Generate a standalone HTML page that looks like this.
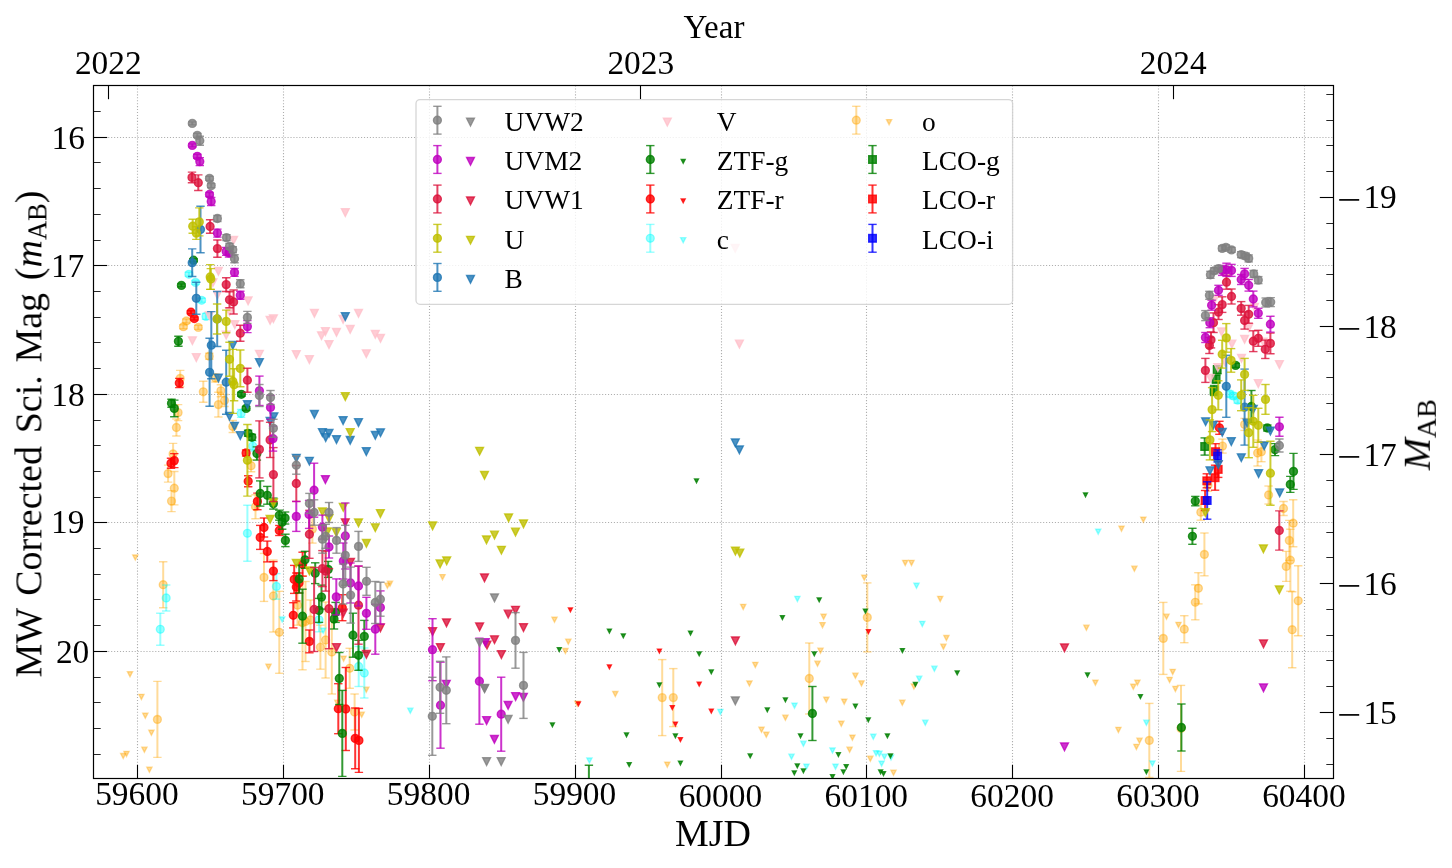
<!DOCTYPE html>
<html><head><meta charset="utf-8"><title>Light curve</title>
<style>html,body{margin:0;padding:0;background:#fff;}body{width:1452px;height:868px;overflow:hidden;position:relative;font-family:"Liberation Serif",serif;}</style></head>
<body>
<svg width="1452" height="868" viewBox="0 0 1452 868" style="position:absolute;left:0;top:0">
<rect x="0" y="0" width="1452" height="868" fill="#fff"/>
<defs><clipPath id="cp"><rect x="93.5" y="85.5" width="1240.0" height="693.0"/></clipPath></defs>
<g stroke="#aeaeae" stroke-width="1.1" stroke-dasharray="1.1 1.84" fill="none">
<line x1="137.5" y1="85.5" x2="137.5" y2="778.5"/>
<line x1="283.5" y1="85.5" x2="283.5" y2="778.5"/>
<line x1="429.5" y1="85.5" x2="429.5" y2="778.5"/>
<line x1="575.5" y1="85.5" x2="575.5" y2="778.5"/>
<line x1="721.5" y1="85.5" x2="721.5" y2="778.5"/>
<line x1="866.5" y1="85.5" x2="866.5" y2="778.5"/>
<line x1="1012.5" y1="85.5" x2="1012.5" y2="778.5"/>
<line x1="1158.5" y1="85.5" x2="1158.5" y2="778.5"/>
<line x1="1304.5" y1="85.5" x2="1304.5" y2="778.5"/>
<line x1="93.5" y1="137.5" x2="1333.5" y2="137.5"/>
<line x1="93.5" y1="265.5" x2="1333.5" y2="265.5"/>
<line x1="93.5" y1="394.5" x2="1333.5" y2="394.5"/>
<line x1="93.5" y1="522.5" x2="1333.5" y2="522.5"/>
<line x1="93.5" y1="651.5" x2="1333.5" y2="651.5"/>
</g>
<g clip-path="url(#cp)">
<g id="s_o">
<g stroke="#ffa500" stroke-opacity="0.4" fill="none"><line x1="186.4" y1="319.0" x2="186.4" y2="323.0" stroke-width="2.0"/><line x1="182.2" y1="319.0" x2="190.6" y2="319.0" stroke-width="1.4"/><line x1="182.2" y1="323.0" x2="190.6" y2="323.0" stroke-width="1.4"/></g>
<g stroke="#ffa500" stroke-opacity="0.4" fill="none"><line x1="183.4" y1="324.7" x2="183.4" y2="328.7" stroke-width="2.0"/><line x1="179.2" y1="324.7" x2="187.6" y2="324.7" stroke-width="1.4"/><line x1="179.2" y1="328.7" x2="187.6" y2="328.7" stroke-width="1.4"/></g>
<g stroke="#ffa500" stroke-opacity="0.4" fill="none"><line x1="198.3" y1="325.4" x2="198.3" y2="329.4" stroke-width="2.0"/><line x1="194.1" y1="325.4" x2="202.5" y2="325.4" stroke-width="1.4"/><line x1="194.1" y1="329.4" x2="202.5" y2="329.4" stroke-width="1.4"/></g>
<g stroke="#ffa500" stroke-opacity="0.4" fill="none"><line x1="209.3" y1="353.2" x2="209.3" y2="359.2" stroke-width="2.0"/><line x1="205.1" y1="353.2" x2="213.5" y2="353.2" stroke-width="1.4"/><line x1="205.1" y1="359.2" x2="213.5" y2="359.2" stroke-width="1.4"/></g>
<g stroke="#ffa500" stroke-opacity="0.4" fill="none"><line x1="180.2" y1="370.4" x2="180.2" y2="386.4" stroke-width="2.0"/><line x1="176.0" y1="370.4" x2="184.4" y2="370.4" stroke-width="1.4"/><line x1="176.0" y1="386.4" x2="184.4" y2="386.4" stroke-width="1.4"/></g>
<g stroke="#ffa500" stroke-opacity="0.4" fill="none"><line x1="203.3" y1="381.3" x2="203.3" y2="402.3" stroke-width="2.0"/><line x1="199.1" y1="381.3" x2="207.5" y2="381.3" stroke-width="1.4"/><line x1="199.1" y1="402.3" x2="207.5" y2="402.3" stroke-width="1.4"/></g>
<g stroke="#ffa500" stroke-opacity="0.4" fill="none"><line x1="215.4" y1="374.0" x2="215.4" y2="382.0" stroke-width="2.0"/><line x1="211.2" y1="374.0" x2="219.6" y2="374.0" stroke-width="1.4"/><line x1="211.2" y1="382.0" x2="219.6" y2="382.0" stroke-width="1.4"/></g>
<g stroke="#ffa500" stroke-opacity="0.4" fill="none"><line x1="220.9" y1="384.8" x2="220.9" y2="396.8" stroke-width="2.0"/><line x1="216.7" y1="384.8" x2="225.1" y2="384.8" stroke-width="1.4"/><line x1="216.7" y1="396.8" x2="225.1" y2="396.8" stroke-width="1.4"/></g>
<g stroke="#ffa500" stroke-opacity="0.4" fill="none"><line x1="224.5" y1="394.5" x2="224.5" y2="406.5" stroke-width="2.0"/><line x1="220.3" y1="394.5" x2="228.7" y2="394.5" stroke-width="1.4"/><line x1="220.3" y1="406.5" x2="228.7" y2="406.5" stroke-width="1.4"/></g>
<g stroke="#ffa500" stroke-opacity="0.4" fill="none"><line x1="218.4" y1="392.2" x2="218.4" y2="417.0" stroke-width="2.0"/><line x1="214.2" y1="392.2" x2="222.6" y2="392.2" stroke-width="1.4"/><line x1="214.2" y1="417.0" x2="222.6" y2="417.0" stroke-width="1.4"/></g>
<g stroke="#ffa500" stroke-opacity="0.4" fill="none"><line x1="178.1" y1="404.6" x2="178.1" y2="420.6" stroke-width="2.0"/><line x1="173.9" y1="404.6" x2="182.3" y2="404.6" stroke-width="1.4"/><line x1="173.9" y1="420.6" x2="182.3" y2="420.6" stroke-width="1.4"/></g>
<g stroke="#ffa500" stroke-opacity="0.4" fill="none"><line x1="176.4" y1="419.0" x2="176.4" y2="436.0" stroke-width="2.0"/><line x1="172.2" y1="419.0" x2="180.6" y2="419.0" stroke-width="1.4"/><line x1="172.2" y1="436.0" x2="180.6" y2="436.0" stroke-width="1.4"/></g>
<g stroke="#ffa500" stroke-opacity="0.4" fill="none"><line x1="232.8" y1="420.5" x2="232.8" y2="432.5" stroke-width="2.0"/><line x1="228.6" y1="420.5" x2="237.0" y2="420.5" stroke-width="1.4"/><line x1="228.6" y1="432.5" x2="237.0" y2="432.5" stroke-width="1.4"/></g>
<g stroke="#ffa500" stroke-opacity="0.4" fill="none"><line x1="173.1" y1="443.4" x2="173.1" y2="464.4" stroke-width="2.0"/><line x1="168.9" y1="443.4" x2="177.3" y2="443.4" stroke-width="1.4"/><line x1="168.9" y1="464.4" x2="177.3" y2="464.4" stroke-width="1.4"/></g>
<g stroke="#ffa500" stroke-opacity="0.4" fill="none"><line x1="251.1" y1="459.7" x2="251.1" y2="471.7" stroke-width="2.0"/><line x1="246.9" y1="459.7" x2="255.3" y2="459.7" stroke-width="1.4"/><line x1="246.9" y1="471.7" x2="255.3" y2="471.7" stroke-width="1.4"/></g>
<g stroke="#ffa500" stroke-opacity="0.4" fill="none"><line x1="168.1" y1="465.1" x2="168.1" y2="482.1" stroke-width="2.0"/><line x1="163.9" y1="465.1" x2="172.3" y2="465.1" stroke-width="1.4"/><line x1="163.9" y1="482.1" x2="172.3" y2="482.1" stroke-width="1.4"/></g>
<g stroke="#ffa500" stroke-opacity="0.4" fill="none"><line x1="174.3" y1="471.5" x2="174.3" y2="504.9" stroke-width="2.0"/><line x1="170.1" y1="471.5" x2="178.5" y2="471.5" stroke-width="1.4"/><line x1="170.1" y1="504.9" x2="178.5" y2="504.9" stroke-width="1.4"/></g>
<g stroke="#ffa500" stroke-opacity="0.4" fill="none"><line x1="171.5" y1="490.6" x2="171.5" y2="511.6" stroke-width="2.0"/><line x1="167.3" y1="490.6" x2="175.7" y2="490.6" stroke-width="1.4"/><line x1="167.3" y1="511.6" x2="175.7" y2="511.6" stroke-width="1.4"/></g>
<g stroke="#ffa500" stroke-opacity="0.4" fill="none"><line x1="255.5" y1="494.7" x2="255.5" y2="518.7" stroke-width="2.0"/><line x1="251.3" y1="494.7" x2="259.7" y2="494.7" stroke-width="1.4"/><line x1="251.3" y1="518.7" x2="259.7" y2="518.7" stroke-width="1.4"/></g>
<g stroke="#ffa500" stroke-opacity="0.4" fill="none"><line x1="163.2" y1="561.7" x2="163.2" y2="607.7" stroke-width="2.0"/><line x1="159.0" y1="561.7" x2="167.4" y2="561.7" stroke-width="1.4"/><line x1="159.0" y1="607.7" x2="167.4" y2="607.7" stroke-width="1.4"/></g>
<g stroke="#ffa500" stroke-opacity="0.4" fill="none"><line x1="157.4" y1="681.4" x2="157.4" y2="757.4" stroke-width="2.0"/><line x1="153.2" y1="681.4" x2="161.6" y2="681.4" stroke-width="1.4"/><line x1="153.2" y1="757.4" x2="161.6" y2="757.4" stroke-width="1.4"/></g>
<g stroke="#ffa500" stroke-opacity="0.4" fill="none"><line x1="264.0" y1="553.4" x2="264.0" y2="601.4" stroke-width="2.0"/><line x1="259.8" y1="553.4" x2="268.2" y2="553.4" stroke-width="1.4"/><line x1="259.8" y1="601.4" x2="268.2" y2="601.4" stroke-width="1.4"/></g>
<g stroke="#ffa500" stroke-opacity="0.4" fill="none"><line x1="273.4" y1="560.0" x2="273.4" y2="632.0" stroke-width="2.0"/><line x1="269.2" y1="560.0" x2="277.6" y2="560.0" stroke-width="1.4"/><line x1="269.2" y1="632.0" x2="277.6" y2="632.0" stroke-width="1.4"/></g>
<g stroke="#ffa500" stroke-opacity="0.4" fill="none"><line x1="279.3" y1="591.3" x2="279.3" y2="673.3" stroke-width="2.0"/><line x1="275.1" y1="591.3" x2="283.5" y2="591.3" stroke-width="1.4"/><line x1="275.1" y1="673.3" x2="283.5" y2="673.3" stroke-width="1.4"/></g>
<g stroke="#ffa500" stroke-opacity="0.4" fill="none"><line x1="297.5" y1="585.2" x2="297.5" y2="625.2" stroke-width="2.0"/><line x1="293.3" y1="585.2" x2="301.7" y2="585.2" stroke-width="1.4"/><line x1="293.3" y1="625.2" x2="301.7" y2="625.2" stroke-width="1.4"/></g>
<g stroke="#ffa500" stroke-opacity="0.4" fill="none"><line x1="302.5" y1="575.8" x2="302.5" y2="669.8" stroke-width="2.0"/><line x1="298.3" y1="575.8" x2="306.7" y2="575.8" stroke-width="1.4"/><line x1="298.3" y1="669.8" x2="306.7" y2="669.8" stroke-width="1.4"/></g>
<g stroke="#ffa500" stroke-opacity="0.4" fill="none"><line x1="312.4" y1="515.1" x2="312.4" y2="543.1" stroke-width="2.0"/><line x1="308.2" y1="515.1" x2="316.6" y2="515.1" stroke-width="1.4"/><line x1="308.2" y1="543.1" x2="316.6" y2="543.1" stroke-width="1.4"/></g>
<g stroke="#ffa500" stroke-opacity="0.4" fill="none"><line x1="320.4" y1="625.2" x2="320.4" y2="669.2" stroke-width="2.0"/><line x1="316.2" y1="625.2" x2="324.6" y2="625.2" stroke-width="1.4"/><line x1="316.2" y1="669.2" x2="324.6" y2="669.2" stroke-width="1.4"/></g>
<g stroke="#ffa500" stroke-opacity="0.4" fill="none"><line x1="349.7" y1="648.3" x2="349.7" y2="688.3" stroke-width="2.0"/><line x1="345.5" y1="648.3" x2="353.9" y2="648.3" stroke-width="1.4"/><line x1="345.5" y1="688.3" x2="353.9" y2="688.3" stroke-width="1.4"/></g>
<g stroke="#ffa500" stroke-opacity="0.4" fill="none"><line x1="354.6" y1="694.0" x2="354.6" y2="730.0" stroke-width="2.0"/><line x1="350.4" y1="694.0" x2="358.8" y2="694.0" stroke-width="1.4"/><line x1="350.4" y1="730.0" x2="358.8" y2="730.0" stroke-width="1.4"/></g>
<g stroke="#ffa500" stroke-opacity="0.4" fill="none"><line x1="662.2" y1="659.6" x2="662.2" y2="735.6" stroke-width="2.0"/><line x1="658.0" y1="659.6" x2="666.4" y2="659.6" stroke-width="1.4"/><line x1="658.0" y1="735.6" x2="666.4" y2="735.6" stroke-width="1.4"/></g>
<g stroke="#ffa500" stroke-opacity="0.4" fill="none"><line x1="673.3" y1="668.6" x2="673.3" y2="726.6" stroke-width="2.0"/><line x1="669.1" y1="668.6" x2="677.5" y2="668.6" stroke-width="1.4"/><line x1="669.1" y1="726.6" x2="677.5" y2="726.6" stroke-width="1.4"/></g>
<g stroke="#ffa500" stroke-opacity="0.4" fill="none"><line x1="809.3" y1="643.0" x2="809.3" y2="714.0" stroke-width="2.0"/><line x1="805.1" y1="643.0" x2="813.5" y2="643.0" stroke-width="1.4"/><line x1="805.1" y1="714.0" x2="813.5" y2="714.0" stroke-width="1.4"/></g>
<g stroke="#ffa500" stroke-opacity="0.4" fill="none"><line x1="867.3" y1="582.9" x2="867.3" y2="651.9" stroke-width="2.0"/><line x1="863.1" y1="582.9" x2="871.5" y2="582.9" stroke-width="1.4"/><line x1="863.1" y1="651.9" x2="871.5" y2="651.9" stroke-width="1.4"/></g>
<g stroke="#ffa500" stroke-opacity="0.4" fill="none"><line x1="1200.8" y1="504.2" x2="1200.8" y2="520.2" stroke-width="2.0"/><line x1="1196.6" y1="504.2" x2="1205.0" y2="504.2" stroke-width="1.4"/><line x1="1196.6" y1="520.2" x2="1205.0" y2="520.2" stroke-width="1.4"/></g>
<g stroke="#ffa500" stroke-opacity="0.4" fill="none"><line x1="1204.4" y1="533.0" x2="1204.4" y2="575.8" stroke-width="2.0"/><line x1="1200.2" y1="533.0" x2="1208.6" y2="533.0" stroke-width="1.4"/><line x1="1200.2" y1="575.8" x2="1208.6" y2="575.8" stroke-width="1.4"/></g>
<g stroke="#ffa500" stroke-opacity="0.4" fill="none"><line x1="1198.4" y1="572.7" x2="1198.4" y2="603.9" stroke-width="2.0"/><line x1="1194.2" y1="572.7" x2="1202.6" y2="572.7" stroke-width="1.4"/><line x1="1194.2" y1="603.9" x2="1202.6" y2="603.9" stroke-width="1.4"/></g>
<g stroke="#ffa500" stroke-opacity="0.4" fill="none"><line x1="1195.3" y1="584.8" x2="1195.3" y2="619.8" stroke-width="2.0"/><line x1="1191.1" y1="584.8" x2="1199.5" y2="584.8" stroke-width="1.4"/><line x1="1191.1" y1="619.8" x2="1199.5" y2="619.8" stroke-width="1.4"/></g>
<g stroke="#ffa500" stroke-opacity="0.4" fill="none"><line x1="1184.3" y1="615.7" x2="1184.3" y2="642.7" stroke-width="2.0"/><line x1="1180.1" y1="615.7" x2="1188.5" y2="615.7" stroke-width="1.4"/><line x1="1180.1" y1="642.7" x2="1188.5" y2="642.7" stroke-width="1.4"/></g>
<g stroke="#ffa500" stroke-opacity="0.4" fill="none"><line x1="1163.3" y1="602.4" x2="1163.3" y2="674.4" stroke-width="2.0"/><line x1="1159.1" y1="602.4" x2="1167.5" y2="602.4" stroke-width="1.4"/><line x1="1159.1" y1="674.4" x2="1167.5" y2="674.4" stroke-width="1.4"/></g>
<g stroke="#ffa500" stroke-opacity="0.4" fill="none"><line x1="1149.3" y1="703.4" x2="1149.3" y2="777.4" stroke-width="2.0"/><line x1="1145.1" y1="703.4" x2="1153.5" y2="703.4" stroke-width="1.4"/><line x1="1145.1" y1="777.4" x2="1153.5" y2="777.4" stroke-width="1.4"/></g>
<g stroke="#ffa500" stroke-opacity="0.4" fill="none"><line x1="1181.0" y1="685.4" x2="1181.0" y2="771.4" stroke-width="2.0"/><line x1="1176.8" y1="685.4" x2="1185.2" y2="685.4" stroke-width="1.4"/><line x1="1176.8" y1="771.4" x2="1185.2" y2="771.4" stroke-width="1.4"/></g>
<g stroke="#ffa500" stroke-opacity="0.4" fill="none"><line x1="1207.9" y1="479.3" x2="1207.9" y2="491.3" stroke-width="2.0"/><line x1="1203.7" y1="479.3" x2="1212.1" y2="479.3" stroke-width="1.4"/><line x1="1203.7" y1="491.3" x2="1212.1" y2="491.3" stroke-width="1.4"/></g>
<g stroke="#ffa500" stroke-opacity="0.4" fill="none"><line x1="1222.5" y1="439.1" x2="1222.5" y2="453.1" stroke-width="2.0"/><line x1="1218.3" y1="439.1" x2="1226.7" y2="439.1" stroke-width="1.4"/><line x1="1218.3" y1="453.1" x2="1226.7" y2="453.1" stroke-width="1.4"/></g>
<g stroke="#ffa500" stroke-opacity="0.4" fill="none"><line x1="1257.6" y1="440.0" x2="1257.6" y2="466.0" stroke-width="2.0"/><line x1="1253.4" y1="440.0" x2="1261.8" y2="440.0" stroke-width="1.4"/><line x1="1253.4" y1="466.0" x2="1261.8" y2="466.0" stroke-width="1.4"/></g>
<g stroke="#ffa500" stroke-opacity="0.4" fill="none"><line x1="1261.4" y1="441.7" x2="1261.4" y2="461.7" stroke-width="2.0"/><line x1="1257.2" y1="441.7" x2="1265.6" y2="441.7" stroke-width="1.4"/><line x1="1257.2" y1="461.7" x2="1265.6" y2="461.7" stroke-width="1.4"/></g>
<g stroke="#ffa500" stroke-opacity="0.4" fill="none"><line x1="1244.6" y1="418.4" x2="1244.6" y2="430.4" stroke-width="2.0"/><line x1="1240.4" y1="418.4" x2="1248.8" y2="418.4" stroke-width="1.4"/><line x1="1240.4" y1="430.4" x2="1248.8" y2="430.4" stroke-width="1.4"/></g>
<g stroke="#ffa500" stroke-opacity="0.4" fill="none"><line x1="1268.6" y1="486.0" x2="1268.6" y2="504.0" stroke-width="2.0"/><line x1="1264.4" y1="486.0" x2="1272.8" y2="486.0" stroke-width="1.4"/><line x1="1264.4" y1="504.0" x2="1272.8" y2="504.0" stroke-width="1.4"/></g>
<g stroke="#ffa500" stroke-opacity="0.4" fill="none"><line x1="1283.5" y1="501.5" x2="1283.5" y2="515.5" stroke-width="2.0"/><line x1="1279.3" y1="501.5" x2="1287.7" y2="501.5" stroke-width="1.4"/><line x1="1279.3" y1="515.5" x2="1287.7" y2="515.5" stroke-width="1.4"/></g>
<g stroke="#ffa500" stroke-opacity="0.4" fill="none"><line x1="1293.2" y1="499.7" x2="1293.2" y2="546.7" stroke-width="2.0"/><line x1="1289.0" y1="499.7" x2="1297.4" y2="499.7" stroke-width="1.4"/><line x1="1289.0" y1="546.7" x2="1297.4" y2="546.7" stroke-width="1.4"/></g>
<g stroke="#ffa500" stroke-opacity="0.4" fill="none"><line x1="1289.3" y1="520.4" x2="1289.3" y2="560.4" stroke-width="2.0"/><line x1="1285.1" y1="520.4" x2="1293.5" y2="520.4" stroke-width="1.4"/><line x1="1285.1" y1="560.4" x2="1293.5" y2="560.4" stroke-width="1.4"/></g>
<g stroke="#ffa500" stroke-opacity="0.4" fill="none"><line x1="1290.4" y1="529.2" x2="1290.4" y2="591.2" stroke-width="2.0"/><line x1="1286.2" y1="529.2" x2="1294.6" y2="529.2" stroke-width="1.4"/><line x1="1286.2" y1="591.2" x2="1294.6" y2="591.2" stroke-width="1.4"/></g>
<g stroke="#ffa500" stroke-opacity="0.4" fill="none"><line x1="1286.2" y1="551.4" x2="1286.2" y2="581.4" stroke-width="2.0"/><line x1="1282.0" y1="551.4" x2="1290.4" y2="551.4" stroke-width="1.4"/><line x1="1282.0" y1="581.4" x2="1290.4" y2="581.4" stroke-width="1.4"/></g>
<g stroke="#ffa500" stroke-opacity="0.4" fill="none"><line x1="1298.2" y1="565.8" x2="1298.2" y2="635.8" stroke-width="2.0"/><line x1="1294.0" y1="565.8" x2="1302.4" y2="565.8" stroke-width="1.4"/><line x1="1294.0" y1="635.8" x2="1302.4" y2="635.8" stroke-width="1.4"/></g>
<g stroke="#ffa500" stroke-opacity="0.4" fill="none"><line x1="1292.2" y1="591.7" x2="1292.2" y2="667.7" stroke-width="2.0"/><line x1="1288.0" y1="591.7" x2="1296.4" y2="591.7" stroke-width="1.4"/><line x1="1288.0" y1="667.7" x2="1296.4" y2="667.7" stroke-width="1.4"/></g>
<g stroke="#ffa500" stroke-opacity="0.4" fill="none"><line x1="305.5" y1="581.5" x2="305.5" y2="661.5" stroke-width="2.0"/><line x1="301.3" y1="581.5" x2="309.7" y2="581.5" stroke-width="1.4"/><line x1="301.3" y1="661.5" x2="309.7" y2="661.5" stroke-width="1.4"/></g>
<g stroke="#ffa500" stroke-opacity="0.4" fill="none"><line x1="325.6" y1="602.0" x2="325.6" y2="678.0" stroke-width="2.0"/><line x1="321.4" y1="602.0" x2="329.8" y2="602.0" stroke-width="1.4"/><line x1="321.4" y1="678.0" x2="329.8" y2="678.0" stroke-width="1.4"/></g>
<g stroke="#ffa500" stroke-opacity="0.4" fill="none"><line x1="331.8" y1="610.0" x2="331.8" y2="694.0" stroke-width="2.0"/><line x1="327.6" y1="610.0" x2="336.0" y2="610.0" stroke-width="1.4"/><line x1="327.6" y1="694.0" x2="336.0" y2="694.0" stroke-width="1.4"/></g>
<g stroke="#ffa500" stroke-opacity="0.4" fill="none"><line x1="310.5" y1="600.0" x2="310.5" y2="640.0" stroke-width="2.0"/><line x1="306.3" y1="600.0" x2="314.7" y2="600.0" stroke-width="1.4"/><line x1="306.3" y1="640.0" x2="314.7" y2="640.0" stroke-width="1.4"/></g>
<circle cx="186.4" cy="321.0" r="3.95" fill="#ffa500" fill-opacity="0.4" stroke="#ffa500" stroke-opacity="0.4" stroke-width="1.39"/>
<circle cx="183.4" cy="326.7" r="3.95" fill="#ffa500" fill-opacity="0.4" stroke="#ffa500" stroke-opacity="0.4" stroke-width="1.39"/>
<circle cx="198.3" cy="327.4" r="3.95" fill="#ffa500" fill-opacity="0.4" stroke="#ffa500" stroke-opacity="0.4" stroke-width="1.39"/>
<circle cx="209.3" cy="356.2" r="3.95" fill="#ffa500" fill-opacity="0.4" stroke="#ffa500" stroke-opacity="0.4" stroke-width="1.39"/>
<circle cx="180.2" cy="378.4" r="3.95" fill="#ffa500" fill-opacity="0.4" stroke="#ffa500" stroke-opacity="0.4" stroke-width="1.39"/>
<circle cx="203.3" cy="391.8" r="3.95" fill="#ffa500" fill-opacity="0.4" stroke="#ffa500" stroke-opacity="0.4" stroke-width="1.39"/>
<circle cx="215.4" cy="378.0" r="3.95" fill="#ffa500" fill-opacity="0.4" stroke="#ffa500" stroke-opacity="0.4" stroke-width="1.39"/>
<circle cx="220.9" cy="390.8" r="3.95" fill="#ffa500" fill-opacity="0.4" stroke="#ffa500" stroke-opacity="0.4" stroke-width="1.39"/>
<circle cx="224.5" cy="400.5" r="3.95" fill="#ffa500" fill-opacity="0.4" stroke="#ffa500" stroke-opacity="0.4" stroke-width="1.39"/>
<circle cx="218.4" cy="404.6" r="3.95" fill="#ffa500" fill-opacity="0.4" stroke="#ffa500" stroke-opacity="0.4" stroke-width="1.39"/>
<circle cx="178.1" cy="412.6" r="3.95" fill="#ffa500" fill-opacity="0.4" stroke="#ffa500" stroke-opacity="0.4" stroke-width="1.39"/>
<circle cx="176.4" cy="427.5" r="3.95" fill="#ffa500" fill-opacity="0.4" stroke="#ffa500" stroke-opacity="0.4" stroke-width="1.39"/>
<circle cx="232.8" cy="426.5" r="3.95" fill="#ffa500" fill-opacity="0.4" stroke="#ffa500" stroke-opacity="0.4" stroke-width="1.39"/>
<circle cx="173.1" cy="453.9" r="3.95" fill="#ffa500" fill-opacity="0.4" stroke="#ffa500" stroke-opacity="0.4" stroke-width="1.39"/>
<circle cx="251.1" cy="465.7" r="3.95" fill="#ffa500" fill-opacity="0.4" stroke="#ffa500" stroke-opacity="0.4" stroke-width="1.39"/>
<circle cx="168.1" cy="473.6" r="3.95" fill="#ffa500" fill-opacity="0.4" stroke="#ffa500" stroke-opacity="0.4" stroke-width="1.39"/>
<circle cx="174.3" cy="488.2" r="3.95" fill="#ffa500" fill-opacity="0.4" stroke="#ffa500" stroke-opacity="0.4" stroke-width="1.39"/>
<circle cx="171.5" cy="501.1" r="3.95" fill="#ffa500" fill-opacity="0.4" stroke="#ffa500" stroke-opacity="0.4" stroke-width="1.39"/>
<circle cx="255.5" cy="506.7" r="3.95" fill="#ffa500" fill-opacity="0.4" stroke="#ffa500" stroke-opacity="0.4" stroke-width="1.39"/>
<circle cx="163.2" cy="584.7" r="3.95" fill="#ffa500" fill-opacity="0.4" stroke="#ffa500" stroke-opacity="0.4" stroke-width="1.39"/>
<circle cx="157.4" cy="719.4" r="3.95" fill="#ffa500" fill-opacity="0.4" stroke="#ffa500" stroke-opacity="0.4" stroke-width="1.39"/>
<circle cx="264.0" cy="577.4" r="3.95" fill="#ffa500" fill-opacity="0.4" stroke="#ffa500" stroke-opacity="0.4" stroke-width="1.39"/>
<circle cx="273.4" cy="596.0" r="3.95" fill="#ffa500" fill-opacity="0.4" stroke="#ffa500" stroke-opacity="0.4" stroke-width="1.39"/>
<circle cx="279.3" cy="632.3" r="3.95" fill="#ffa500" fill-opacity="0.4" stroke="#ffa500" stroke-opacity="0.4" stroke-width="1.39"/>
<circle cx="297.5" cy="605.2" r="3.95" fill="#ffa500" fill-opacity="0.4" stroke="#ffa500" stroke-opacity="0.4" stroke-width="1.39"/>
<circle cx="302.5" cy="622.8" r="3.95" fill="#ffa500" fill-opacity="0.4" stroke="#ffa500" stroke-opacity="0.4" stroke-width="1.39"/>
<circle cx="312.4" cy="529.1" r="3.95" fill="#ffa500" fill-opacity="0.4" stroke="#ffa500" stroke-opacity="0.4" stroke-width="1.39"/>
<circle cx="320.4" cy="647.2" r="3.95" fill="#ffa500" fill-opacity="0.4" stroke="#ffa500" stroke-opacity="0.4" stroke-width="1.39"/>
<circle cx="349.7" cy="668.3" r="3.95" fill="#ffa500" fill-opacity="0.4" stroke="#ffa500" stroke-opacity="0.4" stroke-width="1.39"/>
<circle cx="354.6" cy="712.0" r="3.95" fill="#ffa500" fill-opacity="0.4" stroke="#ffa500" stroke-opacity="0.4" stroke-width="1.39"/>
<circle cx="662.2" cy="697.6" r="3.95" fill="#ffa500" fill-opacity="0.4" stroke="#ffa500" stroke-opacity="0.4" stroke-width="1.39"/>
<circle cx="673.3" cy="697.6" r="3.95" fill="#ffa500" fill-opacity="0.4" stroke="#ffa500" stroke-opacity="0.4" stroke-width="1.39"/>
<circle cx="809.3" cy="678.5" r="3.95" fill="#ffa500" fill-opacity="0.4" stroke="#ffa500" stroke-opacity="0.4" stroke-width="1.39"/>
<circle cx="867.3" cy="617.4" r="3.95" fill="#ffa500" fill-opacity="0.4" stroke="#ffa500" stroke-opacity="0.4" stroke-width="1.39"/>
<circle cx="1200.8" cy="512.2" r="3.95" fill="#ffa500" fill-opacity="0.4" stroke="#ffa500" stroke-opacity="0.4" stroke-width="1.39"/>
<circle cx="1204.4" cy="554.4" r="3.95" fill="#ffa500" fill-opacity="0.4" stroke="#ffa500" stroke-opacity="0.4" stroke-width="1.39"/>
<circle cx="1198.4" cy="588.3" r="3.95" fill="#ffa500" fill-opacity="0.4" stroke="#ffa500" stroke-opacity="0.4" stroke-width="1.39"/>
<circle cx="1195.3" cy="602.3" r="3.95" fill="#ffa500" fill-opacity="0.4" stroke="#ffa500" stroke-opacity="0.4" stroke-width="1.39"/>
<circle cx="1184.3" cy="629.2" r="3.95" fill="#ffa500" fill-opacity="0.4" stroke="#ffa500" stroke-opacity="0.4" stroke-width="1.39"/>
<circle cx="1163.3" cy="638.4" r="3.95" fill="#ffa500" fill-opacity="0.4" stroke="#ffa500" stroke-opacity="0.4" stroke-width="1.39"/>
<circle cx="1149.3" cy="740.4" r="3.95" fill="#ffa500" fill-opacity="0.4" stroke="#ffa500" stroke-opacity="0.4" stroke-width="1.39"/>
<circle cx="1181.0" cy="728.4" r="3.95" fill="#ffa500" fill-opacity="0.4" stroke="#ffa500" stroke-opacity="0.4" stroke-width="1.39"/>
<circle cx="1207.9" cy="485.3" r="3.95" fill="#ffa500" fill-opacity="0.4" stroke="#ffa500" stroke-opacity="0.4" stroke-width="1.39"/>
<circle cx="1222.5" cy="446.1" r="3.95" fill="#ffa500" fill-opacity="0.4" stroke="#ffa500" stroke-opacity="0.4" stroke-width="1.39"/>
<circle cx="1257.6" cy="453.0" r="3.95" fill="#ffa500" fill-opacity="0.4" stroke="#ffa500" stroke-opacity="0.4" stroke-width="1.39"/>
<circle cx="1261.4" cy="451.7" r="3.95" fill="#ffa500" fill-opacity="0.4" stroke="#ffa500" stroke-opacity="0.4" stroke-width="1.39"/>
<circle cx="1244.6" cy="424.4" r="3.95" fill="#ffa500" fill-opacity="0.4" stroke="#ffa500" stroke-opacity="0.4" stroke-width="1.39"/>
<circle cx="1268.6" cy="495.0" r="3.95" fill="#ffa500" fill-opacity="0.4" stroke="#ffa500" stroke-opacity="0.4" stroke-width="1.39"/>
<circle cx="1283.5" cy="508.5" r="3.95" fill="#ffa500" fill-opacity="0.4" stroke="#ffa500" stroke-opacity="0.4" stroke-width="1.39"/>
<circle cx="1293.2" cy="523.2" r="3.95" fill="#ffa500" fill-opacity="0.4" stroke="#ffa500" stroke-opacity="0.4" stroke-width="1.39"/>
<circle cx="1289.3" cy="540.4" r="3.95" fill="#ffa500" fill-opacity="0.4" stroke="#ffa500" stroke-opacity="0.4" stroke-width="1.39"/>
<circle cx="1290.4" cy="560.2" r="3.95" fill="#ffa500" fill-opacity="0.4" stroke="#ffa500" stroke-opacity="0.4" stroke-width="1.39"/>
<circle cx="1286.2" cy="566.4" r="3.95" fill="#ffa500" fill-opacity="0.4" stroke="#ffa500" stroke-opacity="0.4" stroke-width="1.39"/>
<circle cx="1298.2" cy="600.8" r="3.95" fill="#ffa500" fill-opacity="0.4" stroke="#ffa500" stroke-opacity="0.4" stroke-width="1.39"/>
<circle cx="1292.2" cy="629.7" r="3.95" fill="#ffa500" fill-opacity="0.4" stroke="#ffa500" stroke-opacity="0.4" stroke-width="1.39"/>
<circle cx="305.5" cy="621.5" r="3.95" fill="#ffa500" fill-opacity="0.4" stroke="#ffa500" stroke-opacity="0.4" stroke-width="1.39"/>
<circle cx="325.6" cy="640.0" r="3.95" fill="#ffa500" fill-opacity="0.4" stroke="#ffa500" stroke-opacity="0.4" stroke-width="1.39"/>
<circle cx="331.8" cy="652.0" r="3.95" fill="#ffa500" fill-opacity="0.4" stroke="#ffa500" stroke-opacity="0.4" stroke-width="1.39"/>
<circle cx="310.5" cy="620.0" r="3.95" fill="#ffa500" fill-opacity="0.4" stroke="#ffa500" stroke-opacity="0.4" stroke-width="1.39"/>
<path d="M132.71,554.97L137.89,554.97L135.30,560.02Z" fill="#ffa500" fill-opacity="0.4" stroke="#ffa500" stroke-opacity="0.4" stroke-width="1.39" stroke-linejoin="miter" stroke-miterlimit="10"/>
<path d="M127.41,671.77L132.59,671.77L130.00,676.82Z" fill="#ffa500" fill-opacity="0.4" stroke="#ffa500" stroke-opacity="0.4" stroke-width="1.39" stroke-linejoin="miter" stroke-miterlimit="10"/>
<path d="M138.81,694.37L143.99,694.37L141.40,699.42Z" fill="#ffa500" fill-opacity="0.4" stroke="#ffa500" stroke-opacity="0.4" stroke-width="1.39" stroke-linejoin="miter" stroke-miterlimit="10"/>
<path d="M142.71,713.27L147.89,713.27L145.30,718.32Z" fill="#ffa500" fill-opacity="0.4" stroke="#ffa500" stroke-opacity="0.4" stroke-width="1.39" stroke-linejoin="miter" stroke-miterlimit="10"/>
<path d="M148.81,730.27L153.99,730.27L151.40,735.32Z" fill="#ffa500" fill-opacity="0.4" stroke="#ffa500" stroke-opacity="0.4" stroke-width="1.39" stroke-linejoin="miter" stroke-miterlimit="10"/>
<path d="M141.81,747.17L146.99,747.17L144.40,752.22Z" fill="#ffa500" fill-opacity="0.4" stroke="#ffa500" stroke-opacity="0.4" stroke-width="1.39" stroke-linejoin="miter" stroke-miterlimit="10"/>
<path d="M123.91,751.37L129.09,751.37L126.50,756.42Z" fill="#ffa500" fill-opacity="0.4" stroke="#ffa500" stroke-opacity="0.4" stroke-width="1.39" stroke-linejoin="miter" stroke-miterlimit="10"/>
<path d="M120.61,753.47L125.79,753.47L123.20,758.52Z" fill="#ffa500" fill-opacity="0.4" stroke="#ffa500" stroke-opacity="0.4" stroke-width="1.39" stroke-linejoin="miter" stroke-miterlimit="10"/>
<path d="M146.81,767.27L151.99,767.27L149.40,772.32Z" fill="#ffa500" fill-opacity="0.4" stroke="#ffa500" stroke-opacity="0.4" stroke-width="1.39" stroke-linejoin="miter" stroke-miterlimit="10"/>
<path d="M265.91,664.27L271.09,664.27L268.50,669.32Z" fill="#ffa500" fill-opacity="0.4" stroke="#ffa500" stroke-opacity="0.4" stroke-width="1.39" stroke-linejoin="miter" stroke-miterlimit="10"/>
<path d="M341.01,656.07L346.19,656.07L343.60,661.12Z" fill="#ffa500" fill-opacity="0.4" stroke="#ffa500" stroke-opacity="0.4" stroke-width="1.39" stroke-linejoin="miter" stroke-miterlimit="10"/>
<path d="M363.71,687.17L368.89,687.17L366.30,692.22Z" fill="#ffa500" fill-opacity="0.4" stroke="#ffa500" stroke-opacity="0.4" stroke-width="1.39" stroke-linejoin="miter" stroke-miterlimit="10"/>
<path d="M334.71,700.17L339.89,700.17L337.30,705.22Z" fill="#ffa500" fill-opacity="0.4" stroke="#ffa500" stroke-opacity="0.4" stroke-width="1.39" stroke-linejoin="miter" stroke-miterlimit="10"/>
<path d="M359.11,712.17L364.29,712.17L361.70,717.22Z" fill="#ffa500" fill-opacity="0.4" stroke="#ffa500" stroke-opacity="0.4" stroke-width="1.39" stroke-linejoin="miter" stroke-miterlimit="10"/>
<path d="M384.81,583.17L389.99,583.17L387.40,588.22Z" fill="#ffa500" fill-opacity="0.4" stroke="#ffa500" stroke-opacity="0.4" stroke-width="1.39" stroke-linejoin="miter" stroke-miterlimit="10"/>
<path d="M387.41,581.17L392.59,581.17L390.00,586.22Z" fill="#ffa500" fill-opacity="0.4" stroke="#ffa500" stroke-opacity="0.4" stroke-width="1.39" stroke-linejoin="miter" stroke-miterlimit="10"/>
<path d="M439.91,574.57L445.09,574.57L442.50,579.62Z" fill="#ffa500" fill-opacity="0.4" stroke="#ffa500" stroke-opacity="0.4" stroke-width="1.39" stroke-linejoin="miter" stroke-miterlimit="10"/>
<path d="M551.91,617.27L557.09,617.27L554.50,622.32Z" fill="#ffa500" fill-opacity="0.4" stroke="#ffa500" stroke-opacity="0.4" stroke-width="1.39" stroke-linejoin="miter" stroke-miterlimit="10"/>
<path d="M565.71,639.17L570.89,639.17L568.30,644.22Z" fill="#ffa500" fill-opacity="0.4" stroke="#ffa500" stroke-opacity="0.4" stroke-width="1.39" stroke-linejoin="miter" stroke-miterlimit="10"/>
<path d="M562.81,648.47L567.99,648.47L565.40,653.52Z" fill="#ffa500" fill-opacity="0.4" stroke="#ffa500" stroke-opacity="0.4" stroke-width="1.39" stroke-linejoin="miter" stroke-miterlimit="10"/>
<path d="M612.71,691.47L617.89,691.47L615.30,696.52Z" fill="#ffa500" fill-opacity="0.4" stroke="#ffa500" stroke-opacity="0.4" stroke-width="1.39" stroke-linejoin="miter" stroke-miterlimit="10"/>
<path d="M574.71,701.07L579.89,701.07L577.30,706.12Z" fill="#ffa500" fill-opacity="0.4" stroke="#ffa500" stroke-opacity="0.4" stroke-width="1.39" stroke-linejoin="miter" stroke-miterlimit="10"/>
<path d="M664.71,762.07L669.89,762.07L667.30,767.12Z" fill="#ffa500" fill-opacity="0.4" stroke="#ffa500" stroke-opacity="0.4" stroke-width="1.39" stroke-linejoin="miter" stroke-miterlimit="10"/>
<path d="M740.61,604.37L745.79,604.37L743.20,609.42Z" fill="#ffa500" fill-opacity="0.4" stroke="#ffa500" stroke-opacity="0.4" stroke-width="1.39" stroke-linejoin="miter" stroke-miterlimit="10"/>
<path d="M752.71,662.37L757.89,662.37L755.30,667.42Z" fill="#ffa500" fill-opacity="0.4" stroke="#ffa500" stroke-opacity="0.4" stroke-width="1.39" stroke-linejoin="miter" stroke-miterlimit="10"/>
<path d="M746.81,680.97L751.99,680.97L749.40,686.02Z" fill="#ffa500" fill-opacity="0.4" stroke="#ffa500" stroke-opacity="0.4" stroke-width="1.39" stroke-linejoin="miter" stroke-miterlimit="10"/>
<path d="M758.91,727.27L764.09,727.27L761.50,732.32Z" fill="#ffa500" fill-opacity="0.4" stroke="#ffa500" stroke-opacity="0.4" stroke-width="1.39" stroke-linejoin="miter" stroke-miterlimit="10"/>
<path d="M763.71,732.27L768.89,732.27L766.30,737.32Z" fill="#ffa500" fill-opacity="0.4" stroke="#ffa500" stroke-opacity="0.4" stroke-width="1.39" stroke-linejoin="miter" stroke-miterlimit="10"/>
<path d="M782.81,715.17L787.99,715.17L785.40,720.22Z" fill="#ffa500" fill-opacity="0.4" stroke="#ffa500" stroke-opacity="0.4" stroke-width="1.39" stroke-linejoin="miter" stroke-miterlimit="10"/>
<path d="M817.91,648.17L823.09,648.17L820.50,653.22Z" fill="#ffa500" fill-opacity="0.4" stroke="#ffa500" stroke-opacity="0.4" stroke-width="1.39" stroke-linejoin="miter" stroke-miterlimit="10"/>
<path d="M814.91,661.17L820.09,661.17L817.50,666.22Z" fill="#ffa500" fill-opacity="0.4" stroke="#ffa500" stroke-opacity="0.4" stroke-width="1.39" stroke-linejoin="miter" stroke-miterlimit="10"/>
<path d="M821.01,614.27L826.19,614.27L823.60,619.32Z" fill="#ffa500" fill-opacity="0.4" stroke="#ffa500" stroke-opacity="0.4" stroke-width="1.39" stroke-linejoin="miter" stroke-miterlimit="10"/>
<path d="M819.91,622.57L825.09,622.57L822.50,627.62Z" fill="#ffa500" fill-opacity="0.4" stroke="#ffa500" stroke-opacity="0.4" stroke-width="1.39" stroke-linejoin="miter" stroke-miterlimit="10"/>
<path d="M823.71,697.27L828.89,697.27L826.30,702.32Z" fill="#ffa500" fill-opacity="0.4" stroke="#ffa500" stroke-opacity="0.4" stroke-width="1.39" stroke-linejoin="miter" stroke-miterlimit="10"/>
<path d="M841.61,699.07L846.79,699.07L844.20,704.12Z" fill="#ffa500" fill-opacity="0.4" stroke="#ffa500" stroke-opacity="0.4" stroke-width="1.39" stroke-linejoin="miter" stroke-miterlimit="10"/>
<path d="M852.81,673.17L857.99,673.17L855.40,678.22Z" fill="#ffa500" fill-opacity="0.4" stroke="#ffa500" stroke-opacity="0.4" stroke-width="1.39" stroke-linejoin="miter" stroke-miterlimit="10"/>
<path d="M858.91,680.87L864.09,680.87L861.50,685.92Z" fill="#ffa500" fill-opacity="0.4" stroke="#ffa500" stroke-opacity="0.4" stroke-width="1.39" stroke-linejoin="miter" stroke-miterlimit="10"/>
<path d="M838.71,721.27L843.89,721.27L841.30,726.32Z" fill="#ffa500" fill-opacity="0.4" stroke="#ffa500" stroke-opacity="0.4" stroke-width="1.39" stroke-linejoin="miter" stroke-miterlimit="10"/>
<path d="M849.81,735.07L854.99,735.07L852.40,740.12Z" fill="#ffa500" fill-opacity="0.4" stroke="#ffa500" stroke-opacity="0.4" stroke-width="1.39" stroke-linejoin="miter" stroke-miterlimit="10"/>
<path d="M847.01,747.17L852.19,747.17L849.60,752.22Z" fill="#ffa500" fill-opacity="0.4" stroke="#ffa500" stroke-opacity="0.4" stroke-width="1.39" stroke-linejoin="miter" stroke-miterlimit="10"/>
<path d="M867.71,756.17L872.89,756.17L870.30,761.22Z" fill="#ffa500" fill-opacity="0.4" stroke="#ffa500" stroke-opacity="0.4" stroke-width="1.39" stroke-linejoin="miter" stroke-miterlimit="10"/>
<path d="M890.91,770.27L896.09,770.27L893.50,775.32Z" fill="#ffa500" fill-opacity="0.4" stroke="#ffa500" stroke-opacity="0.4" stroke-width="1.39" stroke-linejoin="miter" stroke-miterlimit="10"/>
<path d="M899.71,700.27L904.89,700.27L902.30,705.32Z" fill="#ffa500" fill-opacity="0.4" stroke="#ffa500" stroke-opacity="0.4" stroke-width="1.39" stroke-linejoin="miter" stroke-miterlimit="10"/>
<path d="M911.31,683.97L916.49,683.97L913.90,689.02Z" fill="#ffa500" fill-opacity="0.4" stroke="#ffa500" stroke-opacity="0.4" stroke-width="1.39" stroke-linejoin="miter" stroke-miterlimit="10"/>
<path d="M861.71,575.27L866.89,575.27L864.30,580.32Z" fill="#ffa500" fill-opacity="0.4" stroke="#ffa500" stroke-opacity="0.4" stroke-width="1.39" stroke-linejoin="miter" stroke-miterlimit="10"/>
<path d="M902.61,560.37L907.79,560.37L905.20,565.42Z" fill="#ffa500" fill-opacity="0.4" stroke="#ffa500" stroke-opacity="0.4" stroke-width="1.39" stroke-linejoin="miter" stroke-miterlimit="10"/>
<path d="M908.91,560.37L914.09,560.37L911.50,565.42Z" fill="#ffa500" fill-opacity="0.4" stroke="#ffa500" stroke-opacity="0.4" stroke-width="1.39" stroke-linejoin="miter" stroke-miterlimit="10"/>
<path d="M937.61,596.37L942.79,596.37L940.20,601.42Z" fill="#ffa500" fill-opacity="0.4" stroke="#ffa500" stroke-opacity="0.4" stroke-width="1.39" stroke-linejoin="miter" stroke-miterlimit="10"/>
<path d="M943.81,635.47L948.99,635.47L946.40,640.52Z" fill="#ffa500" fill-opacity="0.4" stroke="#ffa500" stroke-opacity="0.4" stroke-width="1.39" stroke-linejoin="miter" stroke-miterlimit="10"/>
<path d="M940.81,644.17L945.99,644.17L943.40,649.22Z" fill="#ffa500" fill-opacity="0.4" stroke="#ffa500" stroke-opacity="0.4" stroke-width="1.39" stroke-linejoin="miter" stroke-miterlimit="10"/>
<path d="M1083.81,625.17L1088.99,625.17L1086.40,630.22Z" fill="#ffa500" fill-opacity="0.4" stroke="#ffa500" stroke-opacity="0.4" stroke-width="1.39" stroke-linejoin="miter" stroke-miterlimit="10"/>
<path d="M1092.81,680.07L1097.99,680.07L1095.40,685.12Z" fill="#ffa500" fill-opacity="0.4" stroke="#ffa500" stroke-opacity="0.4" stroke-width="1.39" stroke-linejoin="miter" stroke-miterlimit="10"/>
<path d="M1134.81,680.07L1139.99,680.07L1137.40,685.12Z" fill="#ffa500" fill-opacity="0.4" stroke="#ffa500" stroke-opacity="0.4" stroke-width="1.39" stroke-linejoin="miter" stroke-miterlimit="10"/>
<path d="M1130.71,684.27L1135.89,684.27L1133.30,689.32Z" fill="#ffa500" fill-opacity="0.4" stroke="#ffa500" stroke-opacity="0.4" stroke-width="1.39" stroke-linejoin="miter" stroke-miterlimit="10"/>
<path d="M1115.81,727.37L1120.99,727.37L1118.40,732.42Z" fill="#ffa500" fill-opacity="0.4" stroke="#ffa500" stroke-opacity="0.4" stroke-width="1.39" stroke-linejoin="miter" stroke-miterlimit="10"/>
<path d="M1136.91,738.17L1142.09,738.17L1139.50,743.22Z" fill="#ffa500" fill-opacity="0.4" stroke="#ffa500" stroke-opacity="0.4" stroke-width="1.39" stroke-linejoin="miter" stroke-miterlimit="10"/>
<path d="M1133.81,744.37L1138.99,744.37L1136.40,749.42Z" fill="#ffa500" fill-opacity="0.4" stroke="#ffa500" stroke-opacity="0.4" stroke-width="1.39" stroke-linejoin="miter" stroke-miterlimit="10"/>
<path d="M1118.91,526.07L1124.09,526.07L1121.50,531.12Z" fill="#ffa500" fill-opacity="0.4" stroke="#ffa500" stroke-opacity="0.4" stroke-width="1.39" stroke-linejoin="miter" stroke-miterlimit="10"/>
<path d="M1140.71,517.07L1145.89,517.07L1143.30,522.12Z" fill="#ffa500" fill-opacity="0.4" stroke="#ffa500" stroke-opacity="0.4" stroke-width="1.39" stroke-linejoin="miter" stroke-miterlimit="10"/>
<path d="M1131.81,566.17L1136.99,566.17L1134.40,571.22Z" fill="#ffa500" fill-opacity="0.4" stroke="#ffa500" stroke-opacity="0.4" stroke-width="1.39" stroke-linejoin="miter" stroke-miterlimit="10"/>
<path d="M1163.91,614.17L1169.09,614.17L1166.50,619.22Z" fill="#ffa500" fill-opacity="0.4" stroke="#ffa500" stroke-opacity="0.4" stroke-width="1.39" stroke-linejoin="miter" stroke-miterlimit="10"/>
<path d="M1175.91,622.37L1181.09,622.37L1178.50,627.42Z" fill="#ffa500" fill-opacity="0.4" stroke="#ffa500" stroke-opacity="0.4" stroke-width="1.39" stroke-linejoin="miter" stroke-miterlimit="10"/>
<path d="M1170.11,669.37L1175.29,669.37L1172.70,674.42Z" fill="#ffa500" fill-opacity="0.4" stroke="#ffa500" stroke-opacity="0.4" stroke-width="1.39" stroke-linejoin="miter" stroke-miterlimit="10"/>
<path d="M1167.01,677.37L1172.19,677.37L1169.60,682.42Z" fill="#ffa500" fill-opacity="0.4" stroke="#ffa500" stroke-opacity="0.4" stroke-width="1.39" stroke-linejoin="miter" stroke-miterlimit="10"/>
<path d="M1172.81,686.37L1177.99,686.37L1175.40,691.42Z" fill="#ffa500" fill-opacity="0.4" stroke="#ffa500" stroke-opacity="0.4" stroke-width="1.39" stroke-linejoin="miter" stroke-miterlimit="10"/>
</g>
<g id="s_c">
<g stroke="#00ffff" stroke-opacity="0.4" fill="none"><line x1="188.9" y1="272.3" x2="188.9" y2="276.3" stroke-width="2.0"/><line x1="184.7" y1="272.3" x2="193.1" y2="272.3" stroke-width="1.4"/><line x1="184.7" y1="276.3" x2="193.1" y2="276.3" stroke-width="1.4"/></g>
<g stroke="#00ffff" stroke-opacity="0.4" fill="none"><line x1="195.5" y1="280.4" x2="195.5" y2="284.4" stroke-width="2.0"/><line x1="191.3" y1="280.4" x2="199.7" y2="280.4" stroke-width="1.4"/><line x1="191.3" y1="284.4" x2="199.7" y2="284.4" stroke-width="1.4"/></g>
<g stroke="#00ffff" stroke-opacity="0.4" fill="none"><line x1="201.6" y1="298.3" x2="201.6" y2="302.3" stroke-width="2.0"/><line x1="197.4" y1="298.3" x2="205.8" y2="298.3" stroke-width="1.4"/><line x1="197.4" y1="302.3" x2="205.8" y2="302.3" stroke-width="1.4"/></g>
<g stroke="#00ffff" stroke-opacity="0.4" fill="none"><line x1="206.0" y1="313.4" x2="206.0" y2="319.4" stroke-width="2.0"/><line x1="201.8" y1="313.4" x2="210.2" y2="313.4" stroke-width="1.4"/><line x1="201.8" y1="319.4" x2="210.2" y2="319.4" stroke-width="1.4"/></g>
<g stroke="#00ffff" stroke-opacity="0.4" fill="none"><line x1="241.1" y1="409.4" x2="241.1" y2="417.4" stroke-width="2.0"/><line x1="236.9" y1="409.4" x2="245.3" y2="409.4" stroke-width="1.4"/><line x1="236.9" y1="417.4" x2="245.3" y2="417.4" stroke-width="1.4"/></g>
<g stroke="#00ffff" stroke-opacity="0.4" fill="none"><line x1="252.7" y1="441.1" x2="252.7" y2="451.1" stroke-width="2.0"/><line x1="248.5" y1="441.1" x2="256.9" y2="441.1" stroke-width="1.4"/><line x1="248.5" y1="451.1" x2="256.9" y2="451.1" stroke-width="1.4"/></g>
<g stroke="#00ffff" stroke-opacity="0.4" fill="none"><line x1="247.4" y1="505.3" x2="247.4" y2="561.3" stroke-width="2.0"/><line x1="243.2" y1="505.3" x2="251.6" y2="505.3" stroke-width="1.4"/><line x1="243.2" y1="561.3" x2="251.6" y2="561.3" stroke-width="1.4"/></g>
<g stroke="#00ffff" stroke-opacity="0.4" fill="none"><line x1="166.2" y1="585.0" x2="166.2" y2="611.0" stroke-width="2.0"/><line x1="162.0" y1="585.0" x2="170.4" y2="585.0" stroke-width="1.4"/><line x1="162.0" y1="611.0" x2="170.4" y2="611.0" stroke-width="1.4"/></g>
<g stroke="#00ffff" stroke-opacity="0.4" fill="none"><line x1="160.3" y1="613.3" x2="160.3" y2="645.3" stroke-width="2.0"/><line x1="156.1" y1="613.3" x2="164.5" y2="613.3" stroke-width="1.4"/><line x1="156.1" y1="645.3" x2="164.5" y2="645.3" stroke-width="1.4"/></g>
<g stroke="#00ffff" stroke-opacity="0.4" fill="none"><line x1="276.4" y1="573.6" x2="276.4" y2="599.2" stroke-width="2.0"/><line x1="272.2" y1="573.6" x2="280.6" y2="573.6" stroke-width="1.4"/><line x1="272.2" y1="599.2" x2="280.6" y2="599.2" stroke-width="1.4"/></g>
<g stroke="#00ffff" stroke-opacity="0.4" fill="none"><line x1="319.0" y1="607.8" x2="319.0" y2="631.8" stroke-width="2.0"/><line x1="314.8" y1="607.8" x2="323.2" y2="607.8" stroke-width="1.4"/><line x1="314.8" y1="631.8" x2="323.2" y2="631.8" stroke-width="1.4"/></g>
<g stroke="#00ffff" stroke-opacity="0.4" fill="none"><line x1="358.7" y1="646.5" x2="358.7" y2="686.5" stroke-width="2.0"/><line x1="354.5" y1="646.5" x2="362.9" y2="646.5" stroke-width="1.4"/><line x1="354.5" y1="686.5" x2="362.9" y2="686.5" stroke-width="1.4"/></g>
<g stroke="#00ffff" stroke-opacity="0.4" fill="none"><line x1="364.3" y1="648.0" x2="364.3" y2="698.0" stroke-width="2.0"/><line x1="360.1" y1="648.0" x2="368.5" y2="648.0" stroke-width="1.4"/><line x1="360.1" y1="698.0" x2="368.5" y2="698.0" stroke-width="1.4"/></g>
<g stroke="#00ffff" stroke-opacity="0.4" fill="none"><line x1="1229.7" y1="391.0" x2="1229.7" y2="397.0" stroke-width="2.0"/><line x1="1225.5" y1="391.0" x2="1233.9" y2="391.0" stroke-width="1.4"/><line x1="1225.5" y1="397.0" x2="1233.9" y2="397.0" stroke-width="1.4"/></g>
<g stroke="#00ffff" stroke-opacity="0.4" fill="none"><line x1="1233.4" y1="392.9" x2="1233.4" y2="398.9" stroke-width="2.0"/><line x1="1229.2" y1="392.9" x2="1237.6" y2="392.9" stroke-width="1.4"/><line x1="1229.2" y1="398.9" x2="1237.6" y2="398.9" stroke-width="1.4"/></g>
<g stroke="#00ffff" stroke-opacity="0.4" fill="none"><line x1="1237.7" y1="397.2" x2="1237.7" y2="403.2" stroke-width="2.0"/><line x1="1233.5" y1="397.2" x2="1241.9" y2="397.2" stroke-width="1.4"/><line x1="1233.5" y1="403.2" x2="1241.9" y2="403.2" stroke-width="1.4"/></g>
<circle cx="188.9" cy="274.3" r="3.95" fill="#00ffff" fill-opacity="0.4" stroke="#00ffff" stroke-opacity="0.4" stroke-width="1.39"/>
<circle cx="195.5" cy="282.4" r="3.95" fill="#00ffff" fill-opacity="0.4" stroke="#00ffff" stroke-opacity="0.4" stroke-width="1.39"/>
<circle cx="201.6" cy="300.3" r="3.95" fill="#00ffff" fill-opacity="0.4" stroke="#00ffff" stroke-opacity="0.4" stroke-width="1.39"/>
<circle cx="206.0" cy="316.4" r="3.95" fill="#00ffff" fill-opacity="0.4" stroke="#00ffff" stroke-opacity="0.4" stroke-width="1.39"/>
<circle cx="241.1" cy="413.4" r="3.95" fill="#00ffff" fill-opacity="0.4" stroke="#00ffff" stroke-opacity="0.4" stroke-width="1.39"/>
<circle cx="252.7" cy="446.1" r="3.95" fill="#00ffff" fill-opacity="0.4" stroke="#00ffff" stroke-opacity="0.4" stroke-width="1.39"/>
<circle cx="247.4" cy="533.3" r="3.95" fill="#00ffff" fill-opacity="0.4" stroke="#00ffff" stroke-opacity="0.4" stroke-width="1.39"/>
<circle cx="166.2" cy="598.0" r="3.95" fill="#00ffff" fill-opacity="0.4" stroke="#00ffff" stroke-opacity="0.4" stroke-width="1.39"/>
<circle cx="160.3" cy="629.3" r="3.95" fill="#00ffff" fill-opacity="0.4" stroke="#00ffff" stroke-opacity="0.4" stroke-width="1.39"/>
<circle cx="276.4" cy="586.4" r="3.95" fill="#00ffff" fill-opacity="0.4" stroke="#00ffff" stroke-opacity="0.4" stroke-width="1.39"/>
<circle cx="319.0" cy="619.8" r="3.95" fill="#00ffff" fill-opacity="0.4" stroke="#00ffff" stroke-opacity="0.4" stroke-width="1.39"/>
<circle cx="358.7" cy="666.5" r="3.95" fill="#00ffff" fill-opacity="0.4" stroke="#00ffff" stroke-opacity="0.4" stroke-width="1.39"/>
<circle cx="364.3" cy="673.0" r="3.95" fill="#00ffff" fill-opacity="0.4" stroke="#00ffff" stroke-opacity="0.4" stroke-width="1.39"/>
<circle cx="1229.7" cy="394.0" r="3.95" fill="#00ffff" fill-opacity="0.4" stroke="#00ffff" stroke-opacity="0.4" stroke-width="1.39"/>
<circle cx="1233.4" cy="395.9" r="3.95" fill="#00ffff" fill-opacity="0.4" stroke="#00ffff" stroke-opacity="0.4" stroke-width="1.39"/>
<circle cx="1237.7" cy="400.2" r="3.95" fill="#00ffff" fill-opacity="0.4" stroke="#00ffff" stroke-opacity="0.4" stroke-width="1.39"/>
<path d="M279.61,616.97L284.79,616.97L282.20,622.02Z" fill="#00ffff" fill-opacity="0.4" stroke="#00ffff" stroke-opacity="0.4" stroke-width="1.39" stroke-linejoin="miter" stroke-miterlimit="10"/>
<path d="M320.61,628.07L325.79,628.07L323.20,633.12Z" fill="#00ffff" fill-opacity="0.4" stroke="#00ffff" stroke-opacity="0.4" stroke-width="1.39" stroke-linejoin="miter" stroke-miterlimit="10"/>
<path d="M407.71,708.17L412.89,708.17L410.30,713.22Z" fill="#00ffff" fill-opacity="0.4" stroke="#00ffff" stroke-opacity="0.4" stroke-width="1.39" stroke-linejoin="miter" stroke-miterlimit="10"/>
<path d="M586.81,757.97L591.99,757.97L589.40,763.02Z" fill="#00ffff" fill-opacity="0.4" stroke="#00ffff" stroke-opacity="0.4" stroke-width="1.39" stroke-linejoin="miter" stroke-miterlimit="10"/>
<path d="M717.81,709.37L722.99,709.37L720.40,714.42Z" fill="#00ffff" fill-opacity="0.4" stroke="#00ffff" stroke-opacity="0.4" stroke-width="1.39" stroke-linejoin="miter" stroke-miterlimit="10"/>
<path d="M794.81,596.37L799.99,596.37L797.40,601.42Z" fill="#00ffff" fill-opacity="0.4" stroke="#00ffff" stroke-opacity="0.4" stroke-width="1.39" stroke-linejoin="miter" stroke-miterlimit="10"/>
<path d="M791.91,703.07L797.09,703.07L794.50,708.12Z" fill="#00ffff" fill-opacity="0.4" stroke="#00ffff" stroke-opacity="0.4" stroke-width="1.39" stroke-linejoin="miter" stroke-miterlimit="10"/>
<path d="M800.81,741.17L805.99,741.17L803.40,746.22Z" fill="#00ffff" fill-opacity="0.4" stroke="#00ffff" stroke-opacity="0.4" stroke-width="1.39" stroke-linejoin="miter" stroke-miterlimit="10"/>
<path d="M788.91,754.17L794.09,754.17L791.50,759.22Z" fill="#00ffff" fill-opacity="0.4" stroke="#00ffff" stroke-opacity="0.4" stroke-width="1.39" stroke-linejoin="miter" stroke-miterlimit="10"/>
<path d="M803.81,764.07L808.99,764.07L806.40,769.12Z" fill="#00ffff" fill-opacity="0.4" stroke="#00ffff" stroke-opacity="0.4" stroke-width="1.39" stroke-linejoin="miter" stroke-miterlimit="10"/>
<path d="M829.91,747.97L835.09,747.97L832.50,753.02Z" fill="#00ffff" fill-opacity="0.4" stroke="#00ffff" stroke-opacity="0.4" stroke-width="1.39" stroke-linejoin="miter" stroke-miterlimit="10"/>
<path d="M832.91,764.07L838.09,764.07L835.50,769.12Z" fill="#00ffff" fill-opacity="0.4" stroke="#00ffff" stroke-opacity="0.4" stroke-width="1.39" stroke-linejoin="miter" stroke-miterlimit="10"/>
<path d="M870.71,734.27L875.89,734.27L873.30,739.32Z" fill="#00ffff" fill-opacity="0.4" stroke="#00ffff" stroke-opacity="0.4" stroke-width="1.39" stroke-linejoin="miter" stroke-miterlimit="10"/>
<path d="M873.51,750.77L878.69,750.77L876.10,755.82Z" fill="#00ffff" fill-opacity="0.4" stroke="#00ffff" stroke-opacity="0.4" stroke-width="1.39" stroke-linejoin="miter" stroke-miterlimit="10"/>
<path d="M876.81,751.27L881.99,751.27L879.40,756.32Z" fill="#00ffff" fill-opacity="0.4" stroke="#00ffff" stroke-opacity="0.4" stroke-width="1.39" stroke-linejoin="miter" stroke-miterlimit="10"/>
<path d="M881.81,754.17L886.99,754.17L884.40,759.22Z" fill="#00ffff" fill-opacity="0.4" stroke="#00ffff" stroke-opacity="0.4" stroke-width="1.39" stroke-linejoin="miter" stroke-miterlimit="10"/>
<path d="M888.41,754.97L893.59,754.97L891.00,760.02Z" fill="#00ffff" fill-opacity="0.4" stroke="#00ffff" stroke-opacity="0.4" stroke-width="1.39" stroke-linejoin="miter" stroke-miterlimit="10"/>
<path d="M879.01,761.07L884.19,761.07L881.60,766.12Z" fill="#00ffff" fill-opacity="0.4" stroke="#00ffff" stroke-opacity="0.4" stroke-width="1.39" stroke-linejoin="miter" stroke-miterlimit="10"/>
<path d="M913.91,583.27L919.09,583.27L916.50,588.32Z" fill="#00ffff" fill-opacity="0.4" stroke="#00ffff" stroke-opacity="0.4" stroke-width="1.39" stroke-linejoin="miter" stroke-miterlimit="10"/>
<path d="M919.71,621.37L924.89,621.37L922.30,626.42Z" fill="#00ffff" fill-opacity="0.4" stroke="#00ffff" stroke-opacity="0.4" stroke-width="1.39" stroke-linejoin="miter" stroke-miterlimit="10"/>
<path d="M931.81,666.17L936.99,666.17L934.40,671.22Z" fill="#00ffff" fill-opacity="0.4" stroke="#00ffff" stroke-opacity="0.4" stroke-width="1.39" stroke-linejoin="miter" stroke-miterlimit="10"/>
<path d="M916.61,676.17L921.79,676.17L919.20,681.22Z" fill="#00ffff" fill-opacity="0.4" stroke="#00ffff" stroke-opacity="0.4" stroke-width="1.39" stroke-linejoin="miter" stroke-miterlimit="10"/>
<path d="M922.71,720.17L927.89,720.17L925.30,725.22Z" fill="#00ffff" fill-opacity="0.4" stroke="#00ffff" stroke-opacity="0.4" stroke-width="1.39" stroke-linejoin="miter" stroke-miterlimit="10"/>
<path d="M1095.61,529.07L1100.79,529.07L1098.20,534.12Z" fill="#00ffff" fill-opacity="0.4" stroke="#00ffff" stroke-opacity="0.4" stroke-width="1.39" stroke-linejoin="miter" stroke-miterlimit="10"/>
<path d="M1143.81,720.17L1148.99,720.17L1146.40,725.22Z" fill="#00ffff" fill-opacity="0.4" stroke="#00ffff" stroke-opacity="0.4" stroke-width="1.39" stroke-linejoin="miter" stroke-miterlimit="10"/>
<path d="M1149.81,760.97L1154.99,760.97L1152.40,766.02Z" fill="#00ffff" fill-opacity="0.4" stroke="#00ffff" stroke-opacity="0.4" stroke-width="1.39" stroke-linejoin="miter" stroke-miterlimit="10"/>
</g>
<g id="s_ztfr">
<g stroke="#ff0000" stroke-opacity="0.8" fill="none"><line x1="191.0" y1="310.7" x2="191.0" y2="313.7" stroke-width="2.0"/><line x1="186.8" y1="310.7" x2="195.2" y2="310.7" stroke-width="1.4"/><line x1="186.8" y1="313.7" x2="195.2" y2="313.7" stroke-width="1.4"/></g>
<g stroke="#ff0000" stroke-opacity="0.8" fill="none"><line x1="194.3" y1="317.0" x2="194.3" y2="320.0" stroke-width="2.0"/><line x1="190.1" y1="317.0" x2="198.5" y2="317.0" stroke-width="1.4"/><line x1="190.1" y1="320.0" x2="198.5" y2="320.0" stroke-width="1.4"/></g>
<g stroke="#ff0000" stroke-opacity="0.8" fill="none"><line x1="179.3" y1="378.4" x2="179.3" y2="387.6" stroke-width="2.0"/><line x1="175.1" y1="378.4" x2="183.5" y2="378.4" stroke-width="1.4"/><line x1="175.1" y1="387.6" x2="183.5" y2="387.6" stroke-width="1.4"/></g>
<g stroke="#ff0000" stroke-opacity="0.8" fill="none"><line x1="174.3" y1="453.6" x2="174.3" y2="467.6" stroke-width="2.0"/><line x1="170.1" y1="453.6" x2="178.5" y2="453.6" stroke-width="1.4"/><line x1="170.1" y1="467.6" x2="178.5" y2="467.6" stroke-width="1.4"/></g>
<g stroke="#ff0000" stroke-opacity="0.8" fill="none"><line x1="171.0" y1="458.2" x2="171.0" y2="468.2" stroke-width="2.0"/><line x1="166.8" y1="458.2" x2="175.2" y2="458.2" stroke-width="1.4"/><line x1="166.8" y1="468.2" x2="175.2" y2="468.2" stroke-width="1.4"/></g>
<g stroke="#ff0000" stroke-opacity="0.8" fill="none"><line x1="246.1" y1="450.0" x2="246.1" y2="456.0" stroke-width="2.0"/><line x1="241.9" y1="450.0" x2="250.3" y2="450.0" stroke-width="1.4"/><line x1="241.9" y1="456.0" x2="250.3" y2="456.0" stroke-width="1.4"/></g>
<g stroke="#ff0000" stroke-opacity="0.8" fill="none"><line x1="248.2" y1="475.7" x2="248.2" y2="486.7" stroke-width="2.0"/><line x1="244.0" y1="475.7" x2="252.4" y2="475.7" stroke-width="1.4"/><line x1="244.0" y1="486.7" x2="252.4" y2="486.7" stroke-width="1.4"/></g>
<g stroke="#ff0000" stroke-opacity="0.8" fill="none"><line x1="257.4" y1="493.1" x2="257.4" y2="509.7" stroke-width="2.0"/><line x1="253.2" y1="493.1" x2="261.6" y2="493.1" stroke-width="1.4"/><line x1="253.2" y1="509.7" x2="261.6" y2="509.7" stroke-width="1.4"/></g>
<g stroke="#ff0000" stroke-opacity="0.8" fill="none"><line x1="264.0" y1="518.0" x2="264.0" y2="537.0" stroke-width="2.0"/><line x1="259.8" y1="518.0" x2="268.2" y2="518.0" stroke-width="1.4"/><line x1="259.8" y1="537.0" x2="268.2" y2="537.0" stroke-width="1.4"/></g>
<g stroke="#ff0000" stroke-opacity="0.8" fill="none"><line x1="260.2" y1="525.4" x2="260.2" y2="549.4" stroke-width="2.0"/><line x1="256.0" y1="525.4" x2="264.4" y2="525.4" stroke-width="1.4"/><line x1="256.0" y1="549.4" x2="264.4" y2="549.4" stroke-width="1.4"/></g>
<g stroke="#ff0000" stroke-opacity="0.8" fill="none"><line x1="279.3" y1="525.5" x2="279.3" y2="535.5" stroke-width="2.0"/><line x1="275.1" y1="525.5" x2="283.5" y2="525.5" stroke-width="1.4"/><line x1="275.1" y1="535.5" x2="283.5" y2="535.5" stroke-width="1.4"/></g>
<g stroke="#ff0000" stroke-opacity="0.8" fill="none"><line x1="267.3" y1="541.1" x2="267.3" y2="561.9" stroke-width="2.0"/><line x1="263.1" y1="541.1" x2="271.5" y2="541.1" stroke-width="1.4"/><line x1="263.1" y1="561.9" x2="271.5" y2="561.9" stroke-width="1.4"/></g>
<g stroke="#ff0000" stroke-opacity="0.8" fill="none"><line x1="273.4" y1="561.6" x2="273.4" y2="580.6" stroke-width="2.0"/><line x1="269.2" y1="561.6" x2="277.6" y2="561.6" stroke-width="1.4"/><line x1="269.2" y1="580.6" x2="277.6" y2="580.6" stroke-width="1.4"/></g>
<g stroke="#ff0000" stroke-opacity="0.8" fill="none"><line x1="294.2" y1="565.4" x2="294.2" y2="593.4" stroke-width="2.0"/><line x1="290.0" y1="565.4" x2="298.4" y2="565.4" stroke-width="1.4"/><line x1="290.0" y1="593.4" x2="298.4" y2="593.4" stroke-width="1.4"/></g>
<g stroke="#ff0000" stroke-opacity="0.8" fill="none"><line x1="296.3" y1="573.0" x2="296.3" y2="601.0" stroke-width="2.0"/><line x1="292.1" y1="573.0" x2="300.5" y2="573.0" stroke-width="1.4"/><line x1="292.1" y1="601.0" x2="300.5" y2="601.0" stroke-width="1.4"/></g>
<g stroke="#ff0000" stroke-opacity="0.8" fill="none"><line x1="299.0" y1="573.0" x2="299.0" y2="593.0" stroke-width="2.0"/><line x1="294.8" y1="573.0" x2="303.2" y2="573.0" stroke-width="1.4"/><line x1="294.8" y1="593.0" x2="303.2" y2="593.0" stroke-width="1.4"/></g>
<g stroke="#ff0000" stroke-opacity="0.8" fill="none"><line x1="293.3" y1="602.7" x2="293.3" y2="627.9" stroke-width="2.0"/><line x1="289.1" y1="602.7" x2="297.5" y2="602.7" stroke-width="1.4"/><line x1="289.1" y1="627.9" x2="297.5" y2="627.9" stroke-width="1.4"/></g>
<g stroke="#ff0000" stroke-opacity="0.8" fill="none"><line x1="309.4" y1="630.0" x2="309.4" y2="652.8" stroke-width="2.0"/><line x1="305.2" y1="630.0" x2="313.6" y2="630.0" stroke-width="1.4"/><line x1="305.2" y1="652.8" x2="313.6" y2="652.8" stroke-width="1.4"/></g>
<g stroke="#ff0000" stroke-opacity="0.8" fill="none"><line x1="342.3" y1="594.7" x2="342.3" y2="620.7" stroke-width="2.0"/><line x1="338.1" y1="594.7" x2="346.5" y2="594.7" stroke-width="1.4"/><line x1="338.1" y1="620.7" x2="346.5" y2="620.7" stroke-width="1.4"/></g>
<g stroke="#ff0000" stroke-opacity="0.8" fill="none"><line x1="338.3" y1="683.7" x2="338.3" y2="733.7" stroke-width="2.0"/><line x1="334.1" y1="683.7" x2="342.5" y2="683.7" stroke-width="1.4"/><line x1="334.1" y1="733.7" x2="342.5" y2="733.7" stroke-width="1.4"/></g>
<g stroke="#ff0000" stroke-opacity="0.8" fill="none"><line x1="345.8" y1="667.5" x2="345.8" y2="750.5" stroke-width="2.0"/><line x1="341.6" y1="667.5" x2="350.0" y2="667.5" stroke-width="1.4"/><line x1="341.6" y1="750.5" x2="350.0" y2="750.5" stroke-width="1.4"/></g>
<g stroke="#ff0000" stroke-opacity="0.8" fill="none"><line x1="355.2" y1="708.0" x2="355.2" y2="768.8" stroke-width="2.0"/><line x1="351.0" y1="708.0" x2="359.4" y2="708.0" stroke-width="1.4"/><line x1="351.0" y1="768.8" x2="359.4" y2="768.8" stroke-width="1.4"/></g>
<g stroke="#ff0000" stroke-opacity="0.8" fill="none"><line x1="358.9" y1="708.4" x2="358.9" y2="772.4" stroke-width="2.0"/><line x1="354.7" y1="708.4" x2="363.1" y2="708.4" stroke-width="1.4"/><line x1="354.7" y1="772.4" x2="363.1" y2="772.4" stroke-width="1.4"/></g>
<g stroke="#ff0000" stroke-opacity="0.8" fill="none"><line x1="1219.4" y1="421.3" x2="1219.4" y2="434.3" stroke-width="2.0"/><line x1="1215.2" y1="421.3" x2="1223.6" y2="421.3" stroke-width="1.4"/><line x1="1215.2" y1="434.3" x2="1223.6" y2="434.3" stroke-width="1.4"/></g>
<g stroke="#ff0000" stroke-opacity="0.8" fill="none"><line x1="302.6" y1="552.2" x2="302.6" y2="576.2" stroke-width="2.0"/><line x1="298.4" y1="552.2" x2="306.8" y2="552.2" stroke-width="1.4"/><line x1="298.4" y1="576.2" x2="306.8" y2="576.2" stroke-width="1.4"/></g>
<circle cx="191.0" cy="312.2" r="3.95" fill="#ff0000" fill-opacity="0.8" stroke="#ff0000" stroke-opacity="0.8" stroke-width="1.39"/>
<circle cx="194.3" cy="318.5" r="3.95" fill="#ff0000" fill-opacity="0.8" stroke="#ff0000" stroke-opacity="0.8" stroke-width="1.39"/>
<circle cx="179.3" cy="383.0" r="3.95" fill="#ff0000" fill-opacity="0.8" stroke="#ff0000" stroke-opacity="0.8" stroke-width="1.39"/>
<circle cx="174.3" cy="460.6" r="3.95" fill="#ff0000" fill-opacity="0.8" stroke="#ff0000" stroke-opacity="0.8" stroke-width="1.39"/>
<circle cx="171.0" cy="463.2" r="3.95" fill="#ff0000" fill-opacity="0.8" stroke="#ff0000" stroke-opacity="0.8" stroke-width="1.39"/>
<circle cx="246.1" cy="453.0" r="3.95" fill="#ff0000" fill-opacity="0.8" stroke="#ff0000" stroke-opacity="0.8" stroke-width="1.39"/>
<circle cx="248.2" cy="481.2" r="3.95" fill="#ff0000" fill-opacity="0.8" stroke="#ff0000" stroke-opacity="0.8" stroke-width="1.39"/>
<circle cx="257.4" cy="501.4" r="3.95" fill="#ff0000" fill-opacity="0.8" stroke="#ff0000" stroke-opacity="0.8" stroke-width="1.39"/>
<circle cx="264.0" cy="527.5" r="3.95" fill="#ff0000" fill-opacity="0.8" stroke="#ff0000" stroke-opacity="0.8" stroke-width="1.39"/>
<circle cx="260.2" cy="537.4" r="3.95" fill="#ff0000" fill-opacity="0.8" stroke="#ff0000" stroke-opacity="0.8" stroke-width="1.39"/>
<circle cx="279.3" cy="530.5" r="3.95" fill="#ff0000" fill-opacity="0.8" stroke="#ff0000" stroke-opacity="0.8" stroke-width="1.39"/>
<circle cx="267.3" cy="551.5" r="3.95" fill="#ff0000" fill-opacity="0.8" stroke="#ff0000" stroke-opacity="0.8" stroke-width="1.39"/>
<circle cx="273.4" cy="571.1" r="3.95" fill="#ff0000" fill-opacity="0.8" stroke="#ff0000" stroke-opacity="0.8" stroke-width="1.39"/>
<circle cx="294.2" cy="579.4" r="3.95" fill="#ff0000" fill-opacity="0.8" stroke="#ff0000" stroke-opacity="0.8" stroke-width="1.39"/>
<circle cx="296.3" cy="587.0" r="3.95" fill="#ff0000" fill-opacity="0.8" stroke="#ff0000" stroke-opacity="0.8" stroke-width="1.39"/>
<circle cx="299.0" cy="583.0" r="3.95" fill="#ff0000" fill-opacity="0.8" stroke="#ff0000" stroke-opacity="0.8" stroke-width="1.39"/>
<circle cx="293.3" cy="615.3" r="3.95" fill="#ff0000" fill-opacity="0.8" stroke="#ff0000" stroke-opacity="0.8" stroke-width="1.39"/>
<circle cx="309.4" cy="641.4" r="3.95" fill="#ff0000" fill-opacity="0.8" stroke="#ff0000" stroke-opacity="0.8" stroke-width="1.39"/>
<circle cx="342.3" cy="607.7" r="3.95" fill="#ff0000" fill-opacity="0.8" stroke="#ff0000" stroke-opacity="0.8" stroke-width="1.39"/>
<circle cx="338.3" cy="708.7" r="3.95" fill="#ff0000" fill-opacity="0.8" stroke="#ff0000" stroke-opacity="0.8" stroke-width="1.39"/>
<circle cx="345.8" cy="709.0" r="3.95" fill="#ff0000" fill-opacity="0.8" stroke="#ff0000" stroke-opacity="0.8" stroke-width="1.39"/>
<circle cx="355.2" cy="738.4" r="3.95" fill="#ff0000" fill-opacity="0.8" stroke="#ff0000" stroke-opacity="0.8" stroke-width="1.39"/>
<circle cx="358.9" cy="740.4" r="3.95" fill="#ff0000" fill-opacity="0.8" stroke="#ff0000" stroke-opacity="0.8" stroke-width="1.39"/>
<circle cx="1219.4" cy="427.8" r="3.95" fill="#ff0000" fill-opacity="0.8" stroke="#ff0000" stroke-opacity="0.8" stroke-width="1.39"/>
<circle cx="302.6" cy="564.2" r="3.95" fill="#ff0000" fill-opacity="0.8" stroke="#ff0000" stroke-opacity="0.8" stroke-width="1.39"/>
<path d="M568.43,608.00L572.37,608.00L570.40,611.80Z" fill="#ff0000" fill-opacity="0.8" stroke="#ff0000" stroke-opacity="0.8" stroke-width="1.39" stroke-linejoin="miter" stroke-miterlimit="10"/>
<path d="M607.43,665.00L611.37,665.00L609.40,668.80Z" fill="#ff0000" fill-opacity="0.8" stroke="#ff0000" stroke-opacity="0.8" stroke-width="1.39" stroke-linejoin="miter" stroke-miterlimit="10"/>
<path d="M576.43,702.00L580.37,702.00L578.40,705.80Z" fill="#ff0000" fill-opacity="0.8" stroke="#ff0000" stroke-opacity="0.8" stroke-width="1.39" stroke-linejoin="miter" stroke-miterlimit="10"/>
<path d="M657.43,649.10L661.37,649.10L659.40,652.90Z" fill="#ff0000" fill-opacity="0.8" stroke="#ff0000" stroke-opacity="0.8" stroke-width="1.39" stroke-linejoin="miter" stroke-miterlimit="10"/>
<path d="M697.23,682.10L701.17,682.10L699.20,685.90Z" fill="#ff0000" fill-opacity="0.8" stroke="#ff0000" stroke-opacity="0.8" stroke-width="1.39" stroke-linejoin="miter" stroke-miterlimit="10"/>
<path d="M670.33,705.80L674.27,705.80L672.30,709.60Z" fill="#ff0000" fill-opacity="0.8" stroke="#ff0000" stroke-opacity="0.8" stroke-width="1.39" stroke-linejoin="miter" stroke-miterlimit="10"/>
<path d="M709.33,709.20L713.27,709.20L711.30,713.00Z" fill="#ff0000" fill-opacity="0.8" stroke="#ff0000" stroke-opacity="0.8" stroke-width="1.39" stroke-linejoin="miter" stroke-miterlimit="10"/>
<path d="M673.43,722.10L677.37,722.10L675.40,725.90Z" fill="#ff0000" fill-opacity="0.8" stroke="#ff0000" stroke-opacity="0.8" stroke-width="1.39" stroke-linejoin="miter" stroke-miterlimit="10"/>
<path d="M678.43,737.80L682.37,737.80L680.40,741.60Z" fill="#ff0000" fill-opacity="0.8" stroke="#ff0000" stroke-opacity="0.8" stroke-width="1.39" stroke-linejoin="miter" stroke-miterlimit="10"/>
<path d="M866.43,629.80L870.37,629.80L868.40,633.60Z" fill="#ff0000" fill-opacity="0.8" stroke="#ff0000" stroke-opacity="0.8" stroke-width="1.39" stroke-linejoin="miter" stroke-miterlimit="10"/>
</g>
<g id="s_ztfg">
<g stroke="#008000" stroke-opacity="0.8" fill="none"><line x1="193.5" y1="258.7" x2="193.5" y2="261.7" stroke-width="2.0"/><line x1="189.3" y1="258.7" x2="197.7" y2="258.7" stroke-width="1.4"/><line x1="189.3" y1="261.7" x2="197.7" y2="261.7" stroke-width="1.4"/></g>
<g stroke="#008000" stroke-opacity="0.8" fill="none"><line x1="181.4" y1="283.9" x2="181.4" y2="286.9" stroke-width="2.0"/><line x1="177.2" y1="283.9" x2="185.6" y2="283.9" stroke-width="1.4"/><line x1="177.2" y1="286.9" x2="185.6" y2="286.9" stroke-width="1.4"/></g>
<g stroke="#008000" stroke-opacity="0.8" fill="none"><line x1="178.4" y1="336.3" x2="178.4" y2="346.3" stroke-width="2.0"/><line x1="174.2" y1="336.3" x2="182.6" y2="336.3" stroke-width="1.4"/><line x1="174.2" y1="346.3" x2="182.6" y2="346.3" stroke-width="1.4"/></g>
<g stroke="#008000" stroke-opacity="0.8" fill="none"><line x1="241.4" y1="392.3" x2="241.4" y2="396.3" stroke-width="2.0"/><line x1="237.2" y1="392.3" x2="245.6" y2="392.3" stroke-width="1.4"/><line x1="237.2" y1="396.3" x2="245.6" y2="396.3" stroke-width="1.4"/></g>
<g stroke="#008000" stroke-opacity="0.8" fill="none"><line x1="246.1" y1="406.4" x2="246.1" y2="410.4" stroke-width="2.0"/><line x1="241.9" y1="406.4" x2="250.3" y2="406.4" stroke-width="1.4"/><line x1="241.9" y1="410.4" x2="250.3" y2="410.4" stroke-width="1.4"/></g>
<g stroke="#008000" stroke-opacity="0.8" fill="none"><line x1="171.5" y1="399.3" x2="171.5" y2="407.3" stroke-width="2.0"/><line x1="167.3" y1="399.3" x2="175.7" y2="399.3" stroke-width="1.4"/><line x1="167.3" y1="407.3" x2="175.7" y2="407.3" stroke-width="1.4"/></g>
<g stroke="#008000" stroke-opacity="0.8" fill="none"><line x1="174.3" y1="400.1" x2="174.3" y2="416.7" stroke-width="2.0"/><line x1="170.1" y1="400.1" x2="178.5" y2="400.1" stroke-width="1.4"/><line x1="170.1" y1="416.7" x2="178.5" y2="416.7" stroke-width="1.4"/></g>
<g stroke="#008000" stroke-opacity="0.8" fill="none"><line x1="248.1" y1="430.3" x2="248.1" y2="436.3" stroke-width="2.0"/><line x1="243.9" y1="430.3" x2="252.3" y2="430.3" stroke-width="1.4"/><line x1="243.9" y1="436.3" x2="252.3" y2="436.3" stroke-width="1.4"/></g>
<g stroke="#008000" stroke-opacity="0.8" fill="none"><line x1="251.9" y1="434.3" x2="251.9" y2="440.3" stroke-width="2.0"/><line x1="247.7" y1="434.3" x2="256.1" y2="434.3" stroke-width="1.4"/><line x1="247.7" y1="440.3" x2="256.1" y2="440.3" stroke-width="1.4"/></g>
<g stroke="#008000" stroke-opacity="0.8" fill="none"><line x1="256.9" y1="446.9" x2="256.9" y2="460.1" stroke-width="2.0"/><line x1="252.7" y1="446.9" x2="261.1" y2="446.9" stroke-width="1.4"/><line x1="252.7" y1="460.1" x2="261.1" y2="460.1" stroke-width="1.4"/></g>
<g stroke="#008000" stroke-opacity="0.8" fill="none"><line x1="260.2" y1="480.9" x2="260.2" y2="506.1" stroke-width="2.0"/><line x1="256.0" y1="480.9" x2="264.4" y2="480.9" stroke-width="1.4"/><line x1="256.0" y1="506.1" x2="264.4" y2="506.1" stroke-width="1.4"/></g>
<g stroke="#008000" stroke-opacity="0.8" fill="none"><line x1="267.3" y1="486.4" x2="267.3" y2="504.2" stroke-width="2.0"/><line x1="263.1" y1="486.4" x2="271.5" y2="486.4" stroke-width="1.4"/><line x1="263.1" y1="504.2" x2="271.5" y2="504.2" stroke-width="1.4"/></g>
<g stroke="#008000" stroke-opacity="0.8" fill="none"><line x1="273.4" y1="498.1" x2="273.4" y2="509.1" stroke-width="2.0"/><line x1="269.2" y1="498.1" x2="277.6" y2="498.1" stroke-width="1.4"/><line x1="269.2" y1="509.1" x2="277.6" y2="509.1" stroke-width="1.4"/></g>
<g stroke="#008000" stroke-opacity="0.8" fill="none"><line x1="279.3" y1="510.2" x2="279.3" y2="520.2" stroke-width="2.0"/><line x1="275.1" y1="510.2" x2="283.5" y2="510.2" stroke-width="1.4"/><line x1="275.1" y1="520.2" x2="283.5" y2="520.2" stroke-width="1.4"/></g>
<g stroke="#008000" stroke-opacity="0.8" fill="none"><line x1="285.1" y1="512.0" x2="285.1" y2="524.0" stroke-width="2.0"/><line x1="280.9" y1="512.0" x2="289.3" y2="512.0" stroke-width="1.4"/><line x1="280.9" y1="524.0" x2="289.3" y2="524.0" stroke-width="1.4"/></g>
<g stroke="#008000" stroke-opacity="0.8" fill="none"><line x1="282.2" y1="515.2" x2="282.2" y2="529.2" stroke-width="2.0"/><line x1="278.0" y1="515.2" x2="286.4" y2="515.2" stroke-width="1.4"/><line x1="278.0" y1="529.2" x2="286.4" y2="529.2" stroke-width="1.4"/></g>
<g stroke="#008000" stroke-opacity="0.8" fill="none"><line x1="285.4" y1="534.2" x2="285.4" y2="546.6" stroke-width="2.0"/><line x1="281.2" y1="534.2" x2="289.6" y2="534.2" stroke-width="1.4"/><line x1="281.2" y1="546.6" x2="289.6" y2="546.6" stroke-width="1.4"/></g>
<g stroke="#008000" stroke-opacity="0.8" fill="none"><line x1="305.0" y1="551.3" x2="305.0" y2="568.3" stroke-width="2.0"/><line x1="300.8" y1="551.3" x2="309.2" y2="551.3" stroke-width="1.4"/><line x1="300.8" y1="568.3" x2="309.2" y2="568.3" stroke-width="1.4"/></g>
<g stroke="#008000" stroke-opacity="0.8" fill="none"><line x1="315.2" y1="562.8" x2="315.2" y2="583.6" stroke-width="2.0"/><line x1="311.0" y1="562.8" x2="319.4" y2="562.8" stroke-width="1.4"/><line x1="311.0" y1="583.6" x2="319.4" y2="583.6" stroke-width="1.4"/></g>
<g stroke="#008000" stroke-opacity="0.8" fill="none"><line x1="299.2" y1="565.0" x2="299.2" y2="593.0" stroke-width="2.0"/><line x1="295.0" y1="565.0" x2="303.4" y2="565.0" stroke-width="1.4"/><line x1="295.0" y1="593.0" x2="303.4" y2="593.0" stroke-width="1.4"/></g>
<g stroke="#008000" stroke-opacity="0.8" fill="none"><line x1="328.2" y1="561.4" x2="328.2" y2="577.4" stroke-width="2.0"/><line x1="324.0" y1="561.4" x2="332.4" y2="561.4" stroke-width="1.4"/><line x1="324.0" y1="577.4" x2="332.4" y2="577.4" stroke-width="1.4"/></g>
<g stroke="#008000" stroke-opacity="0.8" fill="none"><line x1="321.5" y1="585.1" x2="321.5" y2="609.1" stroke-width="2.0"/><line x1="317.3" y1="585.1" x2="325.7" y2="585.1" stroke-width="1.4"/><line x1="317.3" y1="609.1" x2="325.7" y2="609.1" stroke-width="1.4"/></g>
<g stroke="#008000" stroke-opacity="0.8" fill="none"><line x1="302.5" y1="589.2" x2="302.5" y2="643.2" stroke-width="2.0"/><line x1="298.3" y1="589.2" x2="306.7" y2="589.2" stroke-width="1.4"/><line x1="298.3" y1="643.2" x2="306.7" y2="643.2" stroke-width="1.4"/></g>
<g stroke="#008000" stroke-opacity="0.8" fill="none"><line x1="319.0" y1="598.4" x2="319.0" y2="622.4" stroke-width="2.0"/><line x1="314.8" y1="598.4" x2="323.2" y2="598.4" stroke-width="1.4"/><line x1="314.8" y1="622.4" x2="323.2" y2="622.4" stroke-width="1.4"/></g>
<g stroke="#008000" stroke-opacity="0.8" fill="none"><line x1="334.0" y1="609.0" x2="334.0" y2="629.0" stroke-width="2.0"/><line x1="329.8" y1="609.0" x2="338.2" y2="609.0" stroke-width="1.4"/><line x1="329.8" y1="629.0" x2="338.2" y2="629.0" stroke-width="1.4"/></g>
<g stroke="#008000" stroke-opacity="0.8" fill="none"><line x1="335.6" y1="602.4" x2="335.6" y2="622.4" stroke-width="2.0"/><line x1="331.4" y1="602.4" x2="339.8" y2="602.4" stroke-width="1.4"/><line x1="331.4" y1="622.4" x2="339.8" y2="622.4" stroke-width="1.4"/></g>
<g stroke="#008000" stroke-opacity="0.8" fill="none"><line x1="353.0" y1="613.2" x2="353.0" y2="657.2" stroke-width="2.0"/><line x1="348.8" y1="613.2" x2="357.2" y2="613.2" stroke-width="1.4"/><line x1="348.8" y1="657.2" x2="357.2" y2="657.2" stroke-width="1.4"/></g>
<g stroke="#008000" stroke-opacity="0.8" fill="none"><line x1="364.3" y1="620.4" x2="364.3" y2="652.4" stroke-width="2.0"/><line x1="360.1" y1="620.4" x2="368.5" y2="620.4" stroke-width="1.4"/><line x1="360.1" y1="652.4" x2="368.5" y2="652.4" stroke-width="1.4"/></g>
<g stroke="#008000" stroke-opacity="0.8" fill="none"><line x1="358.5" y1="640.3" x2="358.5" y2="670.3" stroke-width="2.0"/><line x1="354.3" y1="640.3" x2="362.7" y2="640.3" stroke-width="1.4"/><line x1="354.3" y1="670.3" x2="362.7" y2="670.3" stroke-width="1.4"/></g>
<g stroke="#008000" stroke-opacity="0.8" fill="none"><line x1="339.3" y1="652.5" x2="339.3" y2="704.5" stroke-width="2.0"/><line x1="335.1" y1="652.5" x2="343.5" y2="652.5" stroke-width="1.4"/><line x1="335.1" y1="704.5" x2="343.5" y2="704.5" stroke-width="1.4"/></g>
<g stroke="#008000" stroke-opacity="0.8" fill="none"><line x1="342.3" y1="690.4" x2="342.3" y2="776.4" stroke-width="2.0"/><line x1="338.1" y1="690.4" x2="346.5" y2="690.4" stroke-width="1.4"/><line x1="338.1" y1="776.4" x2="346.5" y2="776.4" stroke-width="1.4"/></g>
<g stroke="#008000" stroke-opacity="0.8" fill="none"><line x1="812.4" y1="686.5" x2="812.4" y2="740.5" stroke-width="2.0"/><line x1="808.2" y1="686.5" x2="816.6" y2="686.5" stroke-width="1.4"/><line x1="808.2" y1="740.5" x2="816.6" y2="740.5" stroke-width="1.4"/></g>
<g stroke="#008000" stroke-opacity="0.8" fill="none"><line x1="1181.4" y1="704.0" x2="1181.4" y2="751.0" stroke-width="2.0"/><line x1="1177.2" y1="704.0" x2="1185.6" y2="704.0" stroke-width="1.4"/><line x1="1177.2" y1="751.0" x2="1185.6" y2="751.0" stroke-width="1.4"/></g>
<g stroke="#008000" stroke-opacity="0.8" fill="none"><line x1="1192.4" y1="528.3" x2="1192.4" y2="544.3" stroke-width="2.0"/><line x1="1188.2" y1="528.3" x2="1196.6" y2="528.3" stroke-width="1.4"/><line x1="1188.2" y1="544.3" x2="1196.6" y2="544.3" stroke-width="1.4"/></g>
<g stroke="#008000" stroke-opacity="0.8" fill="none"><line x1="1195.3" y1="496.4" x2="1195.3" y2="505.8" stroke-width="2.0"/><line x1="1191.1" y1="496.4" x2="1199.5" y2="496.4" stroke-width="1.4"/><line x1="1191.1" y1="505.8" x2="1199.5" y2="505.8" stroke-width="1.4"/></g>
<g stroke="#008000" stroke-opacity="0.8" fill="none"><line x1="1235.6" y1="363.4" x2="1235.6" y2="367.4" stroke-width="2.0"/><line x1="1231.4" y1="363.4" x2="1239.8" y2="363.4" stroke-width="1.4"/><line x1="1231.4" y1="367.4" x2="1239.8" y2="367.4" stroke-width="1.4"/></g>
<g stroke="#008000" stroke-opacity="0.8" fill="none"><line x1="1251.4" y1="390.5" x2="1251.4" y2="422.5" stroke-width="2.0"/><line x1="1247.2" y1="390.5" x2="1255.6" y2="390.5" stroke-width="1.4"/><line x1="1247.2" y1="422.5" x2="1255.6" y2="422.5" stroke-width="1.4"/></g>
<g stroke="#008000" stroke-opacity="0.8" fill="none"><line x1="1267.3" y1="425.0" x2="1267.3" y2="431.0" stroke-width="2.0"/><line x1="1263.1" y1="425.0" x2="1271.5" y2="425.0" stroke-width="1.4"/><line x1="1263.1" y1="431.0" x2="1271.5" y2="431.0" stroke-width="1.4"/></g>
<g stroke="#008000" stroke-opacity="0.8" fill="none"><line x1="1275.0" y1="443.6" x2="1275.0" y2="455.6" stroke-width="2.0"/><line x1="1270.8" y1="443.6" x2="1279.2" y2="443.6" stroke-width="1.4"/><line x1="1270.8" y1="455.6" x2="1279.2" y2="455.6" stroke-width="1.4"/></g>
<g stroke="#008000" stroke-opacity="0.8" fill="none"><line x1="1293.5" y1="453.4" x2="1293.5" y2="489.4" stroke-width="2.0"/><line x1="1289.3" y1="453.4" x2="1297.7" y2="453.4" stroke-width="1.4"/><line x1="1289.3" y1="489.4" x2="1297.7" y2="489.4" stroke-width="1.4"/></g>
<g stroke="#008000" stroke-opacity="0.8" fill="none"><line x1="1290.3" y1="476.4" x2="1290.3" y2="492.4" stroke-width="2.0"/><line x1="1286.1" y1="476.4" x2="1294.5" y2="476.4" stroke-width="1.4"/><line x1="1286.1" y1="492.4" x2="1294.5" y2="492.4" stroke-width="1.4"/></g>
<g stroke="#008000" stroke-opacity="0.8" fill="none"><line x1="588.9" y1="765.3" x2="588.9" y2="814.7" stroke-width="2.0"/><line x1="584.7" y1="765.3" x2="593.1" y2="765.3" stroke-width="1.4"/><line x1="584.7" y1="814.7" x2="593.1" y2="814.7" stroke-width="1.4"/></g>
<circle cx="193.5" cy="260.2" r="3.95" fill="#008000" fill-opacity="0.8" stroke="#008000" stroke-opacity="0.8" stroke-width="1.39"/>
<circle cx="181.4" cy="285.4" r="3.95" fill="#008000" fill-opacity="0.8" stroke="#008000" stroke-opacity="0.8" stroke-width="1.39"/>
<circle cx="178.4" cy="341.3" r="3.95" fill="#008000" fill-opacity="0.8" stroke="#008000" stroke-opacity="0.8" stroke-width="1.39"/>
<circle cx="241.4" cy="394.3" r="3.95" fill="#008000" fill-opacity="0.8" stroke="#008000" stroke-opacity="0.8" stroke-width="1.39"/>
<circle cx="246.1" cy="408.4" r="3.95" fill="#008000" fill-opacity="0.8" stroke="#008000" stroke-opacity="0.8" stroke-width="1.39"/>
<circle cx="171.5" cy="403.3" r="3.95" fill="#008000" fill-opacity="0.8" stroke="#008000" stroke-opacity="0.8" stroke-width="1.39"/>
<circle cx="174.3" cy="408.4" r="3.95" fill="#008000" fill-opacity="0.8" stroke="#008000" stroke-opacity="0.8" stroke-width="1.39"/>
<circle cx="248.1" cy="433.3" r="3.95" fill="#008000" fill-opacity="0.8" stroke="#008000" stroke-opacity="0.8" stroke-width="1.39"/>
<circle cx="251.9" cy="437.3" r="3.95" fill="#008000" fill-opacity="0.8" stroke="#008000" stroke-opacity="0.8" stroke-width="1.39"/>
<circle cx="256.9" cy="453.5" r="3.95" fill="#008000" fill-opacity="0.8" stroke="#008000" stroke-opacity="0.8" stroke-width="1.39"/>
<circle cx="260.2" cy="493.5" r="3.95" fill="#008000" fill-opacity="0.8" stroke="#008000" stroke-opacity="0.8" stroke-width="1.39"/>
<circle cx="267.3" cy="495.3" r="3.95" fill="#008000" fill-opacity="0.8" stroke="#008000" stroke-opacity="0.8" stroke-width="1.39"/>
<circle cx="273.4" cy="503.6" r="3.95" fill="#008000" fill-opacity="0.8" stroke="#008000" stroke-opacity="0.8" stroke-width="1.39"/>
<circle cx="279.3" cy="515.2" r="3.95" fill="#008000" fill-opacity="0.8" stroke="#008000" stroke-opacity="0.8" stroke-width="1.39"/>
<circle cx="285.1" cy="518.0" r="3.95" fill="#008000" fill-opacity="0.8" stroke="#008000" stroke-opacity="0.8" stroke-width="1.39"/>
<circle cx="282.2" cy="522.2" r="3.95" fill="#008000" fill-opacity="0.8" stroke="#008000" stroke-opacity="0.8" stroke-width="1.39"/>
<circle cx="285.4" cy="540.4" r="3.95" fill="#008000" fill-opacity="0.8" stroke="#008000" stroke-opacity="0.8" stroke-width="1.39"/>
<circle cx="305.0" cy="559.8" r="3.95" fill="#008000" fill-opacity="0.8" stroke="#008000" stroke-opacity="0.8" stroke-width="1.39"/>
<circle cx="315.2" cy="573.2" r="3.95" fill="#008000" fill-opacity="0.8" stroke="#008000" stroke-opacity="0.8" stroke-width="1.39"/>
<circle cx="299.2" cy="579.0" r="3.95" fill="#008000" fill-opacity="0.8" stroke="#008000" stroke-opacity="0.8" stroke-width="1.39"/>
<circle cx="328.2" cy="569.4" r="3.95" fill="#008000" fill-opacity="0.8" stroke="#008000" stroke-opacity="0.8" stroke-width="1.39"/>
<circle cx="321.5" cy="597.1" r="3.95" fill="#008000" fill-opacity="0.8" stroke="#008000" stroke-opacity="0.8" stroke-width="1.39"/>
<circle cx="302.5" cy="616.2" r="3.95" fill="#008000" fill-opacity="0.8" stroke="#008000" stroke-opacity="0.8" stroke-width="1.39"/>
<circle cx="319.0" cy="610.4" r="3.95" fill="#008000" fill-opacity="0.8" stroke="#008000" stroke-opacity="0.8" stroke-width="1.39"/>
<circle cx="334.0" cy="619.0" r="3.95" fill="#008000" fill-opacity="0.8" stroke="#008000" stroke-opacity="0.8" stroke-width="1.39"/>
<circle cx="335.6" cy="612.4" r="3.95" fill="#008000" fill-opacity="0.8" stroke="#008000" stroke-opacity="0.8" stroke-width="1.39"/>
<circle cx="353.0" cy="635.2" r="3.95" fill="#008000" fill-opacity="0.8" stroke="#008000" stroke-opacity="0.8" stroke-width="1.39"/>
<circle cx="364.3" cy="636.4" r="3.95" fill="#008000" fill-opacity="0.8" stroke="#008000" stroke-opacity="0.8" stroke-width="1.39"/>
<circle cx="358.5" cy="655.3" r="3.95" fill="#008000" fill-opacity="0.8" stroke="#008000" stroke-opacity="0.8" stroke-width="1.39"/>
<circle cx="339.3" cy="678.5" r="3.95" fill="#008000" fill-opacity="0.8" stroke="#008000" stroke-opacity="0.8" stroke-width="1.39"/>
<circle cx="342.3" cy="733.4" r="3.95" fill="#008000" fill-opacity="0.8" stroke="#008000" stroke-opacity="0.8" stroke-width="1.39"/>
<circle cx="812.4" cy="713.5" r="3.95" fill="#008000" fill-opacity="0.8" stroke="#008000" stroke-opacity="0.8" stroke-width="1.39"/>
<circle cx="1181.4" cy="727.5" r="3.95" fill="#008000" fill-opacity="0.8" stroke="#008000" stroke-opacity="0.8" stroke-width="1.39"/>
<circle cx="1192.4" cy="536.3" r="3.95" fill="#008000" fill-opacity="0.8" stroke="#008000" stroke-opacity="0.8" stroke-width="1.39"/>
<circle cx="1195.3" cy="501.1" r="3.95" fill="#008000" fill-opacity="0.8" stroke="#008000" stroke-opacity="0.8" stroke-width="1.39"/>
<circle cx="1235.6" cy="365.4" r="3.95" fill="#008000" fill-opacity="0.8" stroke="#008000" stroke-opacity="0.8" stroke-width="1.39"/>
<circle cx="1251.4" cy="406.5" r="3.95" fill="#008000" fill-opacity="0.8" stroke="#008000" stroke-opacity="0.8" stroke-width="1.39"/>
<circle cx="1267.3" cy="428.0" r="3.95" fill="#008000" fill-opacity="0.8" stroke="#008000" stroke-opacity="0.8" stroke-width="1.39"/>
<circle cx="1275.0" cy="449.6" r="3.95" fill="#008000" fill-opacity="0.8" stroke="#008000" stroke-opacity="0.8" stroke-width="1.39"/>
<circle cx="1293.5" cy="471.4" r="3.95" fill="#008000" fill-opacity="0.8" stroke="#008000" stroke-opacity="0.8" stroke-width="1.39"/>
<circle cx="1290.3" cy="484.4" r="3.95" fill="#008000" fill-opacity="0.8" stroke="#008000" stroke-opacity="0.8" stroke-width="1.39"/>
<circle cx="588.9" cy="790.0" r="3.95" fill="#008000" fill-opacity="0.8" stroke="#008000" stroke-opacity="0.8" stroke-width="1.39"/>
<path d="M557.33,647.80L561.27,647.80L559.30,651.60Z" fill="#008000" fill-opacity="0.8" stroke="#008000" stroke-opacity="0.8" stroke-width="1.39" stroke-linejoin="miter" stroke-miterlimit="10"/>
<path d="M607.43,629.10L611.37,629.10L609.40,632.90Z" fill="#008000" fill-opacity="0.8" stroke="#008000" stroke-opacity="0.8" stroke-width="1.39" stroke-linejoin="miter" stroke-miterlimit="10"/>
<path d="M621.33,634.00L625.27,634.00L623.30,637.80Z" fill="#008000" fill-opacity="0.8" stroke="#008000" stroke-opacity="0.8" stroke-width="1.39" stroke-linejoin="miter" stroke-miterlimit="10"/>
<path d="M550.43,722.90L554.37,722.90L552.40,726.70Z" fill="#008000" fill-opacity="0.8" stroke="#008000" stroke-opacity="0.8" stroke-width="1.39" stroke-linejoin="miter" stroke-miterlimit="10"/>
<path d="M624.53,732.90L628.47,732.90L626.50,736.70Z" fill="#008000" fill-opacity="0.8" stroke="#008000" stroke-opacity="0.8" stroke-width="1.39" stroke-linejoin="miter" stroke-miterlimit="10"/>
<path d="M627.23,762.70L631.17,762.70L629.20,766.50Z" fill="#008000" fill-opacity="0.8" stroke="#008000" stroke-opacity="0.8" stroke-width="1.39" stroke-linejoin="miter" stroke-miterlimit="10"/>
<path d="M657.43,683.00L661.37,683.00L659.40,686.80Z" fill="#008000" fill-opacity="0.8" stroke="#008000" stroke-opacity="0.8" stroke-width="1.39" stroke-linejoin="miter" stroke-miterlimit="10"/>
<path d="M673.43,734.00L677.37,734.00L675.40,737.80Z" fill="#008000" fill-opacity="0.8" stroke="#008000" stroke-opacity="0.8" stroke-width="1.39" stroke-linejoin="miter" stroke-miterlimit="10"/>
<path d="M678.43,761.10L682.37,761.10L680.40,764.90Z" fill="#008000" fill-opacity="0.8" stroke="#008000" stroke-opacity="0.8" stroke-width="1.39" stroke-linejoin="miter" stroke-miterlimit="10"/>
<path d="M697.23,651.90L701.17,651.90L699.20,655.70Z" fill="#008000" fill-opacity="0.8" stroke="#008000" stroke-opacity="0.8" stroke-width="1.39" stroke-linejoin="miter" stroke-miterlimit="10"/>
<path d="M709.33,669.90L713.27,669.90L711.30,673.70Z" fill="#008000" fill-opacity="0.8" stroke="#008000" stroke-opacity="0.8" stroke-width="1.39" stroke-linejoin="miter" stroke-miterlimit="10"/>
<path d="M694.53,478.90L698.47,478.90L696.50,482.70Z" fill="#008000" fill-opacity="0.8" stroke="#008000" stroke-opacity="0.8" stroke-width="1.39" stroke-linejoin="miter" stroke-miterlimit="10"/>
<path d="M765.33,707.90L769.27,707.90L767.30,711.70Z" fill="#008000" fill-opacity="0.8" stroke="#008000" stroke-opacity="0.8" stroke-width="1.39" stroke-linejoin="miter" stroke-miterlimit="10"/>
<path d="M748.23,753.90L752.17,753.90L750.20,757.70Z" fill="#008000" fill-opacity="0.8" stroke="#008000" stroke-opacity="0.8" stroke-width="1.39" stroke-linejoin="miter" stroke-miterlimit="10"/>
<path d="M780.43,615.70L784.37,615.70L782.40,619.50Z" fill="#008000" fill-opacity="0.8" stroke="#008000" stroke-opacity="0.8" stroke-width="1.39" stroke-linejoin="miter" stroke-miterlimit="10"/>
<path d="M817.23,598.00L821.17,598.00L819.20,601.80Z" fill="#008000" fill-opacity="0.8" stroke="#008000" stroke-opacity="0.8" stroke-width="1.39" stroke-linejoin="miter" stroke-miterlimit="10"/>
<path d="M812.33,651.90L816.27,651.90L814.30,655.70Z" fill="#008000" fill-opacity="0.8" stroke="#008000" stroke-opacity="0.8" stroke-width="1.39" stroke-linejoin="miter" stroke-miterlimit="10"/>
<path d="M783.43,697.90L787.37,697.90L785.40,701.70Z" fill="#008000" fill-opacity="0.8" stroke="#008000" stroke-opacity="0.8" stroke-width="1.39" stroke-linejoin="miter" stroke-miterlimit="10"/>
<path d="M798.53,734.00L802.47,734.00L800.50,737.80Z" fill="#008000" fill-opacity="0.8" stroke="#008000" stroke-opacity="0.8" stroke-width="1.39" stroke-linejoin="miter" stroke-miterlimit="10"/>
<path d="M795.33,763.90L799.27,763.90L797.30,767.70Z" fill="#008000" fill-opacity="0.8" stroke="#008000" stroke-opacity="0.8" stroke-width="1.39" stroke-linejoin="miter" stroke-miterlimit="10"/>
<path d="M801.43,768.90L805.37,768.90L803.40,772.70Z" fill="#008000" fill-opacity="0.8" stroke="#008000" stroke-opacity="0.8" stroke-width="1.39" stroke-linejoin="miter" stroke-miterlimit="10"/>
<path d="M792.33,771.00L796.27,771.00L794.30,774.80Z" fill="#008000" fill-opacity="0.8" stroke="#008000" stroke-opacity="0.8" stroke-width="1.39" stroke-linejoin="miter" stroke-miterlimit="10"/>
<path d="M853.43,704.20L857.37,704.20L855.40,708.00Z" fill="#008000" fill-opacity="0.8" stroke="#008000" stroke-opacity="0.8" stroke-width="1.39" stroke-linejoin="miter" stroke-miterlimit="10"/>
<path d="M836.43,752.80L840.37,752.80L838.40,756.60Z" fill="#008000" fill-opacity="0.8" stroke="#008000" stroke-opacity="0.8" stroke-width="1.39" stroke-linejoin="miter" stroke-miterlimit="10"/>
<path d="M844.23,764.70L848.17,764.70L846.20,768.50Z" fill="#008000" fill-opacity="0.8" stroke="#008000" stroke-opacity="0.8" stroke-width="1.39" stroke-linejoin="miter" stroke-miterlimit="10"/>
<path d="M841.43,770.00L845.37,770.00L843.40,773.80Z" fill="#008000" fill-opacity="0.8" stroke="#008000" stroke-opacity="0.8" stroke-width="1.39" stroke-linejoin="miter" stroke-miterlimit="10"/>
<path d="M830.53,774.70L834.47,774.70L832.50,778.50Z" fill="#008000" fill-opacity="0.8" stroke="#008000" stroke-opacity="0.8" stroke-width="1.39" stroke-linejoin="miter" stroke-miterlimit="10"/>
<path d="M863.43,609.10L867.37,609.10L865.40,612.90Z" fill="#008000" fill-opacity="0.8" stroke="#008000" stroke-opacity="0.8" stroke-width="1.39" stroke-linejoin="miter" stroke-miterlimit="10"/>
<path d="M866.33,717.90L870.27,717.90L868.30,721.70Z" fill="#008000" fill-opacity="0.8" stroke="#008000" stroke-opacity="0.8" stroke-width="1.39" stroke-linejoin="miter" stroke-miterlimit="10"/>
<path d="M885.43,734.00L889.37,734.00L887.40,737.80Z" fill="#008000" fill-opacity="0.8" stroke="#008000" stroke-opacity="0.8" stroke-width="1.39" stroke-linejoin="miter" stroke-miterlimit="10"/>
<path d="M888.53,753.90L892.47,753.90L890.50,757.70Z" fill="#008000" fill-opacity="0.8" stroke="#008000" stroke-opacity="0.8" stroke-width="1.39" stroke-linejoin="miter" stroke-miterlimit="10"/>
<path d="M878.63,770.00L882.57,770.00L880.60,773.80Z" fill="#008000" fill-opacity="0.8" stroke="#008000" stroke-opacity="0.8" stroke-width="1.39" stroke-linejoin="miter" stroke-miterlimit="10"/>
<path d="M881.53,771.70L885.47,771.70L883.50,775.50Z" fill="#008000" fill-opacity="0.8" stroke="#008000" stroke-opacity="0.8" stroke-width="1.39" stroke-linejoin="miter" stroke-miterlimit="10"/>
<path d="M900.43,648.60L904.37,648.60L902.40,652.40Z" fill="#008000" fill-opacity="0.8" stroke="#008000" stroke-opacity="0.8" stroke-width="1.39" stroke-linejoin="miter" stroke-miterlimit="10"/>
<path d="M913.43,682.40L917.37,682.40L915.40,686.20Z" fill="#008000" fill-opacity="0.8" stroke="#008000" stroke-opacity="0.8" stroke-width="1.39" stroke-linejoin="miter" stroke-miterlimit="10"/>
<path d="M955.23,671.00L959.17,671.00L957.20,674.80Z" fill="#008000" fill-opacity="0.8" stroke="#008000" stroke-opacity="0.8" stroke-width="1.39" stroke-linejoin="miter" stroke-miterlimit="10"/>
<path d="M1083.53,493.00L1087.47,493.00L1085.50,496.80Z" fill="#008000" fill-opacity="0.8" stroke="#008000" stroke-opacity="0.8" stroke-width="1.39" stroke-linejoin="miter" stroke-miterlimit="10"/>
<path d="M1085.53,672.90L1089.47,672.90L1087.50,676.70Z" fill="#008000" fill-opacity="0.8" stroke="#008000" stroke-opacity="0.8" stroke-width="1.39" stroke-linejoin="miter" stroke-miterlimit="10"/>
<path d="M1138.43,694.80L1142.37,694.80L1140.40,698.60Z" fill="#008000" fill-opacity="0.8" stroke="#008000" stroke-opacity="0.8" stroke-width="1.39" stroke-linejoin="miter" stroke-miterlimit="10"/>
<path d="M1144.43,769.90L1148.37,769.90L1146.40,773.70Z" fill="#008000" fill-opacity="0.8" stroke="#008000" stroke-opacity="0.8" stroke-width="1.39" stroke-linejoin="miter" stroke-miterlimit="10"/>
<path d="M688.53,631.10L692.47,631.10L690.50,634.90Z" fill="#008000" fill-opacity="0.8" stroke="#008000" stroke-opacity="0.8" stroke-width="1.39" stroke-linejoin="miter" stroke-miterlimit="10"/>
</g>
<g id="s_lcog">
<g stroke="#008000" stroke-opacity="0.8" fill="none"><line x1="1217.2" y1="365.7" x2="1217.2" y2="373.7" stroke-width="2.0"/><line x1="1213.0" y1="365.7" x2="1221.4" y2="365.7" stroke-width="1.4"/><line x1="1213.0" y1="373.7" x2="1221.4" y2="373.7" stroke-width="1.4"/></g>
<g stroke="#008000" stroke-opacity="0.8" fill="none"><line x1="1216.1" y1="375.1" x2="1216.1" y2="383.1" stroke-width="2.0"/><line x1="1211.9" y1="375.1" x2="1220.3" y2="375.1" stroke-width="1.4"/><line x1="1211.9" y1="383.1" x2="1220.3" y2="383.1" stroke-width="1.4"/></g>
<g stroke="#008000" stroke-opacity="0.8" fill="none"><line x1="1214.1" y1="385.5" x2="1214.1" y2="395.5" stroke-width="2.0"/><line x1="1209.9" y1="385.5" x2="1218.3" y2="385.5" stroke-width="1.4"/><line x1="1209.9" y1="395.5" x2="1218.3" y2="395.5" stroke-width="1.4"/></g>
<g stroke="#008000" stroke-opacity="0.8" fill="none"><line x1="1204.7" y1="437.9" x2="1204.7" y2="455.1" stroke-width="2.0"/><line x1="1200.5" y1="437.9" x2="1208.9" y2="437.9" stroke-width="1.4"/><line x1="1200.5" y1="455.1" x2="1208.9" y2="455.1" stroke-width="1.4"/></g>
<rect x="1213.4" y="365.9" width="7.6" height="7.6" fill="#008000" fill-opacity="0.8" stroke="#008000" stroke-opacity="0.8" stroke-width="1.39"/>
<rect x="1212.3" y="375.3" width="7.6" height="7.6" fill="#008000" fill-opacity="0.8" stroke="#008000" stroke-opacity="0.8" stroke-width="1.39"/>
<rect x="1210.3" y="386.7" width="7.6" height="7.6" fill="#008000" fill-opacity="0.8" stroke="#008000" stroke-opacity="0.8" stroke-width="1.39"/>
<rect x="1200.9" y="442.7" width="7.6" height="7.6" fill="#008000" fill-opacity="0.8" stroke="#008000" stroke-opacity="0.8" stroke-width="1.39"/>
</g>
<g id="s_lcor">
<g stroke="#ff0000" stroke-opacity="0.8" fill="none"><line x1="1215.5" y1="443.7" x2="1215.5" y2="459.7" stroke-width="2.0"/><line x1="1211.3" y1="443.7" x2="1219.7" y2="443.7" stroke-width="1.4"/><line x1="1211.3" y1="459.7" x2="1219.7" y2="459.7" stroke-width="1.4"/></g>
<g stroke="#ff0000" stroke-opacity="0.8" fill="none"><line x1="1218.2" y1="461.4" x2="1218.2" y2="477.4" stroke-width="2.0"/><line x1="1214.0" y1="461.4" x2="1222.4" y2="461.4" stroke-width="1.4"/><line x1="1214.0" y1="477.4" x2="1222.4" y2="477.4" stroke-width="1.4"/></g>
<g stroke="#ff0000" stroke-opacity="0.8" fill="none"><line x1="1215.1" y1="465.2" x2="1215.1" y2="490.2" stroke-width="2.0"/><line x1="1210.9" y1="465.2" x2="1219.3" y2="465.2" stroke-width="1.4"/><line x1="1210.9" y1="490.2" x2="1219.3" y2="490.2" stroke-width="1.4"/></g>
<g stroke="#ff0000" stroke-opacity="0.8" fill="none"><line x1="1206.8" y1="473.8" x2="1206.8" y2="487.8" stroke-width="2.0"/><line x1="1202.6" y1="473.8" x2="1211.0" y2="473.8" stroke-width="1.4"/><line x1="1202.6" y1="487.8" x2="1211.0" y2="487.8" stroke-width="1.4"/></g>
<g stroke="#ff0000" stroke-opacity="0.8" fill="none"><line x1="1205.1" y1="490.5" x2="1205.1" y2="510.5" stroke-width="2.0"/><line x1="1200.9" y1="490.5" x2="1209.3" y2="490.5" stroke-width="1.4"/><line x1="1200.9" y1="510.5" x2="1209.3" y2="510.5" stroke-width="1.4"/></g>
<rect x="1211.7" y="447.9" width="7.6" height="7.6" fill="#ff0000" fill-opacity="0.8" stroke="#ff0000" stroke-opacity="0.8" stroke-width="1.39"/>
<rect x="1214.4" y="465.6" width="7.6" height="7.6" fill="#ff0000" fill-opacity="0.8" stroke="#ff0000" stroke-opacity="0.8" stroke-width="1.39"/>
<rect x="1211.3" y="473.9" width="7.6" height="7.6" fill="#ff0000" fill-opacity="0.8" stroke="#ff0000" stroke-opacity="0.8" stroke-width="1.39"/>
<rect x="1203.0" y="477.0" width="7.6" height="7.6" fill="#ff0000" fill-opacity="0.8" stroke="#ff0000" stroke-opacity="0.8" stroke-width="1.39"/>
<rect x="1201.3" y="496.7" width="7.6" height="7.6" fill="#ff0000" fill-opacity="0.8" stroke="#ff0000" stroke-opacity="0.8" stroke-width="1.39"/>
</g>
<g id="s_lcoi">
<g stroke="#0000ff" stroke-opacity="0.8" fill="none"><line x1="1217.6" y1="449.9" x2="1217.6" y2="461.9" stroke-width="2.0"/><line x1="1213.4" y1="449.9" x2="1221.8" y2="449.9" stroke-width="1.4"/><line x1="1213.4" y1="461.9" x2="1221.8" y2="461.9" stroke-width="1.4"/></g>
<g stroke="#0000ff" stroke-opacity="0.8" fill="none"><line x1="1207.2" y1="481.8" x2="1207.2" y2="519.2" stroke-width="2.0"/><line x1="1203.0" y1="481.8" x2="1211.4" y2="481.8" stroke-width="1.4"/><line x1="1203.0" y1="519.2" x2="1211.4" y2="519.2" stroke-width="1.4"/></g>
<rect x="1213.8" y="452.1" width="7.6" height="7.6" fill="#0000ff" fill-opacity="0.8" stroke="#0000ff" stroke-opacity="0.8" stroke-width="1.39"/>
<rect x="1203.4" y="496.7" width="7.6" height="7.6" fill="#0000ff" fill-opacity="0.8" stroke="#0000ff" stroke-opacity="0.8" stroke-width="1.39"/>
</g>
<g id="s_v">
<path d="M341.38,208.75L349.22,208.75L345.30,216.45Z" fill="#ffc0cb" fill-opacity="0.8" stroke="#ffc0cb" stroke-opacity="0.8" stroke-width="1.39" stroke-linejoin="miter" stroke-miterlimit="10"/>
<path d="M229.68,236.44L237.52,236.44L233.60,244.15Z" fill="#ffc0cb" fill-opacity="0.8" stroke="#ffc0cb" stroke-opacity="0.8" stroke-width="1.39" stroke-linejoin="miter" stroke-miterlimit="10"/>
<path d="M214.48,267.44L222.32,267.44L218.40,275.15Z" fill="#ffc0cb" fill-opacity="0.8" stroke="#ffc0cb" stroke-opacity="0.8" stroke-width="1.39" stroke-linejoin="miter" stroke-miterlimit="10"/>
<path d="M208.98,278.84L216.82,278.84L212.90,286.55Z" fill="#ffc0cb" fill-opacity="0.8" stroke="#ffc0cb" stroke-opacity="0.8" stroke-width="1.39" stroke-linejoin="miter" stroke-miterlimit="10"/>
<path d="M213.48,291.14L221.32,291.14L217.40,298.85Z" fill="#ffc0cb" fill-opacity="0.8" stroke="#ffc0cb" stroke-opacity="0.8" stroke-width="1.39" stroke-linejoin="miter" stroke-miterlimit="10"/>
<path d="M244.18,296.94L252.02,296.94L248.10,304.65Z" fill="#ffc0cb" fill-opacity="0.8" stroke="#ffc0cb" stroke-opacity="0.8" stroke-width="1.39" stroke-linejoin="miter" stroke-miterlimit="10"/>
<path d="M225.58,307.84L233.42,307.84L229.50,315.55Z" fill="#ffc0cb" fill-opacity="0.8" stroke="#ffc0cb" stroke-opacity="0.8" stroke-width="1.39" stroke-linejoin="miter" stroke-miterlimit="10"/>
<path d="M205.38,311.84L213.22,311.84L209.30,319.55Z" fill="#ffc0cb" fill-opacity="0.8" stroke="#ffc0cb" stroke-opacity="0.8" stroke-width="1.39" stroke-linejoin="miter" stroke-miterlimit="10"/>
<path d="M230.88,320.74L238.72,320.74L234.80,328.45Z" fill="#ffc0cb" fill-opacity="0.8" stroke="#ffc0cb" stroke-opacity="0.8" stroke-width="1.39" stroke-linejoin="miter" stroke-miterlimit="10"/>
<path d="M222.28,331.24L230.12,331.24L226.20,338.95Z" fill="#ffc0cb" fill-opacity="0.8" stroke="#ffc0cb" stroke-opacity="0.8" stroke-width="1.39" stroke-linejoin="miter" stroke-miterlimit="10"/>
<path d="M266.18,316.54L274.02,316.54L270.10,324.25Z" fill="#ffc0cb" fill-opacity="0.8" stroke="#ffc0cb" stroke-opacity="0.8" stroke-width="1.39" stroke-linejoin="miter" stroke-miterlimit="10"/>
<path d="M269.48,314.84L277.32,314.84L273.40,322.55Z" fill="#ffc0cb" fill-opacity="0.8" stroke="#ffc0cb" stroke-opacity="0.8" stroke-width="1.39" stroke-linejoin="miter" stroke-miterlimit="10"/>
<path d="M310.48,309.44L318.32,309.44L314.40,317.15Z" fill="#ffc0cb" fill-opacity="0.8" stroke="#ffc0cb" stroke-opacity="0.8" stroke-width="1.39" stroke-linejoin="miter" stroke-miterlimit="10"/>
<path d="M354.58,309.44L362.42,309.44L358.50,317.15Z" fill="#ffc0cb" fill-opacity="0.8" stroke="#ffc0cb" stroke-opacity="0.8" stroke-width="1.39" stroke-linejoin="miter" stroke-miterlimit="10"/>
<path d="M339.18,315.54L347.02,315.54L343.10,323.25Z" fill="#ffc0cb" fill-opacity="0.8" stroke="#ffc0cb" stroke-opacity="0.8" stroke-width="1.39" stroke-linejoin="miter" stroke-miterlimit="10"/>
<path d="M346.28,325.54L354.12,325.54L350.20,333.25Z" fill="#ffc0cb" fill-opacity="0.8" stroke="#ffc0cb" stroke-opacity="0.8" stroke-width="1.39" stroke-linejoin="miter" stroke-miterlimit="10"/>
<path d="M332.58,328.44L340.42,328.44L336.50,336.15Z" fill="#ffc0cb" fill-opacity="0.8" stroke="#ffc0cb" stroke-opacity="0.8" stroke-width="1.39" stroke-linejoin="miter" stroke-miterlimit="10"/>
<path d="M321.48,327.64L329.32,327.64L325.40,335.35Z" fill="#ffc0cb" fill-opacity="0.8" stroke="#ffc0cb" stroke-opacity="0.8" stroke-width="1.39" stroke-linejoin="miter" stroke-miterlimit="10"/>
<path d="M317.58,331.84L325.42,331.84L321.50,339.55Z" fill="#ffc0cb" fill-opacity="0.8" stroke="#ffc0cb" stroke-opacity="0.8" stroke-width="1.39" stroke-linejoin="miter" stroke-miterlimit="10"/>
<path d="M188.48,336.84L196.32,336.84L192.40,344.55Z" fill="#ffc0cb" fill-opacity="0.8" stroke="#ffc0cb" stroke-opacity="0.8" stroke-width="1.39" stroke-linejoin="miter" stroke-miterlimit="10"/>
<path d="M192.38,353.64L200.22,353.64L196.30,361.35Z" fill="#ffc0cb" fill-opacity="0.8" stroke="#ffc0cb" stroke-opacity="0.8" stroke-width="1.39" stroke-linejoin="miter" stroke-miterlimit="10"/>
<path d="M255.48,350.34L263.32,350.34L259.40,358.05Z" fill="#ffc0cb" fill-opacity="0.8" stroke="#ffc0cb" stroke-opacity="0.8" stroke-width="1.39" stroke-linejoin="miter" stroke-miterlimit="10"/>
<path d="M292.38,350.74L300.22,350.74L296.30,358.45Z" fill="#ffc0cb" fill-opacity="0.8" stroke="#ffc0cb" stroke-opacity="0.8" stroke-width="1.39" stroke-linejoin="miter" stroke-miterlimit="10"/>
<path d="M305.48,355.64L313.32,355.64L309.40,363.35Z" fill="#ffc0cb" fill-opacity="0.8" stroke="#ffc0cb" stroke-opacity="0.8" stroke-width="1.39" stroke-linejoin="miter" stroke-miterlimit="10"/>
<path d="M362.38,349.84L370.22,349.84L366.30,357.55Z" fill="#ffc0cb" fill-opacity="0.8" stroke="#ffc0cb" stroke-opacity="0.8" stroke-width="1.39" stroke-linejoin="miter" stroke-miterlimit="10"/>
<path d="M325.08,340.74L332.92,340.74L329.00,348.45Z" fill="#ffc0cb" fill-opacity="0.8" stroke="#ffc0cb" stroke-opacity="0.8" stroke-width="1.39" stroke-linejoin="miter" stroke-miterlimit="10"/>
<path d="M735.48,340.14L743.32,340.14L739.40,347.85Z" fill="#ffc0cb" fill-opacity="0.8" stroke="#ffc0cb" stroke-opacity="0.8" stroke-width="1.39" stroke-linejoin="miter" stroke-miterlimit="10"/>
<path d="M731.28,244.54L739.12,244.54L735.20,252.25Z" fill="#ffc0cb" fill-opacity="0.8" stroke="#ffc0cb" stroke-opacity="0.8" stroke-width="1.39" stroke-linejoin="miter" stroke-miterlimit="10"/>
<path d="M1217.68,328.04L1225.52,328.04L1221.60,335.75Z" fill="#ffc0cb" fill-opacity="0.8" stroke="#ffc0cb" stroke-opacity="0.8" stroke-width="1.39" stroke-linejoin="miter" stroke-miterlimit="10"/>
<path d="M1244.98,323.64L1252.82,323.64L1248.90,331.35Z" fill="#ffc0cb" fill-opacity="0.8" stroke="#ffc0cb" stroke-opacity="0.8" stroke-width="1.39" stroke-linejoin="miter" stroke-miterlimit="10"/>
<path d="M1250.58,303.54L1258.42,303.54L1254.50,311.25Z" fill="#ffc0cb" fill-opacity="0.8" stroke="#ffc0cb" stroke-opacity="0.8" stroke-width="1.39" stroke-linejoin="miter" stroke-miterlimit="10"/>
<path d="M1210.78,295.54L1218.62,295.54L1214.70,303.25Z" fill="#ffc0cb" fill-opacity="0.8" stroke="#ffc0cb" stroke-opacity="0.8" stroke-width="1.39" stroke-linejoin="miter" stroke-miterlimit="10"/>
<path d="M1240.68,335.44L1248.52,335.44L1244.60,343.15Z" fill="#ffc0cb" fill-opacity="0.8" stroke="#ffc0cb" stroke-opacity="0.8" stroke-width="1.39" stroke-linejoin="miter" stroke-miterlimit="10"/>
<path d="M1227.98,340.14L1235.82,340.14L1231.90,347.85Z" fill="#ffc0cb" fill-opacity="0.8" stroke="#ffc0cb" stroke-opacity="0.8" stroke-width="1.39" stroke-linejoin="miter" stroke-miterlimit="10"/>
<path d="M1237.58,354.44L1245.42,354.44L1241.50,362.15Z" fill="#ffc0cb" fill-opacity="0.8" stroke="#ffc0cb" stroke-opacity="0.8" stroke-width="1.39" stroke-linejoin="miter" stroke-miterlimit="10"/>
<path d="M1213.88,363.74L1221.72,363.74L1217.80,371.45Z" fill="#ffc0cb" fill-opacity="0.8" stroke="#ffc0cb" stroke-opacity="0.8" stroke-width="1.39" stroke-linejoin="miter" stroke-miterlimit="10"/>
<path d="M1221.38,358.74L1229.22,358.74L1225.30,366.45Z" fill="#ffc0cb" fill-opacity="0.8" stroke="#ffc0cb" stroke-opacity="0.8" stroke-width="1.39" stroke-linejoin="miter" stroke-miterlimit="10"/>
<path d="M1206.48,374.34L1214.32,374.34L1210.40,382.05Z" fill="#ffc0cb" fill-opacity="0.8" stroke="#ffc0cb" stroke-opacity="0.8" stroke-width="1.39" stroke-linejoin="miter" stroke-miterlimit="10"/>
<path d="M1275.48,360.64L1283.32,360.64L1279.40,368.35Z" fill="#ffc0cb" fill-opacity="0.8" stroke="#ffc0cb" stroke-opacity="0.8" stroke-width="1.39" stroke-linejoin="miter" stroke-miterlimit="10"/>
<path d="M1254.38,379.64L1262.22,379.64L1258.30,387.35Z" fill="#ffc0cb" fill-opacity="0.8" stroke="#ffc0cb" stroke-opacity="0.8" stroke-width="1.39" stroke-linejoin="miter" stroke-miterlimit="10"/>
<path d="M1259.28,338.24L1267.12,338.24L1263.20,345.95Z" fill="#ffc0cb" fill-opacity="0.8" stroke="#ffc0cb" stroke-opacity="0.8" stroke-width="1.39" stroke-linejoin="miter" stroke-miterlimit="10"/>
<path d="M371.38,330.44L379.22,330.44L375.30,338.15Z" fill="#ffc0cb" fill-opacity="0.8" stroke="#ffc0cb" stroke-opacity="0.8" stroke-width="1.39" stroke-linejoin="miter" stroke-miterlimit="10"/>
<path d="M376.58,334.54L384.42,334.54L380.50,342.25Z" fill="#ffc0cb" fill-opacity="0.8" stroke="#ffc0cb" stroke-opacity="0.8" stroke-width="1.39" stroke-linejoin="miter" stroke-miterlimit="10"/>
</g>
<g id="s_b">
<g stroke="#1f77b4" stroke-opacity="0.8" fill="none"><line x1="200.5" y1="206.3" x2="200.5" y2="252.7" stroke-width="2.0"/><line x1="196.3" y1="206.3" x2="204.7" y2="206.3" stroke-width="1.4"/><line x1="196.3" y1="252.7" x2="204.7" y2="252.7" stroke-width="1.4"/></g>
<g stroke="#1f77b4" stroke-opacity="0.8" fill="none"><line x1="192.2" y1="248.9" x2="192.2" y2="276.5" stroke-width="2.0"/><line x1="188.0" y1="248.9" x2="196.4" y2="248.9" stroke-width="1.4"/><line x1="188.0" y1="276.5" x2="196.4" y2="276.5" stroke-width="1.4"/></g>
<g stroke="#1f77b4" stroke-opacity="0.8" fill="none"><line x1="196.3" y1="282.3" x2="196.3" y2="314.3" stroke-width="2.0"/><line x1="192.1" y1="282.3" x2="200.5" y2="282.3" stroke-width="1.4"/><line x1="192.1" y1="314.3" x2="200.5" y2="314.3" stroke-width="1.4"/></g>
<g stroke="#1f77b4" stroke-opacity="0.8" fill="none"><line x1="211.3" y1="311.6" x2="211.3" y2="378.8" stroke-width="2.0"/><line x1="207.1" y1="311.6" x2="215.5" y2="311.6" stroke-width="1.4"/><line x1="207.1" y1="378.8" x2="215.5" y2="378.8" stroke-width="1.4"/></g>
<g stroke="#1f77b4" stroke-opacity="0.8" fill="none"><line x1="217.2" y1="291.5" x2="217.2" y2="346.5" stroke-width="2.0"/><line x1="213.0" y1="291.5" x2="221.4" y2="291.5" stroke-width="1.4"/><line x1="213.0" y1="346.5" x2="221.4" y2="346.5" stroke-width="1.4"/></g>
<g stroke="#1f77b4" stroke-opacity="0.8" fill="none"><line x1="209.6" y1="338.3" x2="209.6" y2="406.3" stroke-width="2.0"/><line x1="205.4" y1="338.3" x2="213.8" y2="338.3" stroke-width="1.4"/><line x1="205.4" y1="406.3" x2="213.8" y2="406.3" stroke-width="1.4"/></g>
<g stroke="#1f77b4" stroke-opacity="0.8" fill="none"><line x1="226.2" y1="350.2" x2="226.2" y2="414.2" stroke-width="2.0"/><line x1="222.0" y1="350.2" x2="230.4" y2="350.2" stroke-width="1.4"/><line x1="222.0" y1="414.2" x2="230.4" y2="414.2" stroke-width="1.4"/></g>
<g stroke="#1f77b4" stroke-opacity="0.8" fill="none"><line x1="1226.3" y1="355.3" x2="1226.3" y2="417.3" stroke-width="2.0"/><line x1="1222.1" y1="355.3" x2="1230.5" y2="355.3" stroke-width="1.4"/><line x1="1222.1" y1="417.3" x2="1230.5" y2="417.3" stroke-width="1.4"/></g>
<g stroke="#1f77b4" stroke-opacity="0.8" fill="none"><line x1="1244.6" y1="369.1" x2="1244.6" y2="445.1" stroke-width="2.0"/><line x1="1240.4" y1="369.1" x2="1248.8" y2="369.1" stroke-width="1.4"/><line x1="1240.4" y1="445.1" x2="1248.8" y2="445.1" stroke-width="1.4"/></g>
<circle cx="200.5" cy="229.5" r="3.95" fill="#1f77b4" fill-opacity="0.8" stroke="#1f77b4" stroke-opacity="0.8" stroke-width="1.39"/>
<circle cx="192.2" cy="262.7" r="3.95" fill="#1f77b4" fill-opacity="0.8" stroke="#1f77b4" stroke-opacity="0.8" stroke-width="1.39"/>
<circle cx="196.3" cy="298.3" r="3.95" fill="#1f77b4" fill-opacity="0.8" stroke="#1f77b4" stroke-opacity="0.8" stroke-width="1.39"/>
<circle cx="211.3" cy="345.2" r="3.95" fill="#1f77b4" fill-opacity="0.8" stroke="#1f77b4" stroke-opacity="0.8" stroke-width="1.39"/>
<circle cx="217.2" cy="319.0" r="3.95" fill="#1f77b4" fill-opacity="0.8" stroke="#1f77b4" stroke-opacity="0.8" stroke-width="1.39"/>
<circle cx="209.6" cy="372.3" r="3.95" fill="#1f77b4" fill-opacity="0.8" stroke="#1f77b4" stroke-opacity="0.8" stroke-width="1.39"/>
<circle cx="226.2" cy="382.2" r="3.95" fill="#1f77b4" fill-opacity="0.8" stroke="#1f77b4" stroke-opacity="0.8" stroke-width="1.39"/>
<circle cx="1226.3" cy="386.3" r="3.95" fill="#1f77b4" fill-opacity="0.8" stroke="#1f77b4" stroke-opacity="0.8" stroke-width="1.39"/>
<circle cx="1244.6" cy="407.1" r="3.95" fill="#1f77b4" fill-opacity="0.8" stroke="#1f77b4" stroke-opacity="0.8" stroke-width="1.39"/>
<path d="M341.38,312.74L349.22,312.74L345.30,320.45Z" fill="#1f77b4" fill-opacity="0.8" stroke="#1f77b4" stroke-opacity="0.8" stroke-width="1.39" stroke-linejoin="miter" stroke-miterlimit="10"/>
<path d="M228.88,341.54L236.72,341.54L232.80,349.25Z" fill="#1f77b4" fill-opacity="0.8" stroke="#1f77b4" stroke-opacity="0.8" stroke-width="1.39" stroke-linejoin="miter" stroke-miterlimit="10"/>
<path d="M214.48,374.24L222.32,374.24L218.40,381.95Z" fill="#1f77b4" fill-opacity="0.8" stroke="#1f77b4" stroke-opacity="0.8" stroke-width="1.39" stroke-linejoin="miter" stroke-miterlimit="10"/>
<path d="M255.48,358.64L263.32,358.64L259.40,366.35Z" fill="#1f77b4" fill-opacity="0.8" stroke="#1f77b4" stroke-opacity="0.8" stroke-width="1.39" stroke-linejoin="miter" stroke-miterlimit="10"/>
<path d="M243.48,400.74L251.32,400.74L247.40,408.45Z" fill="#1f77b4" fill-opacity="0.8" stroke="#1f77b4" stroke-opacity="0.8" stroke-width="1.39" stroke-linejoin="miter" stroke-miterlimit="10"/>
<path d="M225.58,412.54L233.42,412.54L229.50,420.25Z" fill="#1f77b4" fill-opacity="0.8" stroke="#1f77b4" stroke-opacity="0.8" stroke-width="1.39" stroke-linejoin="miter" stroke-miterlimit="10"/>
<path d="M230.58,422.34L238.42,422.34L234.50,430.05Z" fill="#1f77b4" fill-opacity="0.8" stroke="#1f77b4" stroke-opacity="0.8" stroke-width="1.39" stroke-linejoin="miter" stroke-miterlimit="10"/>
<path d="M236.38,431.64L244.22,431.64L240.30,439.35Z" fill="#1f77b4" fill-opacity="0.8" stroke="#1f77b4" stroke-opacity="0.8" stroke-width="1.39" stroke-linejoin="miter" stroke-miterlimit="10"/>
<path d="M269.98,412.84L277.82,412.84L273.90,420.55Z" fill="#1f77b4" fill-opacity="0.8" stroke="#1f77b4" stroke-opacity="0.8" stroke-width="1.39" stroke-linejoin="miter" stroke-miterlimit="10"/>
<path d="M266.18,417.54L274.02,417.54L270.10,425.25Z" fill="#1f77b4" fill-opacity="0.8" stroke="#1f77b4" stroke-opacity="0.8" stroke-width="1.39" stroke-linejoin="miter" stroke-miterlimit="10"/>
<path d="M310.48,410.44L318.32,410.44L314.40,418.15Z" fill="#1f77b4" fill-opacity="0.8" stroke="#1f77b4" stroke-opacity="0.8" stroke-width="1.39" stroke-linejoin="miter" stroke-miterlimit="10"/>
<path d="M339.18,416.74L347.02,416.74L343.10,424.45Z" fill="#1f77b4" fill-opacity="0.8" stroke="#1f77b4" stroke-opacity="0.8" stroke-width="1.39" stroke-linejoin="miter" stroke-miterlimit="10"/>
<path d="M354.58,418.64L362.42,418.64L358.50,426.35Z" fill="#1f77b4" fill-opacity="0.8" stroke="#1f77b4" stroke-opacity="0.8" stroke-width="1.39" stroke-linejoin="miter" stroke-miterlimit="10"/>
<path d="M318.48,428.64L326.32,428.64L322.40,436.35Z" fill="#1f77b4" fill-opacity="0.8" stroke="#1f77b4" stroke-opacity="0.8" stroke-width="1.39" stroke-linejoin="miter" stroke-miterlimit="10"/>
<path d="M325.08,429.44L332.92,429.44L329.00,437.15Z" fill="#1f77b4" fill-opacity="0.8" stroke="#1f77b4" stroke-opacity="0.8" stroke-width="1.39" stroke-linejoin="miter" stroke-miterlimit="10"/>
<path d="M321.78,433.64L329.62,433.64L325.70,441.35Z" fill="#1f77b4" fill-opacity="0.8" stroke="#1f77b4" stroke-opacity="0.8" stroke-width="1.39" stroke-linejoin="miter" stroke-miterlimit="10"/>
<path d="M332.58,435.74L340.42,435.74L336.50,443.45Z" fill="#1f77b4" fill-opacity="0.8" stroke="#1f77b4" stroke-opacity="0.8" stroke-width="1.39" stroke-linejoin="miter" stroke-miterlimit="10"/>
<path d="M346.28,436.44L354.12,436.44L350.20,444.15Z" fill="#1f77b4" fill-opacity="0.8" stroke="#1f77b4" stroke-opacity="0.8" stroke-width="1.39" stroke-linejoin="miter" stroke-miterlimit="10"/>
<path d="M362.38,447.74L370.22,447.74L366.30,455.45Z" fill="#1f77b4" fill-opacity="0.8" stroke="#1f77b4" stroke-opacity="0.8" stroke-width="1.39" stroke-linejoin="miter" stroke-miterlimit="10"/>
<path d="M292.38,454.34L300.22,454.34L296.30,462.05Z" fill="#1f77b4" fill-opacity="0.8" stroke="#1f77b4" stroke-opacity="0.8" stroke-width="1.39" stroke-linejoin="miter" stroke-miterlimit="10"/>
<path d="M305.48,457.34L313.32,457.34L309.40,465.05Z" fill="#1f77b4" fill-opacity="0.8" stroke="#1f77b4" stroke-opacity="0.8" stroke-width="1.39" stroke-linejoin="miter" stroke-miterlimit="10"/>
<path d="M731.38,439.04L739.22,439.04L735.30,446.75Z" fill="#1f77b4" fill-opacity="0.8" stroke="#1f77b4" stroke-opacity="0.8" stroke-width="1.39" stroke-linejoin="miter" stroke-miterlimit="10"/>
<path d="M735.48,445.94L743.32,445.94L739.40,453.65Z" fill="#1f77b4" fill-opacity="0.8" stroke="#1f77b4" stroke-opacity="0.8" stroke-width="1.39" stroke-linejoin="miter" stroke-miterlimit="10"/>
<path d="M1201.68,417.84L1209.52,417.84L1205.60,425.55Z" fill="#1f77b4" fill-opacity="0.8" stroke="#1f77b4" stroke-opacity="0.8" stroke-width="1.39" stroke-linejoin="miter" stroke-miterlimit="10"/>
<path d="M1209.28,421.44L1217.12,421.44L1213.20,429.15Z" fill="#1f77b4" fill-opacity="0.8" stroke="#1f77b4" stroke-opacity="0.8" stroke-width="1.39" stroke-linejoin="miter" stroke-miterlimit="10"/>
<path d="M1218.38,428.44L1226.22,428.44L1222.30,436.15Z" fill="#1f77b4" fill-opacity="0.8" stroke="#1f77b4" stroke-opacity="0.8" stroke-width="1.39" stroke-linejoin="miter" stroke-miterlimit="10"/>
<path d="M1249.38,405.44L1257.22,405.44L1253.30,413.15Z" fill="#1f77b4" fill-opacity="0.8" stroke="#1f77b4" stroke-opacity="0.8" stroke-width="1.39" stroke-linejoin="miter" stroke-miterlimit="10"/>
<path d="M1243.18,419.14L1251.02,419.14L1247.10,426.85Z" fill="#1f77b4" fill-opacity="0.8" stroke="#1f77b4" stroke-opacity="0.8" stroke-width="1.39" stroke-linejoin="miter" stroke-miterlimit="10"/>
<path d="M1266.48,427.24L1274.32,427.24L1270.40,434.95Z" fill="#1f77b4" fill-opacity="0.8" stroke="#1f77b4" stroke-opacity="0.8" stroke-width="1.39" stroke-linejoin="miter" stroke-miterlimit="10"/>
<path d="M1227.38,437.74L1235.22,437.74L1231.30,445.45Z" fill="#1f77b4" fill-opacity="0.8" stroke="#1f77b4" stroke-opacity="0.8" stroke-width="1.39" stroke-linejoin="miter" stroke-miterlimit="10"/>
<path d="M1237.38,453.84L1245.22,453.84L1241.30,461.55Z" fill="#1f77b4" fill-opacity="0.8" stroke="#1f77b4" stroke-opacity="0.8" stroke-width="1.39" stroke-linejoin="miter" stroke-miterlimit="10"/>
<path d="M1260.28,441.94L1268.12,441.94L1264.20,449.65Z" fill="#1f77b4" fill-opacity="0.8" stroke="#1f77b4" stroke-opacity="0.8" stroke-width="1.39" stroke-linejoin="miter" stroke-miterlimit="10"/>
<path d="M1254.68,469.74L1262.52,469.74L1258.60,477.45Z" fill="#1f77b4" fill-opacity="0.8" stroke="#1f77b4" stroke-opacity="0.8" stroke-width="1.39" stroke-linejoin="miter" stroke-miterlimit="10"/>
<path d="M1275.78,488.94L1283.62,488.94L1279.70,496.65Z" fill="#1f77b4" fill-opacity="0.8" stroke="#1f77b4" stroke-opacity="0.8" stroke-width="1.39" stroke-linejoin="miter" stroke-miterlimit="10"/>
<path d="M1214.38,460.64L1222.22,460.64L1218.30,468.35Z" fill="#1f77b4" fill-opacity="0.8" stroke="#1f77b4" stroke-opacity="0.8" stroke-width="1.39" stroke-linejoin="miter" stroke-miterlimit="10"/>
<path d="M1206.08,466.84L1213.92,466.84L1210.00,474.55Z" fill="#1f77b4" fill-opacity="0.8" stroke="#1f77b4" stroke-opacity="0.8" stroke-width="1.39" stroke-linejoin="miter" stroke-miterlimit="10"/>
<path d="M371.38,431.54L379.22,431.54L375.30,439.25Z" fill="#1f77b4" fill-opacity="0.8" stroke="#1f77b4" stroke-opacity="0.8" stroke-width="1.39" stroke-linejoin="miter" stroke-miterlimit="10"/>
<path d="M376.58,428.84L384.42,428.84L380.50,436.55Z" fill="#1f77b4" fill-opacity="0.8" stroke="#1f77b4" stroke-opacity="0.8" stroke-width="1.39" stroke-linejoin="miter" stroke-miterlimit="10"/>
</g>
<g id="s_u">
<g stroke="#bfbf00" stroke-opacity="0.8" fill="none"><line x1="192.7" y1="219.2" x2="192.7" y2="233.2" stroke-width="2.0"/><line x1="188.5" y1="219.2" x2="196.9" y2="219.2" stroke-width="1.4"/><line x1="188.5" y1="233.2" x2="196.9" y2="233.2" stroke-width="1.4"/></g>
<g stroke="#bfbf00" stroke-opacity="0.8" fill="none"><line x1="196.3" y1="226.8" x2="196.3" y2="239.4" stroke-width="2.0"/><line x1="192.1" y1="226.8" x2="200.5" y2="226.8" stroke-width="1.4"/><line x1="192.1" y1="239.4" x2="200.5" y2="239.4" stroke-width="1.4"/></g>
<g stroke="#bfbf00" stroke-opacity="0.8" fill="none"><line x1="199.3" y1="207.9" x2="199.3" y2="235.9" stroke-width="2.0"/><line x1="195.1" y1="207.9" x2="203.5" y2="207.9" stroke-width="1.4"/><line x1="195.1" y1="235.9" x2="203.5" y2="235.9" stroke-width="1.4"/></g>
<g stroke="#bfbf00" stroke-opacity="0.8" fill="none"><line x1="210.2" y1="264.6" x2="210.2" y2="289.4" stroke-width="2.0"/><line x1="206.0" y1="264.6" x2="214.4" y2="264.6" stroke-width="1.4"/><line x1="206.0" y1="289.4" x2="214.4" y2="289.4" stroke-width="1.4"/></g>
<g stroke="#bfbf00" stroke-opacity="0.8" fill="none"><line x1="210.8" y1="268.6" x2="210.8" y2="289.4" stroke-width="2.0"/><line x1="206.6" y1="268.6" x2="215.0" y2="268.6" stroke-width="1.4"/><line x1="206.6" y1="289.4" x2="215.0" y2="289.4" stroke-width="1.4"/></g>
<g stroke="#bfbf00" stroke-opacity="0.8" fill="none"><line x1="217.1" y1="304.0" x2="217.1" y2="334.0" stroke-width="2.0"/><line x1="212.9" y1="304.0" x2="221.3" y2="304.0" stroke-width="1.4"/><line x1="212.9" y1="334.0" x2="221.3" y2="334.0" stroke-width="1.4"/></g>
<g stroke="#bfbf00" stroke-opacity="0.8" fill="none"><line x1="226.2" y1="310.1" x2="226.2" y2="332.7" stroke-width="2.0"/><line x1="222.0" y1="310.1" x2="230.4" y2="310.1" stroke-width="1.4"/><line x1="222.0" y1="332.7" x2="230.4" y2="332.7" stroke-width="1.4"/></g>
<g stroke="#bfbf00" stroke-opacity="0.8" fill="none"><line x1="229.5" y1="342.3" x2="229.5" y2="376.3" stroke-width="2.0"/><line x1="225.3" y1="342.3" x2="233.7" y2="342.3" stroke-width="1.4"/><line x1="225.3" y1="376.3" x2="233.7" y2="376.3" stroke-width="1.4"/></g>
<g stroke="#bfbf00" stroke-opacity="0.8" fill="none"><line x1="240.3" y1="350.0" x2="240.3" y2="386.8" stroke-width="2.0"/><line x1="236.1" y1="350.0" x2="244.5" y2="350.0" stroke-width="1.4"/><line x1="236.1" y1="386.8" x2="244.5" y2="386.8" stroke-width="1.4"/></g>
<g stroke="#bfbf00" stroke-opacity="0.8" fill="none"><line x1="232.8" y1="349.4" x2="232.8" y2="413.4" stroke-width="2.0"/><line x1="228.6" y1="349.4" x2="237.0" y2="349.4" stroke-width="1.4"/><line x1="228.6" y1="413.4" x2="237.0" y2="413.4" stroke-width="1.4"/></g>
<g stroke="#bfbf00" stroke-opacity="0.8" fill="none"><line x1="234.1" y1="368.7" x2="234.1" y2="400.7" stroke-width="2.0"/><line x1="229.9" y1="368.7" x2="238.3" y2="368.7" stroke-width="1.4"/><line x1="229.9" y1="400.7" x2="238.3" y2="400.7" stroke-width="1.4"/></g>
<g stroke="#bfbf00" stroke-opacity="0.8" fill="none"><line x1="247.4" y1="424.5" x2="247.4" y2="496.1" stroke-width="2.0"/><line x1="243.2" y1="424.5" x2="251.6" y2="424.5" stroke-width="1.4"/><line x1="243.2" y1="496.1" x2="251.6" y2="496.1" stroke-width="1.4"/></g>
<g stroke="#bfbf00" stroke-opacity="0.8" fill="none"><line x1="1226.3" y1="323.6" x2="1226.3" y2="352.2" stroke-width="2.0"/><line x1="1222.1" y1="323.6" x2="1230.5" y2="323.6" stroke-width="1.4"/><line x1="1222.1" y1="352.2" x2="1230.5" y2="352.2" stroke-width="1.4"/></g>
<g stroke="#bfbf00" stroke-opacity="0.8" fill="none"><line x1="1222.2" y1="340.3" x2="1222.2" y2="368.1" stroke-width="2.0"/><line x1="1218.0" y1="340.3" x2="1226.4" y2="340.3" stroke-width="1.4"/><line x1="1218.0" y1="368.1" x2="1226.4" y2="368.1" stroke-width="1.4"/></g>
<g stroke="#bfbf00" stroke-opacity="0.8" fill="none"><line x1="1231.1" y1="348.6" x2="1231.1" y2="372.2" stroke-width="2.0"/><line x1="1226.9" y1="348.6" x2="1235.3" y2="348.6" stroke-width="1.4"/><line x1="1226.9" y1="372.2" x2="1235.3" y2="372.2" stroke-width="1.4"/></g>
<g stroke="#bfbf00" stroke-opacity="0.8" fill="none"><line x1="1244.6" y1="358.4" x2="1244.6" y2="390.4" stroke-width="2.0"/><line x1="1240.4" y1="358.4" x2="1248.8" y2="358.4" stroke-width="1.4"/><line x1="1240.4" y1="390.4" x2="1248.8" y2="390.4" stroke-width="1.4"/></g>
<g stroke="#bfbf00" stroke-opacity="0.8" fill="none"><line x1="1241.2" y1="379.9" x2="1241.2" y2="410.7" stroke-width="2.0"/><line x1="1237.0" y1="379.9" x2="1245.4" y2="379.9" stroke-width="1.4"/><line x1="1237.0" y1="410.7" x2="1245.4" y2="410.7" stroke-width="1.4"/></g>
<g stroke="#bfbf00" stroke-opacity="0.8" fill="none"><line x1="1265.5" y1="384.5" x2="1265.5" y2="414.3" stroke-width="2.0"/><line x1="1261.3" y1="384.5" x2="1269.7" y2="384.5" stroke-width="1.4"/><line x1="1261.3" y1="414.3" x2="1269.7" y2="414.3" stroke-width="1.4"/></g>
<g stroke="#bfbf00" stroke-opacity="0.8" fill="none"><line x1="1218.3" y1="380.8" x2="1218.3" y2="409.8" stroke-width="2.0"/><line x1="1214.1" y1="380.8" x2="1222.5" y2="380.8" stroke-width="1.4"/><line x1="1214.1" y1="409.8" x2="1222.5" y2="409.8" stroke-width="1.4"/></g>
<g stroke="#bfbf00" stroke-opacity="0.8" fill="none"><line x1="1212.1" y1="387.6" x2="1212.1" y2="431.6" stroke-width="2.0"/><line x1="1207.9" y1="387.6" x2="1216.3" y2="387.6" stroke-width="1.4"/><line x1="1207.9" y1="431.6" x2="1216.3" y2="431.6" stroke-width="1.4"/></g>
<g stroke="#bfbf00" stroke-opacity="0.8" fill="none"><line x1="1253.3" y1="395.3" x2="1253.3" y2="447.3" stroke-width="2.0"/><line x1="1249.1" y1="395.3" x2="1257.5" y2="395.3" stroke-width="1.4"/><line x1="1249.1" y1="447.3" x2="1257.5" y2="447.3" stroke-width="1.4"/></g>
<g stroke="#bfbf00" stroke-opacity="0.8" fill="none"><line x1="1258.3" y1="408.3" x2="1258.3" y2="442.3" stroke-width="2.0"/><line x1="1254.1" y1="408.3" x2="1262.5" y2="408.3" stroke-width="1.4"/><line x1="1254.1" y1="442.3" x2="1262.5" y2="442.3" stroke-width="1.4"/></g>
<g stroke="#bfbf00" stroke-opacity="0.8" fill="none"><line x1="1248.7" y1="407.7" x2="1248.7" y2="457.7" stroke-width="2.0"/><line x1="1244.5" y1="407.7" x2="1252.9" y2="407.7" stroke-width="1.4"/><line x1="1244.5" y1="457.7" x2="1252.9" y2="457.7" stroke-width="1.4"/></g>
<g stroke="#bfbf00" stroke-opacity="0.8" fill="none"><line x1="1209.9" y1="419.9" x2="1209.9" y2="459.9" stroke-width="2.0"/><line x1="1205.7" y1="419.9" x2="1214.1" y2="419.9" stroke-width="1.4"/><line x1="1205.7" y1="459.9" x2="1214.1" y2="459.9" stroke-width="1.4"/></g>
<g stroke="#bfbf00" stroke-opacity="0.8" fill="none"><line x1="1270.4" y1="441.2" x2="1270.4" y2="505.2" stroke-width="2.0"/><line x1="1266.2" y1="441.2" x2="1274.6" y2="441.2" stroke-width="1.4"/><line x1="1266.2" y1="505.2" x2="1274.6" y2="505.2" stroke-width="1.4"/></g>
<circle cx="192.7" cy="226.2" r="3.95" fill="#bfbf00" fill-opacity="0.8" stroke="#bfbf00" stroke-opacity="0.8" stroke-width="1.39"/>
<circle cx="196.3" cy="233.1" r="3.95" fill="#bfbf00" fill-opacity="0.8" stroke="#bfbf00" stroke-opacity="0.8" stroke-width="1.39"/>
<circle cx="199.3" cy="221.9" r="3.95" fill="#bfbf00" fill-opacity="0.8" stroke="#bfbf00" stroke-opacity="0.8" stroke-width="1.39"/>
<circle cx="210.2" cy="277.0" r="3.95" fill="#bfbf00" fill-opacity="0.8" stroke="#bfbf00" stroke-opacity="0.8" stroke-width="1.39"/>
<circle cx="210.8" cy="279.0" r="3.95" fill="#bfbf00" fill-opacity="0.8" stroke="#bfbf00" stroke-opacity="0.8" stroke-width="1.39"/>
<circle cx="217.1" cy="319.0" r="3.95" fill="#bfbf00" fill-opacity="0.8" stroke="#bfbf00" stroke-opacity="0.8" stroke-width="1.39"/>
<circle cx="226.2" cy="321.4" r="3.95" fill="#bfbf00" fill-opacity="0.8" stroke="#bfbf00" stroke-opacity="0.8" stroke-width="1.39"/>
<circle cx="229.5" cy="359.3" r="3.95" fill="#bfbf00" fill-opacity="0.8" stroke="#bfbf00" stroke-opacity="0.8" stroke-width="1.39"/>
<circle cx="240.3" cy="368.4" r="3.95" fill="#bfbf00" fill-opacity="0.8" stroke="#bfbf00" stroke-opacity="0.8" stroke-width="1.39"/>
<circle cx="232.8" cy="381.4" r="3.95" fill="#bfbf00" fill-opacity="0.8" stroke="#bfbf00" stroke-opacity="0.8" stroke-width="1.39"/>
<circle cx="234.1" cy="384.7" r="3.95" fill="#bfbf00" fill-opacity="0.8" stroke="#bfbf00" stroke-opacity="0.8" stroke-width="1.39"/>
<circle cx="247.4" cy="460.3" r="3.95" fill="#bfbf00" fill-opacity="0.8" stroke="#bfbf00" stroke-opacity="0.8" stroke-width="1.39"/>
<circle cx="1226.3" cy="337.9" r="3.95" fill="#bfbf00" fill-opacity="0.8" stroke="#bfbf00" stroke-opacity="0.8" stroke-width="1.39"/>
<circle cx="1222.2" cy="354.2" r="3.95" fill="#bfbf00" fill-opacity="0.8" stroke="#bfbf00" stroke-opacity="0.8" stroke-width="1.39"/>
<circle cx="1231.1" cy="360.4" r="3.95" fill="#bfbf00" fill-opacity="0.8" stroke="#bfbf00" stroke-opacity="0.8" stroke-width="1.39"/>
<circle cx="1244.6" cy="374.4" r="3.95" fill="#bfbf00" fill-opacity="0.8" stroke="#bfbf00" stroke-opacity="0.8" stroke-width="1.39"/>
<circle cx="1241.2" cy="395.3" r="3.95" fill="#bfbf00" fill-opacity="0.8" stroke="#bfbf00" stroke-opacity="0.8" stroke-width="1.39"/>
<circle cx="1265.5" cy="399.4" r="3.95" fill="#bfbf00" fill-opacity="0.8" stroke="#bfbf00" stroke-opacity="0.8" stroke-width="1.39"/>
<circle cx="1218.3" cy="395.3" r="3.95" fill="#bfbf00" fill-opacity="0.8" stroke="#bfbf00" stroke-opacity="0.8" stroke-width="1.39"/>
<circle cx="1212.1" cy="409.6" r="3.95" fill="#bfbf00" fill-opacity="0.8" stroke="#bfbf00" stroke-opacity="0.8" stroke-width="1.39"/>
<circle cx="1253.3" cy="421.3" r="3.95" fill="#bfbf00" fill-opacity="0.8" stroke="#bfbf00" stroke-opacity="0.8" stroke-width="1.39"/>
<circle cx="1258.3" cy="425.3" r="3.95" fill="#bfbf00" fill-opacity="0.8" stroke="#bfbf00" stroke-opacity="0.8" stroke-width="1.39"/>
<circle cx="1248.7" cy="432.7" r="3.95" fill="#bfbf00" fill-opacity="0.8" stroke="#bfbf00" stroke-opacity="0.8" stroke-width="1.39"/>
<circle cx="1209.9" cy="439.9" r="3.95" fill="#bfbf00" fill-opacity="0.8" stroke="#bfbf00" stroke-opacity="0.8" stroke-width="1.39"/>
<circle cx="1270.4" cy="473.2" r="3.95" fill="#bfbf00" fill-opacity="0.8" stroke="#bfbf00" stroke-opacity="0.8" stroke-width="1.39"/>
<path d="M341.38,392.64L349.22,392.64L345.30,400.35Z" fill="#bfbf00" fill-opacity="0.8" stroke="#bfbf00" stroke-opacity="0.8" stroke-width="1.39" stroke-linejoin="miter" stroke-miterlimit="10"/>
<path d="M346.28,428.64L354.12,428.64L350.20,436.35Z" fill="#bfbf00" fill-opacity="0.8" stroke="#bfbf00" stroke-opacity="0.8" stroke-width="1.39" stroke-linejoin="miter" stroke-miterlimit="10"/>
<path d="M269.48,498.94L277.32,498.94L273.40,506.65Z" fill="#bfbf00" fill-opacity="0.8" stroke="#bfbf00" stroke-opacity="0.8" stroke-width="1.39" stroke-linejoin="miter" stroke-miterlimit="10"/>
<path d="M266.18,515.55L274.02,515.55L270.10,523.25Z" fill="#bfbf00" fill-opacity="0.8" stroke="#bfbf00" stroke-opacity="0.8" stroke-width="1.39" stroke-linejoin="miter" stroke-miterlimit="10"/>
<path d="M318.48,508.05L326.32,508.05L322.40,515.75Z" fill="#bfbf00" fill-opacity="0.8" stroke="#bfbf00" stroke-opacity="0.8" stroke-width="1.39" stroke-linejoin="miter" stroke-miterlimit="10"/>
<path d="M339.38,503.54L347.22,503.54L343.30,511.25Z" fill="#bfbf00" fill-opacity="0.8" stroke="#bfbf00" stroke-opacity="0.8" stroke-width="1.39" stroke-linejoin="miter" stroke-miterlimit="10"/>
<path d="M354.58,518.95L362.42,518.95L358.50,526.65Z" fill="#bfbf00" fill-opacity="0.8" stroke="#bfbf00" stroke-opacity="0.8" stroke-width="1.39" stroke-linejoin="miter" stroke-miterlimit="10"/>
<path d="M325.08,514.64L332.92,514.64L329.00,522.35Z" fill="#bfbf00" fill-opacity="0.8" stroke="#bfbf00" stroke-opacity="0.8" stroke-width="1.39" stroke-linejoin="miter" stroke-miterlimit="10"/>
<path d="M332.38,528.75L340.22,528.75L336.30,536.45Z" fill="#bfbf00" fill-opacity="0.8" stroke="#bfbf00" stroke-opacity="0.8" stroke-width="1.39" stroke-linejoin="miter" stroke-miterlimit="10"/>
<path d="M323.38,527.95L331.22,527.95L327.30,535.65Z" fill="#bfbf00" fill-opacity="0.8" stroke="#bfbf00" stroke-opacity="0.8" stroke-width="1.39" stroke-linejoin="miter" stroke-miterlimit="10"/>
<path d="M362.48,539.55L370.32,539.55L366.40,547.25Z" fill="#bfbf00" fill-opacity="0.8" stroke="#bfbf00" stroke-opacity="0.8" stroke-width="1.39" stroke-linejoin="miter" stroke-miterlimit="10"/>
<path d="M292.38,559.45L300.22,559.45L296.30,567.15Z" fill="#bfbf00" fill-opacity="0.8" stroke="#bfbf00" stroke-opacity="0.8" stroke-width="1.39" stroke-linejoin="miter" stroke-miterlimit="10"/>
<path d="M305.48,566.95L313.32,566.95L309.40,574.65Z" fill="#bfbf00" fill-opacity="0.8" stroke="#bfbf00" stroke-opacity="0.8" stroke-width="1.39" stroke-linejoin="miter" stroke-miterlimit="10"/>
<path d="M376.48,509.64L384.32,509.64L380.40,517.35Z" fill="#bfbf00" fill-opacity="0.8" stroke="#bfbf00" stroke-opacity="0.8" stroke-width="1.39" stroke-linejoin="miter" stroke-miterlimit="10"/>
<path d="M371.38,523.85L379.22,523.85L375.30,531.55Z" fill="#bfbf00" fill-opacity="0.8" stroke="#bfbf00" stroke-opacity="0.8" stroke-width="1.39" stroke-linejoin="miter" stroke-miterlimit="10"/>
<path d="M475.68,447.34L483.52,447.34L479.60,455.05Z" fill="#bfbf00" fill-opacity="0.8" stroke="#bfbf00" stroke-opacity="0.8" stroke-width="1.39" stroke-linejoin="miter" stroke-miterlimit="10"/>
<path d="M480.58,471.44L488.42,471.44L484.50,479.15Z" fill="#bfbf00" fill-opacity="0.8" stroke="#bfbf00" stroke-opacity="0.8" stroke-width="1.39" stroke-linejoin="miter" stroke-miterlimit="10"/>
<path d="M428.68,522.05L436.52,522.05L432.60,529.75Z" fill="#bfbf00" fill-opacity="0.8" stroke="#bfbf00" stroke-opacity="0.8" stroke-width="1.39" stroke-linejoin="miter" stroke-miterlimit="10"/>
<path d="M504.68,514.05L512.52,514.05L508.60,521.75Z" fill="#bfbf00" fill-opacity="0.8" stroke="#bfbf00" stroke-opacity="0.8" stroke-width="1.39" stroke-linejoin="miter" stroke-miterlimit="10"/>
<path d="M519.58,519.95L527.42,519.95L523.50,527.65Z" fill="#bfbf00" fill-opacity="0.8" stroke="#bfbf00" stroke-opacity="0.8" stroke-width="1.39" stroke-linejoin="miter" stroke-miterlimit="10"/>
<path d="M511.58,528.14L519.42,528.14L515.50,535.85Z" fill="#bfbf00" fill-opacity="0.8" stroke="#bfbf00" stroke-opacity="0.8" stroke-width="1.39" stroke-linejoin="miter" stroke-miterlimit="10"/>
<path d="M490.58,531.14L498.42,531.14L494.50,538.85Z" fill="#bfbf00" fill-opacity="0.8" stroke="#bfbf00" stroke-opacity="0.8" stroke-width="1.39" stroke-linejoin="miter" stroke-miterlimit="10"/>
<path d="M482.58,536.05L490.42,536.05L486.50,543.75Z" fill="#bfbf00" fill-opacity="0.8" stroke="#bfbf00" stroke-opacity="0.8" stroke-width="1.39" stroke-linejoin="miter" stroke-miterlimit="10"/>
<path d="M497.48,546.35L505.32,546.35L501.40,554.05Z" fill="#bfbf00" fill-opacity="0.8" stroke="#bfbf00" stroke-opacity="0.8" stroke-width="1.39" stroke-linejoin="miter" stroke-miterlimit="10"/>
<path d="M442.78,557.05L450.62,557.05L446.70,564.75Z" fill="#bfbf00" fill-opacity="0.8" stroke="#bfbf00" stroke-opacity="0.8" stroke-width="1.39" stroke-linejoin="miter" stroke-miterlimit="10"/>
<path d="M436.18,560.05L444.02,560.05L440.10,567.75Z" fill="#bfbf00" fill-opacity="0.8" stroke="#bfbf00" stroke-opacity="0.8" stroke-width="1.39" stroke-linejoin="miter" stroke-miterlimit="10"/>
<path d="M731.48,547.25L739.32,547.25L735.40,554.95Z" fill="#bfbf00" fill-opacity="0.8" stroke="#bfbf00" stroke-opacity="0.8" stroke-width="1.39" stroke-linejoin="miter" stroke-miterlimit="10"/>
<path d="M735.88,549.14L743.72,549.14L739.80,556.85Z" fill="#bfbf00" fill-opacity="0.8" stroke="#bfbf00" stroke-opacity="0.8" stroke-width="1.39" stroke-linejoin="miter" stroke-miterlimit="10"/>
<path d="M1201.48,508.74L1209.32,508.74L1205.40,516.45Z" fill="#bfbf00" fill-opacity="0.8" stroke="#bfbf00" stroke-opacity="0.8" stroke-width="1.39" stroke-linejoin="miter" stroke-miterlimit="10"/>
<path d="M1259.48,544.95L1267.32,544.95L1263.40,552.65Z" fill="#bfbf00" fill-opacity="0.8" stroke="#bfbf00" stroke-opacity="0.8" stroke-width="1.39" stroke-linejoin="miter" stroke-miterlimit="10"/>
<path d="M1275.38,586.05L1283.22,586.05L1279.30,593.75Z" fill="#bfbf00" fill-opacity="0.8" stroke="#bfbf00" stroke-opacity="0.8" stroke-width="1.39" stroke-linejoin="miter" stroke-miterlimit="10"/>
</g>
<g id="s_uvw1">
<g stroke="#dc143c" stroke-opacity="0.8" fill="none"><line x1="192.0" y1="172.1" x2="192.0" y2="182.7" stroke-width="2.0"/><line x1="187.8" y1="172.1" x2="196.2" y2="172.1" stroke-width="1.4"/><line x1="187.8" y1="182.7" x2="196.2" y2="182.7" stroke-width="1.4"/></g>
<g stroke="#dc143c" stroke-opacity="0.8" fill="none"><line x1="198.3" y1="174.9" x2="198.3" y2="190.5" stroke-width="2.0"/><line x1="194.1" y1="174.9" x2="202.5" y2="174.9" stroke-width="1.4"/><line x1="194.1" y1="190.5" x2="202.5" y2="190.5" stroke-width="1.4"/></g>
<g stroke="#dc143c" stroke-opacity="0.8" fill="none"><line x1="210.1" y1="219.7" x2="210.1" y2="233.3" stroke-width="2.0"/><line x1="205.9" y1="219.7" x2="214.3" y2="219.7" stroke-width="1.4"/><line x1="205.9" y1="233.3" x2="214.3" y2="233.3" stroke-width="1.4"/></g>
<g stroke="#dc143c" stroke-opacity="0.8" fill="none"><line x1="217.4" y1="240.0" x2="217.4" y2="257.2" stroke-width="2.0"/><line x1="213.2" y1="240.0" x2="221.6" y2="240.0" stroke-width="1.4"/><line x1="213.2" y1="257.2" x2="221.6" y2="257.2" stroke-width="1.4"/></g>
<g stroke="#dc143c" stroke-opacity="0.8" fill="none"><line x1="226.2" y1="277.7" x2="226.2" y2="291.5" stroke-width="2.0"/><line x1="222.0" y1="277.7" x2="230.4" y2="277.7" stroke-width="1.4"/><line x1="222.0" y1="291.5" x2="230.4" y2="291.5" stroke-width="1.4"/></g>
<g stroke="#dc143c" stroke-opacity="0.8" fill="none"><line x1="229.5" y1="291.8" x2="229.5" y2="307.8" stroke-width="2.0"/><line x1="225.3" y1="291.8" x2="233.7" y2="291.8" stroke-width="1.4"/><line x1="225.3" y1="307.8" x2="233.7" y2="307.8" stroke-width="1.4"/></g>
<g stroke="#dc143c" stroke-opacity="0.8" fill="none"><line x1="233.6" y1="290.0" x2="233.6" y2="314.0" stroke-width="2.0"/><line x1="229.4" y1="290.0" x2="237.8" y2="290.0" stroke-width="1.4"/><line x1="229.4" y1="314.0" x2="237.8" y2="314.0" stroke-width="1.4"/></g>
<g stroke="#dc143c" stroke-opacity="0.8" fill="none"><line x1="240.3" y1="325.2" x2="240.3" y2="341.2" stroke-width="2.0"/><line x1="236.1" y1="325.2" x2="244.5" y2="325.2" stroke-width="1.4"/><line x1="236.1" y1="341.2" x2="244.5" y2="341.2" stroke-width="1.4"/></g>
<g stroke="#dc143c" stroke-opacity="0.8" fill="none"><line x1="247.4" y1="368.2" x2="247.4" y2="392.2" stroke-width="2.0"/><line x1="243.2" y1="368.2" x2="251.6" y2="368.2" stroke-width="1.4"/><line x1="243.2" y1="392.2" x2="251.6" y2="392.2" stroke-width="1.4"/></g>
<g stroke="#dc143c" stroke-opacity="0.8" fill="none"><line x1="259.4" y1="420.9" x2="259.4" y2="477.9" stroke-width="2.0"/><line x1="255.2" y1="420.9" x2="263.6" y2="420.9" stroke-width="1.4"/><line x1="255.2" y1="477.9" x2="263.6" y2="477.9" stroke-width="1.4"/></g>
<g stroke="#dc143c" stroke-opacity="0.8" fill="none"><line x1="270.1" y1="422.3" x2="270.1" y2="457.5" stroke-width="2.0"/><line x1="265.9" y1="422.3" x2="274.3" y2="422.3" stroke-width="1.4"/><line x1="265.9" y1="457.5" x2="274.3" y2="457.5" stroke-width="1.4"/></g>
<g stroke="#dc143c" stroke-opacity="0.8" fill="none"><line x1="273.4" y1="447.6" x2="273.4" y2="501.6" stroke-width="2.0"/><line x1="269.2" y1="447.6" x2="277.6" y2="447.6" stroke-width="1.4"/><line x1="269.2" y1="501.6" x2="277.6" y2="501.6" stroke-width="1.4"/></g>
<g stroke="#dc143c" stroke-opacity="0.8" fill="none"><line x1="296.3" y1="465.5" x2="296.3" y2="501.5" stroke-width="2.0"/><line x1="292.1" y1="465.5" x2="300.5" y2="465.5" stroke-width="1.4"/><line x1="292.1" y1="501.5" x2="300.5" y2="501.5" stroke-width="1.4"/></g>
<g stroke="#dc143c" stroke-opacity="0.8" fill="none"><line x1="309.4" y1="510.3" x2="309.4" y2="558.3" stroke-width="2.0"/><line x1="305.2" y1="510.3" x2="313.6" y2="510.3" stroke-width="1.4"/><line x1="305.2" y1="558.3" x2="313.6" y2="558.3" stroke-width="1.4"/></g>
<g stroke="#dc143c" stroke-opacity="0.8" fill="none"><line x1="322.4" y1="550.6" x2="322.4" y2="586.6" stroke-width="2.0"/><line x1="318.2" y1="550.6" x2="326.6" y2="550.6" stroke-width="1.4"/><line x1="318.2" y1="586.6" x2="326.6" y2="586.6" stroke-width="1.4"/></g>
<g stroke="#dc143c" stroke-opacity="0.8" fill="none"><line x1="325.7" y1="551.1" x2="325.7" y2="591.1" stroke-width="2.0"/><line x1="321.5" y1="551.1" x2="329.9" y2="551.1" stroke-width="1.4"/><line x1="321.5" y1="591.1" x2="329.9" y2="591.1" stroke-width="1.4"/></g>
<g stroke="#dc143c" stroke-opacity="0.8" fill="none"><line x1="314.1" y1="567.5" x2="314.1" y2="651.5" stroke-width="2.0"/><line x1="309.9" y1="567.5" x2="318.3" y2="567.5" stroke-width="1.4"/><line x1="309.9" y1="651.5" x2="318.3" y2="651.5" stroke-width="1.4"/></g>
<g stroke="#dc143c" stroke-opacity="0.8" fill="none"><line x1="329.0" y1="568.7" x2="329.0" y2="648.7" stroke-width="2.0"/><line x1="324.8" y1="568.7" x2="333.2" y2="568.7" stroke-width="1.4"/><line x1="324.8" y1="648.7" x2="333.2" y2="648.7" stroke-width="1.4"/></g>
<g stroke="#dc143c" stroke-opacity="0.8" fill="none"><line x1="358.5" y1="566.2" x2="358.5" y2="644.2" stroke-width="2.0"/><line x1="354.3" y1="566.2" x2="362.7" y2="566.2" stroke-width="1.4"/><line x1="354.3" y1="644.2" x2="362.7" y2="644.2" stroke-width="1.4"/></g>
<g stroke="#dc143c" stroke-opacity="0.8" fill="none"><line x1="1226.5" y1="275.2" x2="1226.5" y2="289.2" stroke-width="2.0"/><line x1="1222.3" y1="275.2" x2="1230.7" y2="275.2" stroke-width="1.4"/><line x1="1222.3" y1="289.2" x2="1230.7" y2="289.2" stroke-width="1.4"/></g>
<g stroke="#dc143c" stroke-opacity="0.8" fill="none"><line x1="1231.5" y1="289.0" x2="1231.5" y2="304.0" stroke-width="2.0"/><line x1="1227.3" y1="289.0" x2="1235.7" y2="289.0" stroke-width="1.4"/><line x1="1227.3" y1="304.0" x2="1235.7" y2="304.0" stroke-width="1.4"/></g>
<g stroke="#dc143c" stroke-opacity="0.8" fill="none"><line x1="1222.2" y1="296.8" x2="1222.2" y2="312.4" stroke-width="2.0"/><line x1="1218.0" y1="296.8" x2="1226.4" y2="296.8" stroke-width="1.4"/><line x1="1218.0" y1="312.4" x2="1226.4" y2="312.4" stroke-width="1.4"/></g>
<g stroke="#dc143c" stroke-opacity="0.8" fill="none"><line x1="1218.5" y1="304.7" x2="1218.5" y2="319.5" stroke-width="2.0"/><line x1="1214.3" y1="304.7" x2="1222.7" y2="304.7" stroke-width="1.4"/><line x1="1214.3" y1="319.5" x2="1222.7" y2="319.5" stroke-width="1.4"/></g>
<g stroke="#dc143c" stroke-opacity="0.8" fill="none"><line x1="1213.5" y1="312.9" x2="1213.5" y2="332.5" stroke-width="2.0"/><line x1="1209.3" y1="312.9" x2="1217.7" y2="312.9" stroke-width="1.4"/><line x1="1209.3" y1="332.5" x2="1217.7" y2="332.5" stroke-width="1.4"/></g>
<g stroke="#dc143c" stroke-opacity="0.8" fill="none"><line x1="1241.2" y1="301.6" x2="1241.2" y2="315.2" stroke-width="2.0"/><line x1="1237.0" y1="301.6" x2="1245.4" y2="301.6" stroke-width="1.4"/><line x1="1237.0" y1="315.2" x2="1245.4" y2="315.2" stroke-width="1.4"/></g>
<g stroke="#dc143c" stroke-opacity="0.8" fill="none"><line x1="1248.7" y1="305.4" x2="1248.7" y2="323.2" stroke-width="2.0"/><line x1="1244.5" y1="305.4" x2="1252.9" y2="305.4" stroke-width="1.4"/><line x1="1244.5" y1="323.2" x2="1252.9" y2="323.2" stroke-width="1.4"/></g>
<g stroke="#dc143c" stroke-opacity="0.8" fill="none"><line x1="1244.6" y1="311.9" x2="1244.6" y2="329.1" stroke-width="2.0"/><line x1="1240.4" y1="311.9" x2="1248.8" y2="311.9" stroke-width="1.4"/><line x1="1240.4" y1="329.1" x2="1248.8" y2="329.1" stroke-width="1.4"/></g>
<g stroke="#dc143c" stroke-opacity="0.8" fill="none"><line x1="1211.0" y1="331.9" x2="1211.0" y2="347.9" stroke-width="2.0"/><line x1="1206.8" y1="331.9" x2="1215.2" y2="331.9" stroke-width="1.4"/><line x1="1206.8" y1="347.9" x2="1215.2" y2="347.9" stroke-width="1.4"/></g>
<g stroke="#dc143c" stroke-opacity="0.8" fill="none"><line x1="1209.4" y1="337.5" x2="1209.4" y2="353.5" stroke-width="2.0"/><line x1="1205.2" y1="337.5" x2="1213.6" y2="337.5" stroke-width="1.4"/><line x1="1205.2" y1="353.5" x2="1213.6" y2="353.5" stroke-width="1.4"/></g>
<g stroke="#dc143c" stroke-opacity="0.8" fill="none"><line x1="1205.4" y1="358.4" x2="1205.4" y2="382.4" stroke-width="2.0"/><line x1="1201.2" y1="358.4" x2="1209.6" y2="358.4" stroke-width="1.4"/><line x1="1201.2" y1="382.4" x2="1209.6" y2="382.4" stroke-width="1.4"/></g>
<g stroke="#dc143c" stroke-opacity="0.8" fill="none"><line x1="1253.3" y1="330.8" x2="1253.3" y2="351.6" stroke-width="2.0"/><line x1="1249.1" y1="330.8" x2="1257.5" y2="330.8" stroke-width="1.4"/><line x1="1249.1" y1="351.6" x2="1257.5" y2="351.6" stroke-width="1.4"/></g>
<g stroke="#dc143c" stroke-opacity="0.8" fill="none"><line x1="1258.3" y1="330.3" x2="1258.3" y2="346.3" stroke-width="2.0"/><line x1="1254.1" y1="330.3" x2="1262.5" y2="330.3" stroke-width="1.4"/><line x1="1254.1" y1="346.3" x2="1262.5" y2="346.3" stroke-width="1.4"/></g>
<g stroke="#dc143c" stroke-opacity="0.8" fill="none"><line x1="1270.4" y1="333.0" x2="1270.4" y2="353.8" stroke-width="2.0"/><line x1="1266.2" y1="333.0" x2="1274.6" y2="333.0" stroke-width="1.4"/><line x1="1266.2" y1="353.8" x2="1274.6" y2="353.8" stroke-width="1.4"/></g>
<g stroke="#dc143c" stroke-opacity="0.8" fill="none"><line x1="1265.3" y1="340.1" x2="1265.3" y2="358.5" stroke-width="2.0"/><line x1="1261.1" y1="340.1" x2="1269.5" y2="340.1" stroke-width="1.4"/><line x1="1261.1" y1="358.5" x2="1269.5" y2="358.5" stroke-width="1.4"/></g>
<g stroke="#dc143c" stroke-opacity="0.8" fill="none"><line x1="1279.3" y1="510.9" x2="1279.3" y2="550.1" stroke-width="2.0"/><line x1="1275.1" y1="510.9" x2="1283.5" y2="510.9" stroke-width="1.4"/><line x1="1275.1" y1="550.1" x2="1283.5" y2="550.1" stroke-width="1.4"/></g>
<circle cx="192.0" cy="177.4" r="3.95" fill="#dc143c" fill-opacity="0.8" stroke="#dc143c" stroke-opacity="0.8" stroke-width="1.39"/>
<circle cx="198.3" cy="182.7" r="3.95" fill="#dc143c" fill-opacity="0.8" stroke="#dc143c" stroke-opacity="0.8" stroke-width="1.39"/>
<circle cx="210.1" cy="226.5" r="3.95" fill="#dc143c" fill-opacity="0.8" stroke="#dc143c" stroke-opacity="0.8" stroke-width="1.39"/>
<circle cx="217.4" cy="248.6" r="3.95" fill="#dc143c" fill-opacity="0.8" stroke="#dc143c" stroke-opacity="0.8" stroke-width="1.39"/>
<circle cx="226.2" cy="284.6" r="3.95" fill="#dc143c" fill-opacity="0.8" stroke="#dc143c" stroke-opacity="0.8" stroke-width="1.39"/>
<circle cx="229.5" cy="299.8" r="3.95" fill="#dc143c" fill-opacity="0.8" stroke="#dc143c" stroke-opacity="0.8" stroke-width="1.39"/>
<circle cx="233.6" cy="302.0" r="3.95" fill="#dc143c" fill-opacity="0.8" stroke="#dc143c" stroke-opacity="0.8" stroke-width="1.39"/>
<circle cx="240.3" cy="333.2" r="3.95" fill="#dc143c" fill-opacity="0.8" stroke="#dc143c" stroke-opacity="0.8" stroke-width="1.39"/>
<circle cx="247.4" cy="380.2" r="3.95" fill="#dc143c" fill-opacity="0.8" stroke="#dc143c" stroke-opacity="0.8" stroke-width="1.39"/>
<circle cx="259.4" cy="449.4" r="3.95" fill="#dc143c" fill-opacity="0.8" stroke="#dc143c" stroke-opacity="0.8" stroke-width="1.39"/>
<circle cx="270.1" cy="439.9" r="3.95" fill="#dc143c" fill-opacity="0.8" stroke="#dc143c" stroke-opacity="0.8" stroke-width="1.39"/>
<circle cx="273.4" cy="474.6" r="3.95" fill="#dc143c" fill-opacity="0.8" stroke="#dc143c" stroke-opacity="0.8" stroke-width="1.39"/>
<circle cx="296.3" cy="483.5" r="3.95" fill="#dc143c" fill-opacity="0.8" stroke="#dc143c" stroke-opacity="0.8" stroke-width="1.39"/>
<circle cx="309.4" cy="534.3" r="3.95" fill="#dc143c" fill-opacity="0.8" stroke="#dc143c" stroke-opacity="0.8" stroke-width="1.39"/>
<circle cx="322.4" cy="568.6" r="3.95" fill="#dc143c" fill-opacity="0.8" stroke="#dc143c" stroke-opacity="0.8" stroke-width="1.39"/>
<circle cx="325.7" cy="571.1" r="3.95" fill="#dc143c" fill-opacity="0.8" stroke="#dc143c" stroke-opacity="0.8" stroke-width="1.39"/>
<circle cx="314.1" cy="609.5" r="3.95" fill="#dc143c" fill-opacity="0.8" stroke="#dc143c" stroke-opacity="0.8" stroke-width="1.39"/>
<circle cx="329.0" cy="608.7" r="3.95" fill="#dc143c" fill-opacity="0.8" stroke="#dc143c" stroke-opacity="0.8" stroke-width="1.39"/>
<circle cx="358.5" cy="605.2" r="3.95" fill="#dc143c" fill-opacity="0.8" stroke="#dc143c" stroke-opacity="0.8" stroke-width="1.39"/>
<circle cx="1226.5" cy="282.2" r="3.95" fill="#dc143c" fill-opacity="0.8" stroke="#dc143c" stroke-opacity="0.8" stroke-width="1.39"/>
<circle cx="1231.5" cy="296.5" r="3.95" fill="#dc143c" fill-opacity="0.8" stroke="#dc143c" stroke-opacity="0.8" stroke-width="1.39"/>
<circle cx="1222.2" cy="304.6" r="3.95" fill="#dc143c" fill-opacity="0.8" stroke="#dc143c" stroke-opacity="0.8" stroke-width="1.39"/>
<circle cx="1218.5" cy="312.1" r="3.95" fill="#dc143c" fill-opacity="0.8" stroke="#dc143c" stroke-opacity="0.8" stroke-width="1.39"/>
<circle cx="1213.5" cy="322.7" r="3.95" fill="#dc143c" fill-opacity="0.8" stroke="#dc143c" stroke-opacity="0.8" stroke-width="1.39"/>
<circle cx="1241.2" cy="308.4" r="3.95" fill="#dc143c" fill-opacity="0.8" stroke="#dc143c" stroke-opacity="0.8" stroke-width="1.39"/>
<circle cx="1248.7" cy="314.3" r="3.95" fill="#dc143c" fill-opacity="0.8" stroke="#dc143c" stroke-opacity="0.8" stroke-width="1.39"/>
<circle cx="1244.6" cy="320.5" r="3.95" fill="#dc143c" fill-opacity="0.8" stroke="#dc143c" stroke-opacity="0.8" stroke-width="1.39"/>
<circle cx="1211.0" cy="339.9" r="3.95" fill="#dc143c" fill-opacity="0.8" stroke="#dc143c" stroke-opacity="0.8" stroke-width="1.39"/>
<circle cx="1209.4" cy="345.5" r="3.95" fill="#dc143c" fill-opacity="0.8" stroke="#dc143c" stroke-opacity="0.8" stroke-width="1.39"/>
<circle cx="1205.4" cy="370.4" r="3.95" fill="#dc143c" fill-opacity="0.8" stroke="#dc143c" stroke-opacity="0.8" stroke-width="1.39"/>
<circle cx="1253.3" cy="341.2" r="3.95" fill="#dc143c" fill-opacity="0.8" stroke="#dc143c" stroke-opacity="0.8" stroke-width="1.39"/>
<circle cx="1258.3" cy="338.3" r="3.95" fill="#dc143c" fill-opacity="0.8" stroke="#dc143c" stroke-opacity="0.8" stroke-width="1.39"/>
<circle cx="1270.4" cy="343.4" r="3.95" fill="#dc143c" fill-opacity="0.8" stroke="#dc143c" stroke-opacity="0.8" stroke-width="1.39"/>
<circle cx="1265.3" cy="349.3" r="3.95" fill="#dc143c" fill-opacity="0.8" stroke="#dc143c" stroke-opacity="0.8" stroke-width="1.39"/>
<circle cx="1279.3" cy="530.5" r="3.95" fill="#dc143c" fill-opacity="0.8" stroke="#dc143c" stroke-opacity="0.8" stroke-width="1.39"/>
<path d="M341.38,518.85L349.22,518.85L345.30,526.55Z" fill="#dc143c" fill-opacity="0.8" stroke="#dc143c" stroke-opacity="0.8" stroke-width="1.39" stroke-linejoin="miter" stroke-miterlimit="10"/>
<path d="M346.58,558.55L354.42,558.55L350.50,566.25Z" fill="#dc143c" fill-opacity="0.8" stroke="#dc143c" stroke-opacity="0.8" stroke-width="1.39" stroke-linejoin="miter" stroke-miterlimit="10"/>
<path d="M339.38,609.14L347.22,609.14L343.30,616.85Z" fill="#dc143c" fill-opacity="0.8" stroke="#dc143c" stroke-opacity="0.8" stroke-width="1.39" stroke-linejoin="miter" stroke-miterlimit="10"/>
<path d="M332.58,643.64L340.42,643.64L336.50,651.35Z" fill="#dc143c" fill-opacity="0.8" stroke="#dc143c" stroke-opacity="0.8" stroke-width="1.39" stroke-linejoin="miter" stroke-miterlimit="10"/>
<path d="M362.48,650.45L370.32,650.45L366.40,658.15Z" fill="#dc143c" fill-opacity="0.8" stroke="#dc143c" stroke-opacity="0.8" stroke-width="1.39" stroke-linejoin="miter" stroke-miterlimit="10"/>
<path d="M376.48,623.95L384.32,623.95L380.40,631.65Z" fill="#dc143c" fill-opacity="0.8" stroke="#dc143c" stroke-opacity="0.8" stroke-width="1.39" stroke-linejoin="miter" stroke-miterlimit="10"/>
<path d="M480.58,574.05L488.42,574.05L484.50,581.75Z" fill="#dc143c" fill-opacity="0.8" stroke="#dc143c" stroke-opacity="0.8" stroke-width="1.39" stroke-linejoin="miter" stroke-miterlimit="10"/>
<path d="M511.58,606.35L519.42,606.35L515.50,614.05Z" fill="#dc143c" fill-opacity="0.8" stroke="#dc143c" stroke-opacity="0.8" stroke-width="1.39" stroke-linejoin="miter" stroke-miterlimit="10"/>
<path d="M504.28,610.14L512.12,610.14L508.20,617.85Z" fill="#dc143c" fill-opacity="0.8" stroke="#dc143c" stroke-opacity="0.8" stroke-width="1.39" stroke-linejoin="miter" stroke-miterlimit="10"/>
<path d="M442.58,618.95L450.42,618.95L446.50,626.65Z" fill="#dc143c" fill-opacity="0.8" stroke="#dc143c" stroke-opacity="0.8" stroke-width="1.39" stroke-linejoin="miter" stroke-miterlimit="10"/>
<path d="M475.68,622.95L483.52,622.95L479.60,630.65Z" fill="#dc143c" fill-opacity="0.8" stroke="#dc143c" stroke-opacity="0.8" stroke-width="1.39" stroke-linejoin="miter" stroke-miterlimit="10"/>
<path d="M519.58,623.75L527.42,623.75L523.50,631.45Z" fill="#dc143c" fill-opacity="0.8" stroke="#dc143c" stroke-opacity="0.8" stroke-width="1.39" stroke-linejoin="miter" stroke-miterlimit="10"/>
<path d="M428.68,627.75L436.52,627.75L432.60,635.45Z" fill="#dc143c" fill-opacity="0.8" stroke="#dc143c" stroke-opacity="0.8" stroke-width="1.39" stroke-linejoin="miter" stroke-miterlimit="10"/>
<path d="M490.58,635.85L498.42,635.85L494.50,643.55Z" fill="#dc143c" fill-opacity="0.8" stroke="#dc143c" stroke-opacity="0.8" stroke-width="1.39" stroke-linejoin="miter" stroke-miterlimit="10"/>
<path d="M436.48,643.75L444.32,643.75L440.40,651.45Z" fill="#dc143c" fill-opacity="0.8" stroke="#dc143c" stroke-opacity="0.8" stroke-width="1.39" stroke-linejoin="miter" stroke-miterlimit="10"/>
<path d="M483.08,641.25L490.92,641.25L487.00,648.95Z" fill="#dc143c" fill-opacity="0.8" stroke="#dc143c" stroke-opacity="0.8" stroke-width="1.39" stroke-linejoin="miter" stroke-miterlimit="10"/>
<path d="M497.48,650.64L505.32,650.64L501.40,658.35Z" fill="#dc143c" fill-opacity="0.8" stroke="#dc143c" stroke-opacity="0.8" stroke-width="1.39" stroke-linejoin="miter" stroke-miterlimit="10"/>
<path d="M731.48,637.05L739.32,637.05L735.40,644.75Z" fill="#dc143c" fill-opacity="0.8" stroke="#dc143c" stroke-opacity="0.8" stroke-width="1.39" stroke-linejoin="miter" stroke-miterlimit="10"/>
<path d="M1060.58,643.95L1068.42,643.95L1064.50,651.65Z" fill="#dc143c" fill-opacity="0.8" stroke="#dc143c" stroke-opacity="0.8" stroke-width="1.39" stroke-linejoin="miter" stroke-miterlimit="10"/>
<path d="M1259.58,640.05L1267.42,640.05L1263.50,647.75Z" fill="#dc143c" fill-opacity="0.8" stroke="#dc143c" stroke-opacity="0.8" stroke-width="1.39" stroke-linejoin="miter" stroke-miterlimit="10"/>
</g>
<g id="s_uvm2">
<g stroke="#bf00bf" stroke-opacity="0.8" fill="none"><line x1="192.3" y1="143.9" x2="192.3" y2="146.9" stroke-width="2.0"/><line x1="188.1" y1="143.9" x2="196.5" y2="143.9" stroke-width="1.4"/><line x1="188.1" y1="146.9" x2="196.5" y2="146.9" stroke-width="1.4"/></g>
<g stroke="#bf00bf" stroke-opacity="0.8" fill="none"><line x1="197.3" y1="154.3" x2="197.3" y2="158.3" stroke-width="2.0"/><line x1="193.1" y1="154.3" x2="201.5" y2="154.3" stroke-width="1.4"/><line x1="193.1" y1="158.3" x2="201.5" y2="158.3" stroke-width="1.4"/></g>
<g stroke="#bf00bf" stroke-opacity="0.8" fill="none"><line x1="199.8" y1="157.6" x2="199.8" y2="165.6" stroke-width="2.0"/><line x1="195.6" y1="157.6" x2="204.0" y2="157.6" stroke-width="1.4"/><line x1="195.6" y1="165.6" x2="204.0" y2="165.6" stroke-width="1.4"/></g>
<g stroke="#bf00bf" stroke-opacity="0.8" fill="none"><line x1="209.5" y1="192.5" x2="209.5" y2="196.5" stroke-width="2.0"/><line x1="205.3" y1="192.5" x2="213.7" y2="192.5" stroke-width="1.4"/><line x1="205.3" y1="196.5" x2="213.7" y2="196.5" stroke-width="1.4"/></g>
<g stroke="#bf00bf" stroke-opacity="0.8" fill="none"><line x1="211.2" y1="197.5" x2="211.2" y2="205.5" stroke-width="2.0"/><line x1="207.0" y1="197.5" x2="215.4" y2="197.5" stroke-width="1.4"/><line x1="207.0" y1="205.5" x2="215.4" y2="205.5" stroke-width="1.4"/></g>
<g stroke="#bf00bf" stroke-opacity="0.8" fill="none"><line x1="217.4" y1="229.1" x2="217.4" y2="237.1" stroke-width="2.0"/><line x1="213.2" y1="229.1" x2="221.6" y2="229.1" stroke-width="1.4"/><line x1="213.2" y1="237.1" x2="221.6" y2="237.1" stroke-width="1.4"/></g>
<g stroke="#bf00bf" stroke-opacity="0.8" fill="none"><line x1="226.2" y1="247.4" x2="226.2" y2="255.4" stroke-width="2.0"/><line x1="222.0" y1="247.4" x2="230.4" y2="247.4" stroke-width="1.4"/><line x1="222.0" y1="255.4" x2="230.4" y2="255.4" stroke-width="1.4"/></g>
<g stroke="#bf00bf" stroke-opacity="0.8" fill="none"><line x1="229.0" y1="249.0" x2="229.0" y2="257.0" stroke-width="2.0"/><line x1="224.8" y1="249.0" x2="233.2" y2="249.0" stroke-width="1.4"/><line x1="224.8" y1="257.0" x2="233.2" y2="257.0" stroke-width="1.4"/></g>
<g stroke="#bf00bf" stroke-opacity="0.8" fill="none"><line x1="234.5" y1="268.4" x2="234.5" y2="276.4" stroke-width="2.0"/><line x1="230.3" y1="268.4" x2="238.7" y2="268.4" stroke-width="1.4"/><line x1="230.3" y1="276.4" x2="238.7" y2="276.4" stroke-width="1.4"/></g>
<g stroke="#bf00bf" stroke-opacity="0.8" fill="none"><line x1="240.3" y1="291.3" x2="240.3" y2="299.3" stroke-width="2.0"/><line x1="236.1" y1="291.3" x2="244.5" y2="291.3" stroke-width="1.4"/><line x1="236.1" y1="299.3" x2="244.5" y2="299.3" stroke-width="1.4"/></g>
<g stroke="#bf00bf" stroke-opacity="0.8" fill="none"><line x1="247.4" y1="320.6" x2="247.4" y2="332.6" stroke-width="2.0"/><line x1="243.2" y1="320.6" x2="251.6" y2="320.6" stroke-width="1.4"/><line x1="243.2" y1="332.6" x2="251.6" y2="332.6" stroke-width="1.4"/></g>
<g stroke="#bf00bf" stroke-opacity="0.8" fill="none"><line x1="259.4" y1="376.1" x2="259.4" y2="405.5" stroke-width="2.0"/><line x1="255.2" y1="376.1" x2="263.6" y2="376.1" stroke-width="1.4"/><line x1="255.2" y1="405.5" x2="263.6" y2="405.5" stroke-width="1.4"/></g>
<g stroke="#bf00bf" stroke-opacity="0.8" fill="none"><line x1="270.5" y1="395.4" x2="270.5" y2="419.4" stroke-width="2.0"/><line x1="266.3" y1="395.4" x2="274.7" y2="395.4" stroke-width="1.4"/><line x1="266.3" y1="419.4" x2="274.7" y2="419.4" stroke-width="1.4"/></g>
<g stroke="#bf00bf" stroke-opacity="0.8" fill="none"><line x1="273.0" y1="426.1" x2="273.0" y2="451.1" stroke-width="2.0"/><line x1="268.8" y1="426.1" x2="277.2" y2="426.1" stroke-width="1.4"/><line x1="268.8" y1="451.1" x2="277.2" y2="451.1" stroke-width="1.4"/></g>
<g stroke="#bf00bf" stroke-opacity="0.8" fill="none"><line x1="314.1" y1="463.2" x2="314.1" y2="517.2" stroke-width="2.0"/><line x1="309.9" y1="463.2" x2="318.3" y2="463.2" stroke-width="1.4"/><line x1="309.9" y1="517.2" x2="318.3" y2="517.2" stroke-width="1.4"/></g>
<g stroke="#bf00bf" stroke-opacity="0.8" fill="none"><line x1="296.3" y1="501.4" x2="296.3" y2="531.4" stroke-width="2.0"/><line x1="292.1" y1="501.4" x2="300.5" y2="501.4" stroke-width="1.4"/><line x1="292.1" y1="531.4" x2="300.5" y2="531.4" stroke-width="1.4"/></g>
<g stroke="#bf00bf" stroke-opacity="0.8" fill="none"><line x1="309.1" y1="500.4" x2="309.1" y2="528.4" stroke-width="2.0"/><line x1="304.9" y1="500.4" x2="313.3" y2="500.4" stroke-width="1.4"/><line x1="304.9" y1="528.4" x2="313.3" y2="528.4" stroke-width="1.4"/></g>
<g stroke="#bf00bf" stroke-opacity="0.8" fill="none"><line x1="322.4" y1="515.1" x2="322.4" y2="539.1" stroke-width="2.0"/><line x1="318.2" y1="515.1" x2="326.6" y2="515.1" stroke-width="1.4"/><line x1="318.2" y1="539.1" x2="326.6" y2="539.1" stroke-width="1.4"/></g>
<g stroke="#bf00bf" stroke-opacity="0.8" fill="none"><line x1="329.0" y1="536.0" x2="329.0" y2="558.0" stroke-width="2.0"/><line x1="324.8" y1="536.0" x2="333.2" y2="536.0" stroke-width="1.4"/><line x1="324.8" y1="558.0" x2="333.2" y2="558.0" stroke-width="1.4"/></g>
<g stroke="#bf00bf" stroke-opacity="0.8" fill="none"><line x1="345.3" y1="503.0" x2="345.3" y2="569.0" stroke-width="2.0"/><line x1="341.1" y1="503.0" x2="349.5" y2="503.0" stroke-width="1.4"/><line x1="341.1" y1="569.0" x2="349.5" y2="569.0" stroke-width="1.4"/></g>
<g stroke="#bf00bf" stroke-opacity="0.8" fill="none"><line x1="343.3" y1="543.0" x2="343.3" y2="579.0" stroke-width="2.0"/><line x1="339.1" y1="543.0" x2="347.5" y2="543.0" stroke-width="1.4"/><line x1="339.1" y1="579.0" x2="347.5" y2="579.0" stroke-width="1.4"/></g>
<g stroke="#bf00bf" stroke-opacity="0.8" fill="none"><line x1="350.5" y1="563.0" x2="350.5" y2="603.0" stroke-width="2.0"/><line x1="346.3" y1="563.0" x2="354.7" y2="563.0" stroke-width="1.4"/><line x1="346.3" y1="603.0" x2="354.7" y2="603.0" stroke-width="1.4"/></g>
<g stroke="#bf00bf" stroke-opacity="0.8" fill="none"><line x1="358.5" y1="566.0" x2="358.5" y2="606.0" stroke-width="2.0"/><line x1="354.3" y1="566.0" x2="362.7" y2="566.0" stroke-width="1.4"/><line x1="354.3" y1="606.0" x2="362.7" y2="606.0" stroke-width="1.4"/></g>
<g stroke="#bf00bf" stroke-opacity="0.8" fill="none"><line x1="336.3" y1="578.9" x2="336.3" y2="614.9" stroke-width="2.0"/><line x1="332.1" y1="578.9" x2="340.5" y2="578.9" stroke-width="1.4"/><line x1="332.1" y1="614.9" x2="340.5" y2="614.9" stroke-width="1.4"/></g>
<g stroke="#bf00bf" stroke-opacity="0.8" fill="none"><line x1="366.4" y1="597.3" x2="366.4" y2="629.3" stroke-width="2.0"/><line x1="362.2" y1="597.3" x2="370.6" y2="597.3" stroke-width="1.4"/><line x1="362.2" y1="629.3" x2="370.6" y2="629.3" stroke-width="1.4"/></g>
<g stroke="#bf00bf" stroke-opacity="0.8" fill="none"><line x1="375.3" y1="604.2" x2="375.3" y2="654.2" stroke-width="2.0"/><line x1="371.1" y1="604.2" x2="379.5" y2="604.2" stroke-width="1.4"/><line x1="371.1" y1="654.2" x2="379.5" y2="654.2" stroke-width="1.4"/></g>
<g stroke="#bf00bf" stroke-opacity="0.8" fill="none"><line x1="380.4" y1="590.9" x2="380.4" y2="624.1" stroke-width="2.0"/><line x1="376.2" y1="590.9" x2="384.6" y2="590.9" stroke-width="1.4"/><line x1="376.2" y1="624.1" x2="384.6" y2="624.1" stroke-width="1.4"/></g>
<g stroke="#bf00bf" stroke-opacity="0.8" fill="none"><line x1="432.5" y1="618.7" x2="432.5" y2="680.7" stroke-width="2.0"/><line x1="428.3" y1="618.7" x2="436.7" y2="618.7" stroke-width="1.4"/><line x1="428.3" y1="680.7" x2="436.7" y2="680.7" stroke-width="1.4"/></g>
<g stroke="#bf00bf" stroke-opacity="0.8" fill="none"><line x1="440.5" y1="662.2" x2="440.5" y2="748.2" stroke-width="2.0"/><line x1="436.3" y1="662.2" x2="444.7" y2="662.2" stroke-width="1.4"/><line x1="436.3" y1="748.2" x2="444.7" y2="748.2" stroke-width="1.4"/></g>
<g stroke="#bf00bf" stroke-opacity="0.8" fill="none"><line x1="479.4" y1="638.2" x2="479.4" y2="724.2" stroke-width="2.0"/><line x1="475.2" y1="638.2" x2="483.6" y2="638.2" stroke-width="1.4"/><line x1="475.2" y1="724.2" x2="483.6" y2="724.2" stroke-width="1.4"/></g>
<g stroke="#bf00bf" stroke-opacity="0.8" fill="none"><line x1="501.2" y1="677.2" x2="501.2" y2="751.2" stroke-width="2.0"/><line x1="497.0" y1="677.2" x2="505.4" y2="677.2" stroke-width="1.4"/><line x1="497.0" y1="751.2" x2="505.4" y2="751.2" stroke-width="1.4"/></g>
<g stroke="#bf00bf" stroke-opacity="0.8" fill="none"><line x1="1222.2" y1="265.4" x2="1222.2" y2="275.4" stroke-width="2.0"/><line x1="1218.0" y1="265.4" x2="1226.4" y2="265.4" stroke-width="1.4"/><line x1="1218.0" y1="275.4" x2="1226.4" y2="275.4" stroke-width="1.4"/></g>
<g stroke="#bf00bf" stroke-opacity="0.8" fill="none"><line x1="1226.5" y1="263.2" x2="1226.5" y2="276.4" stroke-width="2.0"/><line x1="1222.3" y1="263.2" x2="1230.7" y2="263.2" stroke-width="1.4"/><line x1="1222.3" y1="276.4" x2="1230.7" y2="276.4" stroke-width="1.4"/></g>
<g stroke="#bf00bf" stroke-opacity="0.8" fill="none"><line x1="1231.5" y1="264.4" x2="1231.5" y2="276.4" stroke-width="2.0"/><line x1="1227.3" y1="264.4" x2="1235.7" y2="264.4" stroke-width="1.4"/><line x1="1227.3" y1="276.4" x2="1235.7" y2="276.4" stroke-width="1.4"/></g>
<g stroke="#bf00bf" stroke-opacity="0.8" fill="none"><line x1="1244.6" y1="268.4" x2="1244.6" y2="279.4" stroke-width="2.0"/><line x1="1240.4" y1="268.4" x2="1248.8" y2="268.4" stroke-width="1.4"/><line x1="1240.4" y1="279.4" x2="1248.8" y2="279.4" stroke-width="1.4"/></g>
<g stroke="#bf00bf" stroke-opacity="0.8" fill="none"><line x1="1241.2" y1="274.5" x2="1241.2" y2="284.5" stroke-width="2.0"/><line x1="1237.0" y1="274.5" x2="1245.4" y2="274.5" stroke-width="1.4"/><line x1="1237.0" y1="284.5" x2="1245.4" y2="284.5" stroke-width="1.4"/></g>
<g stroke="#bf00bf" stroke-opacity="0.8" fill="none"><line x1="1248.7" y1="279.5" x2="1248.7" y2="291.1" stroke-width="2.0"/><line x1="1244.5" y1="279.5" x2="1252.9" y2="279.5" stroke-width="1.4"/><line x1="1244.5" y1="291.1" x2="1252.9" y2="291.1" stroke-width="1.4"/></g>
<g stroke="#bf00bf" stroke-opacity="0.8" fill="none"><line x1="1253.3" y1="291.1" x2="1253.3" y2="306.9" stroke-width="2.0"/><line x1="1249.1" y1="291.1" x2="1257.5" y2="291.1" stroke-width="1.4"/><line x1="1249.1" y1="306.9" x2="1257.5" y2="306.9" stroke-width="1.4"/></g>
<g stroke="#bf00bf" stroke-opacity="0.8" fill="none"><line x1="1258.3" y1="308.3" x2="1258.3" y2="318.3" stroke-width="2.0"/><line x1="1254.1" y1="308.3" x2="1262.5" y2="308.3" stroke-width="1.4"/><line x1="1254.1" y1="318.3" x2="1262.5" y2="318.3" stroke-width="1.4"/></g>
<g stroke="#bf00bf" stroke-opacity="0.8" fill="none"><line x1="1270.4" y1="316.3" x2="1270.4" y2="332.1" stroke-width="2.0"/><line x1="1266.2" y1="316.3" x2="1274.6" y2="316.3" stroke-width="1.4"/><line x1="1266.2" y1="332.1" x2="1274.6" y2="332.1" stroke-width="1.4"/></g>
<g stroke="#bf00bf" stroke-opacity="0.8" fill="none"><line x1="1218.5" y1="285.3" x2="1218.5" y2="295.3" stroke-width="2.0"/><line x1="1214.3" y1="285.3" x2="1222.7" y2="285.3" stroke-width="1.4"/><line x1="1214.3" y1="295.3" x2="1222.7" y2="295.3" stroke-width="1.4"/></g>
<g stroke="#bf00bf" stroke-opacity="0.8" fill="none"><line x1="1211.6" y1="300.2" x2="1211.6" y2="310.2" stroke-width="2.0"/><line x1="1207.4" y1="300.2" x2="1215.8" y2="300.2" stroke-width="1.4"/><line x1="1207.4" y1="310.2" x2="1215.8" y2="310.2" stroke-width="1.4"/></g>
<g stroke="#bf00bf" stroke-opacity="0.8" fill="none"><line x1="1209.8" y1="317.7" x2="1209.8" y2="327.7" stroke-width="2.0"/><line x1="1205.6" y1="317.7" x2="1214.0" y2="317.7" stroke-width="1.4"/><line x1="1205.6" y1="327.7" x2="1214.0" y2="327.7" stroke-width="1.4"/></g>
<g stroke="#bf00bf" stroke-opacity="0.8" fill="none"><line x1="1205.4" y1="332.5" x2="1205.4" y2="342.5" stroke-width="2.0"/><line x1="1201.2" y1="332.5" x2="1209.6" y2="332.5" stroke-width="1.4"/><line x1="1201.2" y1="342.5" x2="1209.6" y2="342.5" stroke-width="1.4"/></g>
<g stroke="#bf00bf" stroke-opacity="0.8" fill="none"><line x1="1279.4" y1="417.3" x2="1279.4" y2="436.3" stroke-width="2.0"/><line x1="1275.2" y1="417.3" x2="1283.6" y2="417.3" stroke-width="1.4"/><line x1="1275.2" y1="436.3" x2="1283.6" y2="436.3" stroke-width="1.4"/></g>
<circle cx="192.3" cy="145.4" r="3.95" fill="#bf00bf" fill-opacity="0.8" stroke="#bf00bf" stroke-opacity="0.8" stroke-width="1.39"/>
<circle cx="197.3" cy="156.3" r="3.95" fill="#bf00bf" fill-opacity="0.8" stroke="#bf00bf" stroke-opacity="0.8" stroke-width="1.39"/>
<circle cx="199.8" cy="161.6" r="3.95" fill="#bf00bf" fill-opacity="0.8" stroke="#bf00bf" stroke-opacity="0.8" stroke-width="1.39"/>
<circle cx="209.5" cy="194.5" r="3.95" fill="#bf00bf" fill-opacity="0.8" stroke="#bf00bf" stroke-opacity="0.8" stroke-width="1.39"/>
<circle cx="211.2" cy="201.5" r="3.95" fill="#bf00bf" fill-opacity="0.8" stroke="#bf00bf" stroke-opacity="0.8" stroke-width="1.39"/>
<circle cx="217.4" cy="233.1" r="3.95" fill="#bf00bf" fill-opacity="0.8" stroke="#bf00bf" stroke-opacity="0.8" stroke-width="1.39"/>
<circle cx="226.2" cy="251.4" r="3.95" fill="#bf00bf" fill-opacity="0.8" stroke="#bf00bf" stroke-opacity="0.8" stroke-width="1.39"/>
<circle cx="229.0" cy="253.0" r="3.95" fill="#bf00bf" fill-opacity="0.8" stroke="#bf00bf" stroke-opacity="0.8" stroke-width="1.39"/>
<circle cx="234.5" cy="272.4" r="3.95" fill="#bf00bf" fill-opacity="0.8" stroke="#bf00bf" stroke-opacity="0.8" stroke-width="1.39"/>
<circle cx="240.3" cy="295.3" r="3.95" fill="#bf00bf" fill-opacity="0.8" stroke="#bf00bf" stroke-opacity="0.8" stroke-width="1.39"/>
<circle cx="247.4" cy="326.6" r="3.95" fill="#bf00bf" fill-opacity="0.8" stroke="#bf00bf" stroke-opacity="0.8" stroke-width="1.39"/>
<circle cx="259.4" cy="390.8" r="3.95" fill="#bf00bf" fill-opacity="0.8" stroke="#bf00bf" stroke-opacity="0.8" stroke-width="1.39"/>
<circle cx="270.5" cy="407.4" r="3.95" fill="#bf00bf" fill-opacity="0.8" stroke="#bf00bf" stroke-opacity="0.8" stroke-width="1.39"/>
<circle cx="273.0" cy="438.6" r="3.95" fill="#bf00bf" fill-opacity="0.8" stroke="#bf00bf" stroke-opacity="0.8" stroke-width="1.39"/>
<circle cx="314.1" cy="490.2" r="3.95" fill="#bf00bf" fill-opacity="0.8" stroke="#bf00bf" stroke-opacity="0.8" stroke-width="1.39"/>
<circle cx="296.3" cy="516.4" r="3.95" fill="#bf00bf" fill-opacity="0.8" stroke="#bf00bf" stroke-opacity="0.8" stroke-width="1.39"/>
<circle cx="309.1" cy="514.4" r="3.95" fill="#bf00bf" fill-opacity="0.8" stroke="#bf00bf" stroke-opacity="0.8" stroke-width="1.39"/>
<circle cx="322.4" cy="527.1" r="3.95" fill="#bf00bf" fill-opacity="0.8" stroke="#bf00bf" stroke-opacity="0.8" stroke-width="1.39"/>
<circle cx="329.0" cy="547.0" r="3.95" fill="#bf00bf" fill-opacity="0.8" stroke="#bf00bf" stroke-opacity="0.8" stroke-width="1.39"/>
<circle cx="345.3" cy="536.0" r="3.95" fill="#bf00bf" fill-opacity="0.8" stroke="#bf00bf" stroke-opacity="0.8" stroke-width="1.39"/>
<circle cx="343.3" cy="561.0" r="3.95" fill="#bf00bf" fill-opacity="0.8" stroke="#bf00bf" stroke-opacity="0.8" stroke-width="1.39"/>
<circle cx="350.5" cy="583.0" r="3.95" fill="#bf00bf" fill-opacity="0.8" stroke="#bf00bf" stroke-opacity="0.8" stroke-width="1.39"/>
<circle cx="358.5" cy="586.0" r="3.95" fill="#bf00bf" fill-opacity="0.8" stroke="#bf00bf" stroke-opacity="0.8" stroke-width="1.39"/>
<circle cx="336.3" cy="596.9" r="3.95" fill="#bf00bf" fill-opacity="0.8" stroke="#bf00bf" stroke-opacity="0.8" stroke-width="1.39"/>
<circle cx="366.4" cy="613.3" r="3.95" fill="#bf00bf" fill-opacity="0.8" stroke="#bf00bf" stroke-opacity="0.8" stroke-width="1.39"/>
<circle cx="375.3" cy="629.2" r="3.95" fill="#bf00bf" fill-opacity="0.8" stroke="#bf00bf" stroke-opacity="0.8" stroke-width="1.39"/>
<circle cx="380.4" cy="607.5" r="3.95" fill="#bf00bf" fill-opacity="0.8" stroke="#bf00bf" stroke-opacity="0.8" stroke-width="1.39"/>
<circle cx="432.5" cy="649.7" r="3.95" fill="#bf00bf" fill-opacity="0.8" stroke="#bf00bf" stroke-opacity="0.8" stroke-width="1.39"/>
<circle cx="440.5" cy="705.2" r="3.95" fill="#bf00bf" fill-opacity="0.8" stroke="#bf00bf" stroke-opacity="0.8" stroke-width="1.39"/>
<circle cx="479.4" cy="681.2" r="3.95" fill="#bf00bf" fill-opacity="0.8" stroke="#bf00bf" stroke-opacity="0.8" stroke-width="1.39"/>
<circle cx="501.2" cy="714.2" r="3.95" fill="#bf00bf" fill-opacity="0.8" stroke="#bf00bf" stroke-opacity="0.8" stroke-width="1.39"/>
<circle cx="1222.2" cy="270.4" r="3.95" fill="#bf00bf" fill-opacity="0.8" stroke="#bf00bf" stroke-opacity="0.8" stroke-width="1.39"/>
<circle cx="1226.5" cy="269.8" r="3.95" fill="#bf00bf" fill-opacity="0.8" stroke="#bf00bf" stroke-opacity="0.8" stroke-width="1.39"/>
<circle cx="1231.5" cy="270.4" r="3.95" fill="#bf00bf" fill-opacity="0.8" stroke="#bf00bf" stroke-opacity="0.8" stroke-width="1.39"/>
<circle cx="1244.6" cy="273.9" r="3.95" fill="#bf00bf" fill-opacity="0.8" stroke="#bf00bf" stroke-opacity="0.8" stroke-width="1.39"/>
<circle cx="1241.2" cy="279.5" r="3.95" fill="#bf00bf" fill-opacity="0.8" stroke="#bf00bf" stroke-opacity="0.8" stroke-width="1.39"/>
<circle cx="1248.7" cy="285.3" r="3.95" fill="#bf00bf" fill-opacity="0.8" stroke="#bf00bf" stroke-opacity="0.8" stroke-width="1.39"/>
<circle cx="1253.3" cy="299.0" r="3.95" fill="#bf00bf" fill-opacity="0.8" stroke="#bf00bf" stroke-opacity="0.8" stroke-width="1.39"/>
<circle cx="1258.3" cy="313.3" r="3.95" fill="#bf00bf" fill-opacity="0.8" stroke="#bf00bf" stroke-opacity="0.8" stroke-width="1.39"/>
<circle cx="1270.4" cy="324.2" r="3.95" fill="#bf00bf" fill-opacity="0.8" stroke="#bf00bf" stroke-opacity="0.8" stroke-width="1.39"/>
<circle cx="1218.5" cy="290.3" r="3.95" fill="#bf00bf" fill-opacity="0.8" stroke="#bf00bf" stroke-opacity="0.8" stroke-width="1.39"/>
<circle cx="1211.6" cy="305.2" r="3.95" fill="#bf00bf" fill-opacity="0.8" stroke="#bf00bf" stroke-opacity="0.8" stroke-width="1.39"/>
<circle cx="1209.8" cy="322.7" r="3.95" fill="#bf00bf" fill-opacity="0.8" stroke="#bf00bf" stroke-opacity="0.8" stroke-width="1.39"/>
<circle cx="1205.4" cy="337.5" r="3.95" fill="#bf00bf" fill-opacity="0.8" stroke="#bf00bf" stroke-opacity="0.8" stroke-width="1.39"/>
<circle cx="1279.4" cy="426.8" r="3.95" fill="#bf00bf" fill-opacity="0.8" stroke="#bf00bf" stroke-opacity="0.8" stroke-width="1.39"/>
<path d="M321.48,475.74L329.32,475.74L325.40,483.45Z" fill="#bf00bf" fill-opacity="0.8" stroke="#bf00bf" stroke-opacity="0.8" stroke-width="1.39" stroke-linejoin="miter" stroke-miterlimit="10"/>
<path d="M442.38,680.35L450.22,680.35L446.30,688.05Z" fill="#bf00bf" fill-opacity="0.8" stroke="#bf00bf" stroke-opacity="0.8" stroke-width="1.39" stroke-linejoin="miter" stroke-miterlimit="10"/>
<path d="M481.48,638.75L489.32,638.75L485.40,646.45Z" fill="#bf00bf" fill-opacity="0.8" stroke="#bf00bf" stroke-opacity="0.8" stroke-width="1.39" stroke-linejoin="miter" stroke-miterlimit="10"/>
<path d="M482.68,716.64L490.52,716.64L486.60,724.35Z" fill="#bf00bf" fill-opacity="0.8" stroke="#bf00bf" stroke-opacity="0.8" stroke-width="1.39" stroke-linejoin="miter" stroke-miterlimit="10"/>
<path d="M490.48,735.45L498.32,735.45L494.40,743.15Z" fill="#bf00bf" fill-opacity="0.8" stroke="#bf00bf" stroke-opacity="0.8" stroke-width="1.39" stroke-linejoin="miter" stroke-miterlimit="10"/>
<path d="M504.18,701.45L512.02,701.45L508.10,709.15Z" fill="#bf00bf" fill-opacity="0.8" stroke="#bf00bf" stroke-opacity="0.8" stroke-width="1.39" stroke-linejoin="miter" stroke-miterlimit="10"/>
<path d="M511.68,692.64L519.52,692.64L515.60,700.35Z" fill="#bf00bf" fill-opacity="0.8" stroke="#bf00bf" stroke-opacity="0.8" stroke-width="1.39" stroke-linejoin="miter" stroke-miterlimit="10"/>
<path d="M519.48,693.45L527.32,693.45L523.40,701.15Z" fill="#bf00bf" fill-opacity="0.8" stroke="#bf00bf" stroke-opacity="0.8" stroke-width="1.39" stroke-linejoin="miter" stroke-miterlimit="10"/>
<path d="M1060.58,743.05L1068.42,743.05L1064.50,750.75Z" fill="#bf00bf" fill-opacity="0.8" stroke="#bf00bf" stroke-opacity="0.8" stroke-width="1.39" stroke-linejoin="miter" stroke-miterlimit="10"/>
<path d="M1259.58,683.95L1267.42,683.95L1263.50,691.65Z" fill="#bf00bf" fill-opacity="0.8" stroke="#bf00bf" stroke-opacity="0.8" stroke-width="1.39" stroke-linejoin="miter" stroke-miterlimit="10"/>
</g>
<g id="s_uvw2">
<g stroke="#808080" stroke-opacity="0.8" fill="none"><line x1="192.3" y1="121.9" x2="192.3" y2="124.9" stroke-width="2.0"/><line x1="188.1" y1="121.9" x2="196.5" y2="121.9" stroke-width="1.4"/><line x1="188.1" y1="124.9" x2="196.5" y2="124.9" stroke-width="1.4"/></g>
<g stroke="#808080" stroke-opacity="0.8" fill="none"><line x1="197.3" y1="133.4" x2="197.3" y2="137.4" stroke-width="2.0"/><line x1="193.1" y1="133.4" x2="201.5" y2="133.4" stroke-width="1.4"/><line x1="193.1" y1="137.4" x2="201.5" y2="137.4" stroke-width="1.4"/></g>
<g stroke="#808080" stroke-opacity="0.8" fill="none"><line x1="199.8" y1="136.3" x2="199.8" y2="145.3" stroke-width="2.0"/><line x1="195.6" y1="136.3" x2="204.0" y2="136.3" stroke-width="1.4"/><line x1="195.6" y1="145.3" x2="204.0" y2="145.3" stroke-width="1.4"/></g>
<g stroke="#808080" stroke-opacity="0.8" fill="none"><line x1="209.5" y1="176.4" x2="209.5" y2="180.4" stroke-width="2.0"/><line x1="205.3" y1="176.4" x2="213.7" y2="176.4" stroke-width="1.4"/><line x1="205.3" y1="180.4" x2="213.7" y2="180.4" stroke-width="1.4"/></g>
<g stroke="#808080" stroke-opacity="0.8" fill="none"><line x1="211.2" y1="183.6" x2="211.2" y2="187.6" stroke-width="2.0"/><line x1="207.0" y1="183.6" x2="215.4" y2="183.6" stroke-width="1.4"/><line x1="207.0" y1="187.6" x2="215.4" y2="187.6" stroke-width="1.4"/></g>
<g stroke="#808080" stroke-opacity="0.8" fill="none"><line x1="217.4" y1="215.5" x2="217.4" y2="221.5" stroke-width="2.0"/><line x1="213.2" y1="215.5" x2="221.6" y2="215.5" stroke-width="1.4"/><line x1="213.2" y1="221.5" x2="221.6" y2="221.5" stroke-width="1.4"/></g>
<g stroke="#808080" stroke-opacity="0.8" fill="none"><line x1="226.5" y1="234.6" x2="226.5" y2="240.6" stroke-width="2.0"/><line x1="222.3" y1="234.6" x2="230.7" y2="234.6" stroke-width="1.4"/><line x1="222.3" y1="240.6" x2="230.7" y2="240.6" stroke-width="1.4"/></g>
<g stroke="#808080" stroke-opacity="0.8" fill="none"><line x1="229.5" y1="243.4" x2="229.5" y2="249.4" stroke-width="2.0"/><line x1="225.3" y1="243.4" x2="233.7" y2="243.4" stroke-width="1.4"/><line x1="225.3" y1="249.4" x2="233.7" y2="249.4" stroke-width="1.4"/></g>
<g stroke="#808080" stroke-opacity="0.8" fill="none"><line x1="232.8" y1="246.7" x2="232.8" y2="252.7" stroke-width="2.0"/><line x1="228.6" y1="246.7" x2="237.0" y2="246.7" stroke-width="1.4"/><line x1="228.6" y1="252.7" x2="237.0" y2="252.7" stroke-width="1.4"/></g>
<g stroke="#808080" stroke-opacity="0.8" fill="none"><line x1="234.5" y1="254.8" x2="234.5" y2="262.8" stroke-width="2.0"/><line x1="230.3" y1="254.8" x2="238.7" y2="254.8" stroke-width="1.4"/><line x1="230.3" y1="262.8" x2="238.7" y2="262.8" stroke-width="1.4"/></g>
<g stroke="#808080" stroke-opacity="0.8" fill="none"><line x1="240.3" y1="279.7" x2="240.3" y2="287.7" stroke-width="2.0"/><line x1="236.1" y1="279.7" x2="244.5" y2="279.7" stroke-width="1.4"/><line x1="236.1" y1="287.7" x2="244.5" y2="287.7" stroke-width="1.4"/></g>
<g stroke="#808080" stroke-opacity="0.8" fill="none"><line x1="247.4" y1="311.4" x2="247.4" y2="323.4" stroke-width="2.0"/><line x1="243.2" y1="311.4" x2="251.6" y2="311.4" stroke-width="1.4"/><line x1="243.2" y1="323.4" x2="251.6" y2="323.4" stroke-width="1.4"/></g>
<g stroke="#808080" stroke-opacity="0.8" fill="none"><line x1="259.4" y1="384.5" x2="259.4" y2="406.5" stroke-width="2.0"/><line x1="255.2" y1="384.5" x2="263.6" y2="384.5" stroke-width="1.4"/><line x1="255.2" y1="406.5" x2="263.6" y2="406.5" stroke-width="1.4"/></g>
<g stroke="#808080" stroke-opacity="0.8" fill="none"><line x1="270.5" y1="390.5" x2="270.5" y2="404.5" stroke-width="2.0"/><line x1="266.3" y1="390.5" x2="274.7" y2="390.5" stroke-width="1.4"/><line x1="266.3" y1="404.5" x2="274.7" y2="404.5" stroke-width="1.4"/></g>
<g stroke="#808080" stroke-opacity="0.8" fill="none"><line x1="273.4" y1="419.3" x2="273.4" y2="437.3" stroke-width="2.0"/><line x1="269.2" y1="419.3" x2="277.6" y2="419.3" stroke-width="1.4"/><line x1="269.2" y1="437.3" x2="277.6" y2="437.3" stroke-width="1.4"/></g>
<g stroke="#808080" stroke-opacity="0.8" fill="none"><line x1="296.3" y1="456.2" x2="296.3" y2="474.2" stroke-width="2.0"/><line x1="292.1" y1="456.2" x2="300.5" y2="456.2" stroke-width="1.4"/><line x1="292.1" y1="474.2" x2="300.5" y2="474.2" stroke-width="1.4"/></g>
<g stroke="#808080" stroke-opacity="0.8" fill="none"><line x1="309.4" y1="493.4" x2="309.4" y2="513.4" stroke-width="2.0"/><line x1="305.2" y1="493.4" x2="313.6" y2="493.4" stroke-width="1.4"/><line x1="305.2" y1="513.4" x2="313.6" y2="513.4" stroke-width="1.4"/></g>
<g stroke="#808080" stroke-opacity="0.8" fill="none"><line x1="314.1" y1="499.8" x2="314.1" y2="525.2" stroke-width="2.0"/><line x1="309.9" y1="499.8" x2="318.3" y2="499.8" stroke-width="1.4"/><line x1="309.9" y1="525.2" x2="318.3" y2="525.2" stroke-width="1.4"/></g>
<g stroke="#808080" stroke-opacity="0.8" fill="none"><line x1="329.0" y1="502.5" x2="329.0" y2="522.5" stroke-width="2.0"/><line x1="324.8" y1="502.5" x2="333.2" y2="502.5" stroke-width="1.4"/><line x1="324.8" y1="522.5" x2="333.2" y2="522.5" stroke-width="1.4"/></g>
<g stroke="#808080" stroke-opacity="0.8" fill="none"><line x1="322.4" y1="525.2" x2="322.4" y2="553.2" stroke-width="2.0"/><line x1="318.2" y1="525.2" x2="326.6" y2="525.2" stroke-width="1.4"/><line x1="318.2" y1="553.2" x2="326.6" y2="553.2" stroke-width="1.4"/></g>
<g stroke="#808080" stroke-opacity="0.8" fill="none"><line x1="325.7" y1="524.3" x2="325.7" y2="548.3" stroke-width="2.0"/><line x1="321.5" y1="524.3" x2="329.9" y2="524.3" stroke-width="1.4"/><line x1="321.5" y1="548.3" x2="329.9" y2="548.3" stroke-width="1.4"/></g>
<g stroke="#808080" stroke-opacity="0.8" fill="none"><line x1="336.5" y1="527.6" x2="336.5" y2="553.2" stroke-width="2.0"/><line x1="332.3" y1="527.6" x2="340.7" y2="527.6" stroke-width="1.4"/><line x1="332.3" y1="553.2" x2="340.7" y2="553.2" stroke-width="1.4"/></g>
<g stroke="#808080" stroke-opacity="0.8" fill="none"><line x1="358.5" y1="531.4" x2="358.5" y2="561.4" stroke-width="2.0"/><line x1="354.3" y1="531.4" x2="362.7" y2="531.4" stroke-width="1.4"/><line x1="354.3" y1="561.4" x2="362.7" y2="561.4" stroke-width="1.4"/></g>
<g stroke="#808080" stroke-opacity="0.8" fill="none"><line x1="345.3" y1="525.3" x2="345.3" y2="585.3" stroke-width="2.0"/><line x1="341.1" y1="525.3" x2="349.5" y2="525.3" stroke-width="1.4"/><line x1="341.1" y1="585.3" x2="349.5" y2="585.3" stroke-width="1.4"/></g>
<g stroke="#808080" stroke-opacity="0.8" fill="none"><line x1="343.1" y1="564.0" x2="343.1" y2="604.0" stroke-width="2.0"/><line x1="338.9" y1="564.0" x2="347.3" y2="564.0" stroke-width="1.4"/><line x1="338.9" y1="604.0" x2="347.3" y2="604.0" stroke-width="1.4"/></g>
<g stroke="#808080" stroke-opacity="0.8" fill="none"><line x1="366.5" y1="567.3" x2="366.5" y2="595.3" stroke-width="2.0"/><line x1="362.3" y1="567.3" x2="370.7" y2="567.3" stroke-width="1.4"/><line x1="362.3" y1="595.3" x2="370.7" y2="595.3" stroke-width="1.4"/></g>
<g stroke="#808080" stroke-opacity="0.8" fill="none"><line x1="350.6" y1="567.1" x2="350.6" y2="623.1" stroke-width="2.0"/><line x1="346.4" y1="567.1" x2="354.8" y2="567.1" stroke-width="1.4"/><line x1="346.4" y1="623.1" x2="354.8" y2="623.1" stroke-width="1.4"/></g>
<g stroke="#808080" stroke-opacity="0.8" fill="none"><line x1="375.3" y1="581.5" x2="375.3" y2="623.5" stroke-width="2.0"/><line x1="371.1" y1="581.5" x2="379.5" y2="581.5" stroke-width="1.4"/><line x1="371.1" y1="623.5" x2="379.5" y2="623.5" stroke-width="1.4"/></g>
<g stroke="#808080" stroke-opacity="0.8" fill="none"><line x1="380.4" y1="582.2" x2="380.4" y2="616.2" stroke-width="2.0"/><line x1="376.2" y1="582.2" x2="384.6" y2="582.2" stroke-width="1.4"/><line x1="376.2" y1="616.2" x2="384.6" y2="616.2" stroke-width="1.4"/></g>
<g stroke="#808080" stroke-opacity="0.8" fill="none"><line x1="432.3" y1="677.3" x2="432.3" y2="755.3" stroke-width="2.0"/><line x1="428.1" y1="677.3" x2="436.5" y2="677.3" stroke-width="1.4"/><line x1="428.1" y1="755.3" x2="436.5" y2="755.3" stroke-width="1.4"/></g>
<g stroke="#808080" stroke-opacity="0.8" fill="none"><line x1="440.1" y1="661.3" x2="440.1" y2="713.3" stroke-width="2.0"/><line x1="435.9" y1="661.3" x2="444.3" y2="661.3" stroke-width="1.4"/><line x1="435.9" y1="713.3" x2="444.3" y2="713.3" stroke-width="1.4"/></g>
<g stroke="#808080" stroke-opacity="0.8" fill="none"><line x1="446.3" y1="656.9" x2="446.3" y2="723.7" stroke-width="2.0"/><line x1="442.1" y1="656.9" x2="450.5" y2="656.9" stroke-width="1.4"/><line x1="442.1" y1="723.7" x2="450.5" y2="723.7" stroke-width="1.4"/></g>
<g stroke="#808080" stroke-opacity="0.8" fill="none"><line x1="515.5" y1="612.6" x2="515.5" y2="668.2" stroke-width="2.0"/><line x1="511.3" y1="612.6" x2="519.7" y2="612.6" stroke-width="1.4"/><line x1="511.3" y1="668.2" x2="519.7" y2="668.2" stroke-width="1.4"/></g>
<g stroke="#808080" stroke-opacity="0.8" fill="none"><line x1="523.5" y1="652.4" x2="523.5" y2="718.4" stroke-width="2.0"/><line x1="519.3" y1="652.4" x2="527.7" y2="652.4" stroke-width="1.4"/><line x1="519.3" y1="718.4" x2="527.7" y2="718.4" stroke-width="1.4"/></g>
<g stroke="#808080" stroke-opacity="0.8" fill="none"><line x1="1222.2" y1="245.9" x2="1222.2" y2="250.9" stroke-width="2.0"/><line x1="1218.0" y1="245.9" x2="1226.4" y2="245.9" stroke-width="1.4"/><line x1="1218.0" y1="250.9" x2="1226.4" y2="250.9" stroke-width="1.4"/></g>
<g stroke="#808080" stroke-opacity="0.8" fill="none"><line x1="1225.9" y1="244.9" x2="1225.9" y2="249.9" stroke-width="2.0"/><line x1="1221.7" y1="244.9" x2="1230.1" y2="244.9" stroke-width="1.4"/><line x1="1221.7" y1="249.9" x2="1230.1" y2="249.9" stroke-width="1.4"/></g>
<g stroke="#808080" stroke-opacity="0.8" fill="none"><line x1="1231.5" y1="247.4" x2="1231.5" y2="252.4" stroke-width="2.0"/><line x1="1227.3" y1="247.4" x2="1235.7" y2="247.4" stroke-width="1.4"/><line x1="1227.3" y1="252.4" x2="1235.7" y2="252.4" stroke-width="1.4"/></g>
<g stroke="#808080" stroke-opacity="0.8" fill="none"><line x1="1241.2" y1="251.6" x2="1241.2" y2="257.6" stroke-width="2.0"/><line x1="1237.0" y1="251.6" x2="1245.4" y2="251.6" stroke-width="1.4"/><line x1="1237.0" y1="257.6" x2="1245.4" y2="257.6" stroke-width="1.4"/></g>
<g stroke="#808080" stroke-opacity="0.8" fill="none"><line x1="1245.8" y1="253.1" x2="1245.8" y2="259.1" stroke-width="2.0"/><line x1="1241.6" y1="253.1" x2="1250.0" y2="253.1" stroke-width="1.4"/><line x1="1241.6" y1="259.1" x2="1250.0" y2="259.1" stroke-width="1.4"/></g>
<g stroke="#808080" stroke-opacity="0.8" fill="none"><line x1="1248.7" y1="254.9" x2="1248.7" y2="261.9" stroke-width="2.0"/><line x1="1244.5" y1="254.9" x2="1252.9" y2="254.9" stroke-width="1.4"/><line x1="1244.5" y1="261.9" x2="1252.9" y2="261.9" stroke-width="1.4"/></g>
<g stroke="#808080" stroke-opacity="0.8" fill="none"><line x1="1218.5" y1="265.6" x2="1218.5" y2="271.6" stroke-width="2.0"/><line x1="1214.3" y1="265.6" x2="1222.7" y2="265.6" stroke-width="1.4"/><line x1="1214.3" y1="271.6" x2="1222.7" y2="271.6" stroke-width="1.4"/></g>
<g stroke="#808080" stroke-opacity="0.8" fill="none"><line x1="1214.1" y1="267.8" x2="1214.1" y2="273.8" stroke-width="2.0"/><line x1="1209.9" y1="267.8" x2="1218.3" y2="267.8" stroke-width="1.4"/><line x1="1209.9" y1="273.8" x2="1218.3" y2="273.8" stroke-width="1.4"/></g>
<g stroke="#808080" stroke-opacity="0.8" fill="none"><line x1="1210.4" y1="271.3" x2="1210.4" y2="278.3" stroke-width="2.0"/><line x1="1206.2" y1="271.3" x2="1214.6" y2="271.3" stroke-width="1.4"/><line x1="1206.2" y1="278.3" x2="1214.6" y2="278.3" stroke-width="1.4"/></g>
<g stroke="#808080" stroke-opacity="0.8" fill="none"><line x1="1253.7" y1="270.4" x2="1253.7" y2="277.4" stroke-width="2.0"/><line x1="1249.5" y1="270.4" x2="1257.9" y2="270.4" stroke-width="1.4"/><line x1="1249.5" y1="277.4" x2="1257.9" y2="277.4" stroke-width="1.4"/></g>
<g stroke="#808080" stroke-opacity="0.8" fill="none"><line x1="1258.3" y1="276.6" x2="1258.3" y2="283.6" stroke-width="2.0"/><line x1="1254.1" y1="276.6" x2="1262.5" y2="276.6" stroke-width="1.4"/><line x1="1254.1" y1="283.6" x2="1262.5" y2="283.6" stroke-width="1.4"/></g>
<g stroke="#808080" stroke-opacity="0.8" fill="none"><line x1="1209.4" y1="291.3" x2="1209.4" y2="299.3" stroke-width="2.0"/><line x1="1205.2" y1="291.3" x2="1213.6" y2="291.3" stroke-width="1.4"/><line x1="1205.2" y1="299.3" x2="1213.6" y2="299.3" stroke-width="1.4"/></g>
<g stroke="#808080" stroke-opacity="0.8" fill="none"><line x1="1205.4" y1="310.6" x2="1205.4" y2="320.6" stroke-width="2.0"/><line x1="1201.2" y1="310.6" x2="1209.6" y2="310.6" stroke-width="1.4"/><line x1="1201.2" y1="320.6" x2="1209.6" y2="320.6" stroke-width="1.4"/></g>
<g stroke="#808080" stroke-opacity="0.8" fill="none"><line x1="1265.7" y1="298.0" x2="1265.7" y2="307.0" stroke-width="2.0"/><line x1="1261.5" y1="298.0" x2="1269.9" y2="298.0" stroke-width="1.4"/><line x1="1261.5" y1="307.0" x2="1269.9" y2="307.0" stroke-width="1.4"/></g>
<g stroke="#808080" stroke-opacity="0.8" fill="none"><line x1="1270.7" y1="297.6" x2="1270.7" y2="306.6" stroke-width="2.0"/><line x1="1266.5" y1="297.6" x2="1274.9" y2="297.6" stroke-width="1.4"/><line x1="1266.5" y1="306.6" x2="1274.9" y2="306.6" stroke-width="1.4"/></g>
<g stroke="#808080" stroke-opacity="0.8" fill="none"><line x1="1279.4" y1="439.0" x2="1279.4" y2="452.0" stroke-width="2.0"/><line x1="1275.2" y1="439.0" x2="1283.6" y2="439.0" stroke-width="1.4"/><line x1="1275.2" y1="452.0" x2="1283.6" y2="452.0" stroke-width="1.4"/></g>
<circle cx="192.3" cy="123.4" r="3.95" fill="#808080" fill-opacity="0.8" stroke="#808080" stroke-opacity="0.8" stroke-width="1.39"/>
<circle cx="197.3" cy="135.4" r="3.95" fill="#808080" fill-opacity="0.8" stroke="#808080" stroke-opacity="0.8" stroke-width="1.39"/>
<circle cx="199.8" cy="140.8" r="3.95" fill="#808080" fill-opacity="0.8" stroke="#808080" stroke-opacity="0.8" stroke-width="1.39"/>
<circle cx="209.5" cy="178.4" r="3.95" fill="#808080" fill-opacity="0.8" stroke="#808080" stroke-opacity="0.8" stroke-width="1.39"/>
<circle cx="211.2" cy="185.6" r="3.95" fill="#808080" fill-opacity="0.8" stroke="#808080" stroke-opacity="0.8" stroke-width="1.39"/>
<circle cx="217.4" cy="218.5" r="3.95" fill="#808080" fill-opacity="0.8" stroke="#808080" stroke-opacity="0.8" stroke-width="1.39"/>
<circle cx="226.5" cy="237.6" r="3.95" fill="#808080" fill-opacity="0.8" stroke="#808080" stroke-opacity="0.8" stroke-width="1.39"/>
<circle cx="229.5" cy="246.4" r="3.95" fill="#808080" fill-opacity="0.8" stroke="#808080" stroke-opacity="0.8" stroke-width="1.39"/>
<circle cx="232.8" cy="249.7" r="3.95" fill="#808080" fill-opacity="0.8" stroke="#808080" stroke-opacity="0.8" stroke-width="1.39"/>
<circle cx="234.5" cy="258.8" r="3.95" fill="#808080" fill-opacity="0.8" stroke="#808080" stroke-opacity="0.8" stroke-width="1.39"/>
<circle cx="240.3" cy="283.7" r="3.95" fill="#808080" fill-opacity="0.8" stroke="#808080" stroke-opacity="0.8" stroke-width="1.39"/>
<circle cx="247.4" cy="317.4" r="3.95" fill="#808080" fill-opacity="0.8" stroke="#808080" stroke-opacity="0.8" stroke-width="1.39"/>
<circle cx="259.4" cy="395.5" r="3.95" fill="#808080" fill-opacity="0.8" stroke="#808080" stroke-opacity="0.8" stroke-width="1.39"/>
<circle cx="270.5" cy="397.5" r="3.95" fill="#808080" fill-opacity="0.8" stroke="#808080" stroke-opacity="0.8" stroke-width="1.39"/>
<circle cx="273.4" cy="428.3" r="3.95" fill="#808080" fill-opacity="0.8" stroke="#808080" stroke-opacity="0.8" stroke-width="1.39"/>
<circle cx="296.3" cy="465.2" r="3.95" fill="#808080" fill-opacity="0.8" stroke="#808080" stroke-opacity="0.8" stroke-width="1.39"/>
<circle cx="309.4" cy="503.4" r="3.95" fill="#808080" fill-opacity="0.8" stroke="#808080" stroke-opacity="0.8" stroke-width="1.39"/>
<circle cx="314.1" cy="512.5" r="3.95" fill="#808080" fill-opacity="0.8" stroke="#808080" stroke-opacity="0.8" stroke-width="1.39"/>
<circle cx="329.0" cy="512.5" r="3.95" fill="#808080" fill-opacity="0.8" stroke="#808080" stroke-opacity="0.8" stroke-width="1.39"/>
<circle cx="322.4" cy="539.2" r="3.95" fill="#808080" fill-opacity="0.8" stroke="#808080" stroke-opacity="0.8" stroke-width="1.39"/>
<circle cx="325.7" cy="536.3" r="3.95" fill="#808080" fill-opacity="0.8" stroke="#808080" stroke-opacity="0.8" stroke-width="1.39"/>
<circle cx="336.5" cy="540.4" r="3.95" fill="#808080" fill-opacity="0.8" stroke="#808080" stroke-opacity="0.8" stroke-width="1.39"/>
<circle cx="358.5" cy="546.4" r="3.95" fill="#808080" fill-opacity="0.8" stroke="#808080" stroke-opacity="0.8" stroke-width="1.39"/>
<circle cx="345.3" cy="555.3" r="3.95" fill="#808080" fill-opacity="0.8" stroke="#808080" stroke-opacity="0.8" stroke-width="1.39"/>
<circle cx="343.1" cy="584.0" r="3.95" fill="#808080" fill-opacity="0.8" stroke="#808080" stroke-opacity="0.8" stroke-width="1.39"/>
<circle cx="366.5" cy="581.3" r="3.95" fill="#808080" fill-opacity="0.8" stroke="#808080" stroke-opacity="0.8" stroke-width="1.39"/>
<circle cx="350.6" cy="595.1" r="3.95" fill="#808080" fill-opacity="0.8" stroke="#808080" stroke-opacity="0.8" stroke-width="1.39"/>
<circle cx="375.3" cy="602.5" r="3.95" fill="#808080" fill-opacity="0.8" stroke="#808080" stroke-opacity="0.8" stroke-width="1.39"/>
<circle cx="380.4" cy="599.2" r="3.95" fill="#808080" fill-opacity="0.8" stroke="#808080" stroke-opacity="0.8" stroke-width="1.39"/>
<circle cx="432.3" cy="716.3" r="3.95" fill="#808080" fill-opacity="0.8" stroke="#808080" stroke-opacity="0.8" stroke-width="1.39"/>
<circle cx="440.1" cy="687.3" r="3.95" fill="#808080" fill-opacity="0.8" stroke="#808080" stroke-opacity="0.8" stroke-width="1.39"/>
<circle cx="446.3" cy="690.3" r="3.95" fill="#808080" fill-opacity="0.8" stroke="#808080" stroke-opacity="0.8" stroke-width="1.39"/>
<circle cx="515.5" cy="640.4" r="3.95" fill="#808080" fill-opacity="0.8" stroke="#808080" stroke-opacity="0.8" stroke-width="1.39"/>
<circle cx="523.5" cy="685.4" r="3.95" fill="#808080" fill-opacity="0.8" stroke="#808080" stroke-opacity="0.8" stroke-width="1.39"/>
<circle cx="1222.2" cy="248.4" r="3.95" fill="#808080" fill-opacity="0.8" stroke="#808080" stroke-opacity="0.8" stroke-width="1.39"/>
<circle cx="1225.9" cy="247.4" r="3.95" fill="#808080" fill-opacity="0.8" stroke="#808080" stroke-opacity="0.8" stroke-width="1.39"/>
<circle cx="1231.5" cy="249.9" r="3.95" fill="#808080" fill-opacity="0.8" stroke="#808080" stroke-opacity="0.8" stroke-width="1.39"/>
<circle cx="1241.2" cy="254.6" r="3.95" fill="#808080" fill-opacity="0.8" stroke="#808080" stroke-opacity="0.8" stroke-width="1.39"/>
<circle cx="1245.8" cy="256.1" r="3.95" fill="#808080" fill-opacity="0.8" stroke="#808080" stroke-opacity="0.8" stroke-width="1.39"/>
<circle cx="1248.7" cy="258.4" r="3.95" fill="#808080" fill-opacity="0.8" stroke="#808080" stroke-opacity="0.8" stroke-width="1.39"/>
<circle cx="1218.5" cy="268.6" r="3.95" fill="#808080" fill-opacity="0.8" stroke="#808080" stroke-opacity="0.8" stroke-width="1.39"/>
<circle cx="1214.1" cy="270.8" r="3.95" fill="#808080" fill-opacity="0.8" stroke="#808080" stroke-opacity="0.8" stroke-width="1.39"/>
<circle cx="1210.4" cy="274.8" r="3.95" fill="#808080" fill-opacity="0.8" stroke="#808080" stroke-opacity="0.8" stroke-width="1.39"/>
<circle cx="1253.7" cy="273.9" r="3.95" fill="#808080" fill-opacity="0.8" stroke="#808080" stroke-opacity="0.8" stroke-width="1.39"/>
<circle cx="1258.3" cy="280.1" r="3.95" fill="#808080" fill-opacity="0.8" stroke="#808080" stroke-opacity="0.8" stroke-width="1.39"/>
<circle cx="1209.4" cy="295.3" r="3.95" fill="#808080" fill-opacity="0.8" stroke="#808080" stroke-opacity="0.8" stroke-width="1.39"/>
<circle cx="1205.4" cy="315.6" r="3.95" fill="#808080" fill-opacity="0.8" stroke="#808080" stroke-opacity="0.8" stroke-width="1.39"/>
<circle cx="1265.7" cy="302.5" r="3.95" fill="#808080" fill-opacity="0.8" stroke="#808080" stroke-opacity="0.8" stroke-width="1.39"/>
<circle cx="1270.7" cy="302.1" r="3.95" fill="#808080" fill-opacity="0.8" stroke="#808080" stroke-opacity="0.8" stroke-width="1.39"/>
<circle cx="1279.4" cy="445.5" r="3.95" fill="#808080" fill-opacity="0.8" stroke="#808080" stroke-opacity="0.8" stroke-width="1.39"/>
<path d="M480.68,684.85L488.52,684.85L484.60,692.55Z" fill="#808080" fill-opacity="0.8" stroke="#808080" stroke-opacity="0.8" stroke-width="1.39" stroke-linejoin="miter" stroke-miterlimit="10"/>
<path d="M490.58,593.95L498.42,593.95L494.50,601.65Z" fill="#808080" fill-opacity="0.8" stroke="#808080" stroke-opacity="0.8" stroke-width="1.39" stroke-linejoin="miter" stroke-miterlimit="10"/>
<path d="M475.68,638.75L483.52,638.75L479.60,646.45Z" fill="#808080" fill-opacity="0.8" stroke="#808080" stroke-opacity="0.8" stroke-width="1.39" stroke-linejoin="miter" stroke-miterlimit="10"/>
<path d="M480.58,684.35L488.42,684.35L484.50,692.05Z" fill="#808080" fill-opacity="0.8" stroke="#808080" stroke-opacity="0.8" stroke-width="1.39" stroke-linejoin="miter" stroke-miterlimit="10"/>
<path d="M504.18,715.55L512.02,715.55L508.10,723.25Z" fill="#808080" fill-opacity="0.8" stroke="#808080" stroke-opacity="0.8" stroke-width="1.39" stroke-linejoin="miter" stroke-miterlimit="10"/>
<path d="M482.68,757.75L490.52,757.75L486.60,765.45Z" fill="#808080" fill-opacity="0.8" stroke="#808080" stroke-opacity="0.8" stroke-width="1.39" stroke-linejoin="miter" stroke-miterlimit="10"/>
<path d="M497.28,757.75L505.12,757.75L501.20,765.45Z" fill="#808080" fill-opacity="0.8" stroke="#808080" stroke-opacity="0.8" stroke-width="1.39" stroke-linejoin="miter" stroke-miterlimit="10"/>
<path d="M731.38,696.95L739.22,696.95L735.30,704.65Z" fill="#808080" fill-opacity="0.8" stroke="#808080" stroke-opacity="0.8" stroke-width="1.39" stroke-linejoin="miter" stroke-miterlimit="10"/>
</g>
</g>
<g stroke="#000" fill="none" stroke-linecap="butt">
<rect x="93.5" y="85.5" width="1240.0" height="693.0" stroke-width="1.2"/>
<line x1="137.5" y1="778.5" x2="137.5" y2="764.8" stroke-width="1.1"/>
<line x1="283.5" y1="778.5" x2="283.5" y2="764.8" stroke-width="1.1"/>
<line x1="429.5" y1="778.5" x2="429.5" y2="764.8" stroke-width="1.1"/>
<line x1="575.5" y1="778.5" x2="575.5" y2="764.8" stroke-width="1.1"/>
<line x1="721.5" y1="778.5" x2="721.5" y2="764.8" stroke-width="1.1"/>
<line x1="866.5" y1="778.5" x2="866.5" y2="764.8" stroke-width="1.1"/>
<line x1="1012.5" y1="778.5" x2="1012.5" y2="764.8" stroke-width="1.1"/>
<line x1="1158.5" y1="778.5" x2="1158.5" y2="764.8" stroke-width="1.1"/>
<line x1="1304.5" y1="778.5" x2="1304.5" y2="764.8" stroke-width="1.1"/>
<line x1="108.5" y1="85.5" x2="108.5" y2="99.2" stroke-width="1.1"/>
<line x1="640.5" y1="85.5" x2="640.5" y2="99.2" stroke-width="1.1"/>
<line x1="1173.5" y1="85.5" x2="1173.5" y2="99.2" stroke-width="1.1"/>
<line x1="93.5" y1="85.5" x2="100.7" y2="85.5" stroke-width="0.85"/>
<line x1="93.5" y1="111.5" x2="100.7" y2="111.5" stroke-width="0.85"/>
<line x1="93.5" y1="137.5" x2="107.2" y2="137.5" stroke-width="1.1"/>
<line x1="93.5" y1="162.5" x2="100.7" y2="162.5" stroke-width="0.85"/>
<line x1="93.5" y1="188.5" x2="100.7" y2="188.5" stroke-width="0.85"/>
<line x1="93.5" y1="214.5" x2="100.7" y2="214.5" stroke-width="0.85"/>
<line x1="93.5" y1="240.5" x2="100.7" y2="240.5" stroke-width="0.85"/>
<line x1="93.5" y1="265.5" x2="107.2" y2="265.5" stroke-width="1.1"/>
<line x1="93.5" y1="291.5" x2="100.7" y2="291.5" stroke-width="0.85"/>
<line x1="93.5" y1="317.5" x2="100.7" y2="317.5" stroke-width="0.85"/>
<line x1="93.5" y1="342.5" x2="100.7" y2="342.5" stroke-width="0.85"/>
<line x1="93.5" y1="368.5" x2="100.7" y2="368.5" stroke-width="0.85"/>
<line x1="93.5" y1="394.5" x2="107.2" y2="394.5" stroke-width="1.1"/>
<line x1="93.5" y1="420.5" x2="100.7" y2="420.5" stroke-width="0.85"/>
<line x1="93.5" y1="445.5" x2="100.7" y2="445.5" stroke-width="0.85"/>
<line x1="93.5" y1="471.5" x2="100.7" y2="471.5" stroke-width="0.85"/>
<line x1="93.5" y1="497.5" x2="100.7" y2="497.5" stroke-width="0.85"/>
<line x1="93.5" y1="522.5" x2="107.2" y2="522.5" stroke-width="1.1"/>
<line x1="93.5" y1="548.5" x2="100.7" y2="548.5" stroke-width="0.85"/>
<line x1="93.5" y1="574.5" x2="100.7" y2="574.5" stroke-width="0.85"/>
<line x1="93.5" y1="599.5" x2="100.7" y2="599.5" stroke-width="0.85"/>
<line x1="93.5" y1="625.5" x2="100.7" y2="625.5" stroke-width="0.85"/>
<line x1="93.5" y1="651.5" x2="107.2" y2="651.5" stroke-width="1.1"/>
<line x1="93.5" y1="677.5" x2="100.7" y2="677.5" stroke-width="0.85"/>
<line x1="93.5" y1="702.5" x2="100.7" y2="702.5" stroke-width="0.85"/>
<line x1="93.5" y1="728.5" x2="100.7" y2="728.5" stroke-width="0.85"/>
<line x1="93.5" y1="754.5" x2="100.7" y2="754.5" stroke-width="0.85"/>
<line x1="1333.5" y1="94.5" x2="1326.3" y2="94.5" stroke-width="0.85"/>
<line x1="1333.5" y1="120.5" x2="1326.3" y2="120.5" stroke-width="0.85"/>
<line x1="1333.5" y1="145.5" x2="1326.3" y2="145.5" stroke-width="0.85"/>
<line x1="1333.5" y1="171.5" x2="1326.3" y2="171.5" stroke-width="0.85"/>
<line x1="1333.5" y1="197.5" x2="1319.8" y2="197.5" stroke-width="1.1"/>
<line x1="1333.5" y1="223.5" x2="1326.3" y2="223.5" stroke-width="0.85"/>
<line x1="1333.5" y1="248.5" x2="1326.3" y2="248.5" stroke-width="0.85"/>
<line x1="1333.5" y1="274.5" x2="1326.3" y2="274.5" stroke-width="0.85"/>
<line x1="1333.5" y1="300.5" x2="1326.3" y2="300.5" stroke-width="0.85"/>
<line x1="1333.5" y1="326.5" x2="1319.8" y2="326.5" stroke-width="1.1"/>
<line x1="1333.5" y1="351.5" x2="1326.3" y2="351.5" stroke-width="0.85"/>
<line x1="1333.5" y1="377.5" x2="1326.3" y2="377.5" stroke-width="0.85"/>
<line x1="1333.5" y1="403.5" x2="1326.3" y2="403.5" stroke-width="0.85"/>
<line x1="1333.5" y1="429.5" x2="1326.3" y2="429.5" stroke-width="0.85"/>
<line x1="1333.5" y1="454.5" x2="1319.8" y2="454.5" stroke-width="1.1"/>
<line x1="1333.5" y1="480.5" x2="1326.3" y2="480.5" stroke-width="0.85"/>
<line x1="1333.5" y1="506.5" x2="1326.3" y2="506.5" stroke-width="0.85"/>
<line x1="1333.5" y1="532.5" x2="1326.3" y2="532.5" stroke-width="0.85"/>
<line x1="1333.5" y1="557.5" x2="1326.3" y2="557.5" stroke-width="0.85"/>
<line x1="1333.5" y1="583.5" x2="1319.8" y2="583.5" stroke-width="1.1"/>
<line x1="1333.5" y1="609.5" x2="1326.3" y2="609.5" stroke-width="0.85"/>
<line x1="1333.5" y1="635.5" x2="1326.3" y2="635.5" stroke-width="0.85"/>
<line x1="1333.5" y1="660.5" x2="1326.3" y2="660.5" stroke-width="0.85"/>
<line x1="1333.5" y1="686.5" x2="1326.3" y2="686.5" stroke-width="0.85"/>
<line x1="1333.5" y1="712.5" x2="1319.8" y2="712.5" stroke-width="1.1"/>
<line x1="1333.5" y1="738.5" x2="1326.3" y2="738.5" stroke-width="0.85"/>
<line x1="1333.5" y1="764.5" x2="1326.3" y2="764.5" stroke-width="0.85"/>
</g>
<g font-family="Liberation Serif, serif" fill="#000" opacity="0.999">
<text x="136.9" y="804.9" font-size="33.4" text-anchor="middle">59600</text>
<text x="282.8" y="804.9" font-size="33.4" text-anchor="middle">59700</text>
<text x="428.6" y="804.9" font-size="33.4" text-anchor="middle">59800</text>
<text x="574.5" y="804.9" font-size="33.4" text-anchor="middle">59900</text>
<text x="720.4" y="806.8" font-size="33.4" text-anchor="middle">60000</text>
<text x="866.3" y="806.8" font-size="33.4" text-anchor="middle">60100</text>
<text x="1012.1" y="806.8" font-size="33.4" text-anchor="middle">60200</text>
<text x="1158.0" y="806.8" font-size="33.4" text-anchor="middle">60300</text>
<text x="1303.9" y="806.8" font-size="33.4" text-anchor="middle">60400</text>
<text x="108.3" y="74.2" font-size="33.4" text-anchor="middle">2022</text>
<text x="640.8" y="74.2" font-size="33.4" text-anchor="middle">2023</text>
<text x="1173.2" y="74.2" font-size="33.4" text-anchor="middle">2024</text>
<text x="84.9" y="148.8" font-size="33.4" text-anchor="end">16</text>
<text x="84.3" y="277.0" font-size="33.4" text-anchor="end">17</text>
<text x="84.6" y="406.0" font-size="33.4" text-anchor="end">18</text>
<text x="84.5" y="533.4" font-size="33.4" text-anchor="end">19</text>
<text x="89.3" y="663.0" font-size="33.4" text-anchor="end">20</text>
<text x="1363.4" y="208.1" font-size="33.4" text-anchor="start">19</text>
<line x1="1339.2" y1="199.9" x2="1359.2" y2="199.9" stroke="#000" stroke-width="1.7"/>
<text x="1363.4" y="337.9" font-size="33.4" text-anchor="start">18</text>
<line x1="1339.2" y1="328.9" x2="1359.2" y2="328.9" stroke="#000" stroke-width="1.7"/>
<text x="1363.4" y="465.8" font-size="33.4" text-anchor="start">17</text>
<line x1="1339.2" y1="456.9" x2="1359.2" y2="456.9" stroke="#000" stroke-width="1.7"/>
<text x="1363.4" y="594.8" font-size="33.4" text-anchor="start">16</text>
<line x1="1339.2" y1="585.9" x2="1359.2" y2="585.9" stroke="#000" stroke-width="1.7"/>
<text x="1363.4" y="723.8" font-size="33.4" text-anchor="start">15</text>
<line x1="1339.2" y1="714.9" x2="1359.2" y2="714.9" stroke="#000" stroke-width="1.7"/>
<text x="714" y="38.2" font-size="33" text-anchor="middle">Year</text>
<text x="713" y="846" font-size="38" text-anchor="middle">MJD</text>
<text transform="translate(41.4,434.0) rotate(-90)" font-size="38" word-spacing="3.2" text-anchor="middle">MW Corrected Sci. Mag (<tspan font-style="italic">m</tspan><tspan font-size="26.6" dy="4.9">AB</tspan><tspan dy="-4.9">)</tspan></text>
<text transform="translate(1429.8,434.6) rotate(-90)" font-size="38.5" text-anchor="middle"><tspan font-style="italic">M</tspan><tspan font-size="28" dy="5.5">AB</tspan></text>
</g>
<rect x="416" y="99.6" width="596.6" height="204.70000000000002" rx="4" ry="4" fill="#fff" fill-opacity="0.8" stroke="#cccccc" stroke-opacity="0.8" stroke-width="1.3"/>
<g stroke="#808080" stroke-opacity="0.8" fill="none"><line x1="437.4" y1="106.3" x2="437.4" y2="134.1" stroke-width="2.0"/><line x1="433.2" y1="106.3" x2="441.6" y2="106.3" stroke-width="1.4"/><line x1="433.2" y1="134.1" x2="441.6" y2="134.1" stroke-width="1.4"/></g><circle cx="437.4" cy="120.2" r="3.95" fill="#808080" fill-opacity="0.8" stroke="#808080" stroke-opacity="0.8" stroke-width="1.39"/><path d="M466.58,118.25L474.42,118.25L470.50,125.95Z" fill="#808080" fill-opacity="0.8" stroke="#808080" stroke-opacity="0.8" stroke-width="1.39" stroke-linejoin="miter" stroke-miterlimit="10"/><text x="504.6" y="130.5" font-family="Liberation Serif, serif" font-size="27.4" fill="#000" opacity="0.999">UVW2</text>
<g stroke="#bf00bf" stroke-opacity="0.8" fill="none"><line x1="437.4" y1="145.6" x2="437.4" y2="173.4" stroke-width="2.0"/><line x1="433.2" y1="145.6" x2="441.6" y2="145.6" stroke-width="1.4"/><line x1="433.2" y1="173.4" x2="441.6" y2="173.4" stroke-width="1.4"/></g><circle cx="437.4" cy="159.5" r="3.95" fill="#bf00bf" fill-opacity="0.8" stroke="#bf00bf" stroke-opacity="0.8" stroke-width="1.39"/><path d="M466.58,157.54L474.42,157.54L470.50,165.25Z" fill="#bf00bf" fill-opacity="0.8" stroke="#bf00bf" stroke-opacity="0.8" stroke-width="1.39" stroke-linejoin="miter" stroke-miterlimit="10"/><text x="504.6" y="169.8" font-family="Liberation Serif, serif" font-size="27.4" fill="#000" opacity="0.999">UVM2</text>
<g stroke="#dc143c" stroke-opacity="0.8" fill="none"><line x1="437.4" y1="185.1" x2="437.4" y2="212.9" stroke-width="2.0"/><line x1="433.2" y1="185.1" x2="441.6" y2="185.1" stroke-width="1.4"/><line x1="433.2" y1="212.9" x2="441.6" y2="212.9" stroke-width="1.4"/></g><circle cx="437.4" cy="199.0" r="3.95" fill="#dc143c" fill-opacity="0.8" stroke="#dc143c" stroke-opacity="0.8" stroke-width="1.39"/><path d="M466.58,197.04L474.42,197.04L470.50,204.75Z" fill="#dc143c" fill-opacity="0.8" stroke="#dc143c" stroke-opacity="0.8" stroke-width="1.39" stroke-linejoin="miter" stroke-miterlimit="10"/><text x="504.6" y="209.3" font-family="Liberation Serif, serif" font-size="27.4" fill="#000" opacity="0.999">UVW1</text>
<g stroke="#bfbf00" stroke-opacity="0.8" fill="none"><line x1="437.4" y1="224.4" x2="437.4" y2="252.2" stroke-width="2.0"/><line x1="433.2" y1="224.4" x2="441.6" y2="224.4" stroke-width="1.4"/><line x1="433.2" y1="252.2" x2="441.6" y2="252.2" stroke-width="1.4"/></g><circle cx="437.4" cy="238.3" r="3.95" fill="#bfbf00" fill-opacity="0.8" stroke="#bfbf00" stroke-opacity="0.8" stroke-width="1.39"/><path d="M466.58,236.34L474.42,236.34L470.50,244.05Z" fill="#bfbf00" fill-opacity="0.8" stroke="#bfbf00" stroke-opacity="0.8" stroke-width="1.39" stroke-linejoin="miter" stroke-miterlimit="10"/><text x="504.6" y="248.6" font-family="Liberation Serif, serif" font-size="27.4" fill="#000" opacity="0.999">U</text>
<g stroke="#1f77b4" stroke-opacity="0.8" fill="none"><line x1="437.4" y1="263.5" x2="437.4" y2="291.3" stroke-width="2.0"/><line x1="433.2" y1="263.5" x2="441.6" y2="263.5" stroke-width="1.4"/><line x1="433.2" y1="291.3" x2="441.6" y2="291.3" stroke-width="1.4"/></g><circle cx="437.4" cy="277.4" r="3.95" fill="#1f77b4" fill-opacity="0.8" stroke="#1f77b4" stroke-opacity="0.8" stroke-width="1.39"/><path d="M466.58,275.44L474.42,275.44L470.50,283.15Z" fill="#1f77b4" fill-opacity="0.8" stroke="#1f77b4" stroke-opacity="0.8" stroke-width="1.39" stroke-linejoin="miter" stroke-miterlimit="10"/><text x="504.6" y="287.7" font-family="Liberation Serif, serif" font-size="27.4" fill="#000" opacity="0.999">B</text>
<path d="M663.38,118.25L671.22,118.25L667.30,125.95Z" fill="#ffc0cb" fill-opacity="0.8" stroke="#ffc0cb" stroke-opacity="0.8" stroke-width="1.39" stroke-linejoin="miter" stroke-miterlimit="10"/><text x="716.8" y="130.5" font-family="Liberation Serif, serif" font-size="27.4" fill="#000" opacity="0.999">V</text>
<g stroke="#008000" stroke-opacity="0.8" fill="none"><line x1="650.3" y1="145.6" x2="650.3" y2="173.4" stroke-width="2.0"/><line x1="646.1" y1="145.6" x2="654.5" y2="145.6" stroke-width="1.4"/><line x1="646.1" y1="173.4" x2="654.5" y2="173.4" stroke-width="1.4"/></g><circle cx="650.3" cy="159.5" r="3.95" fill="#008000" fill-opacity="0.8" stroke="#008000" stroke-opacity="0.8" stroke-width="1.39"/><path d="M681.23,159.49L685.17,159.49L683.20,163.30Z" fill="#008000" fill-opacity="0.8" stroke="#008000" stroke-opacity="0.8" stroke-width="1.39" stroke-linejoin="miter" stroke-miterlimit="10"/><text x="716.8" y="169.8" font-family="Liberation Serif, serif" font-size="27.4" fill="#000" opacity="0.999">ZTF-g</text>
<g stroke="#ff0000" stroke-opacity="0.8" fill="none"><line x1="650.3" y1="185.1" x2="650.3" y2="212.9" stroke-width="2.0"/><line x1="646.1" y1="185.1" x2="654.5" y2="185.1" stroke-width="1.4"/><line x1="646.1" y1="212.9" x2="654.5" y2="212.9" stroke-width="1.4"/></g><circle cx="650.3" cy="199.0" r="3.95" fill="#ff0000" fill-opacity="0.8" stroke="#ff0000" stroke-opacity="0.8" stroke-width="1.39"/><path d="M681.23,198.99L685.17,198.99L683.20,202.80Z" fill="#ff0000" fill-opacity="0.8" stroke="#ff0000" stroke-opacity="0.8" stroke-width="1.39" stroke-linejoin="miter" stroke-miterlimit="10"/><text x="716.8" y="209.3" font-family="Liberation Serif, serif" font-size="27.4" fill="#000" opacity="0.999">ZTF-r</text>
<g stroke="#00ffff" stroke-opacity="0.4" fill="none"><line x1="650.3" y1="224.4" x2="650.3" y2="252.2" stroke-width="2.0"/><line x1="646.1" y1="224.4" x2="654.5" y2="224.4" stroke-width="1.4"/><line x1="646.1" y1="252.2" x2="654.5" y2="252.2" stroke-width="1.4"/></g><circle cx="650.3" cy="238.3" r="3.95" fill="#00ffff" fill-opacity="0.4" stroke="#00ffff" stroke-opacity="0.4" stroke-width="1.39"/><path d="M680.61,237.67L685.79,237.67L683.20,242.72Z" fill="#00ffff" fill-opacity="0.4" stroke="#00ffff" stroke-opacity="0.4" stroke-width="1.39" stroke-linejoin="miter" stroke-miterlimit="10"/><text x="716.8" y="248.6" font-family="Liberation Serif, serif" font-size="27.4" fill="#000" opacity="0.999">c</text>
<g stroke="#ffa500" stroke-opacity="0.4" fill="none"><line x1="856.3" y1="106.3" x2="856.3" y2="134.1" stroke-width="2.0"/><line x1="852.1" y1="106.3" x2="860.5" y2="106.3" stroke-width="1.4"/><line x1="852.1" y1="134.1" x2="860.5" y2="134.1" stroke-width="1.4"/></g><circle cx="856.3" cy="120.2" r="3.95" fill="#ffa500" fill-opacity="0.4" stroke="#ffa500" stroke-opacity="0.4" stroke-width="1.39"/><path d="M886.51,119.57L891.69,119.57L889.10,124.62Z" fill="#ffa500" fill-opacity="0.4" stroke="#ffa500" stroke-opacity="0.4" stroke-width="1.39" stroke-linejoin="miter" stroke-miterlimit="10"/><text x="922.1" y="130.5" font-family="Liberation Serif, serif" font-size="27.4" fill="#000" opacity="0.999">o</text>
<g stroke="#008000" stroke-opacity="0.8" fill="none"><line x1="872.5" y1="145.6" x2="872.5" y2="173.4" stroke-width="2.0"/><line x1="868.3" y1="145.6" x2="876.7" y2="145.6" stroke-width="1.4"/><line x1="868.3" y1="173.4" x2="876.7" y2="173.4" stroke-width="1.4"/></g><rect x="868.7" y="155.7" width="7.6" height="7.6" fill="#008000" fill-opacity="0.8" stroke="#008000" stroke-opacity="0.8" stroke-width="1.39"/><text x="922.1" y="169.8" font-family="Liberation Serif, serif" font-size="27.4" fill="#000" opacity="0.999">LCO-g</text>
<g stroke="#ff0000" stroke-opacity="0.8" fill="none"><line x1="872.5" y1="185.1" x2="872.5" y2="212.9" stroke-width="2.0"/><line x1="868.3" y1="185.1" x2="876.7" y2="185.1" stroke-width="1.4"/><line x1="868.3" y1="212.9" x2="876.7" y2="212.9" stroke-width="1.4"/></g><rect x="868.7" y="195.2" width="7.6" height="7.6" fill="#ff0000" fill-opacity="0.8" stroke="#ff0000" stroke-opacity="0.8" stroke-width="1.39"/><text x="922.1" y="209.3" font-family="Liberation Serif, serif" font-size="27.4" fill="#000" opacity="0.999">LCO-r</text>
<g stroke="#0000ff" stroke-opacity="0.8" fill="none"><line x1="872.5" y1="224.4" x2="872.5" y2="252.2" stroke-width="2.0"/><line x1="868.3" y1="224.4" x2="876.7" y2="224.4" stroke-width="1.4"/><line x1="868.3" y1="252.2" x2="876.7" y2="252.2" stroke-width="1.4"/></g><rect x="868.7" y="234.5" width="7.6" height="7.6" fill="#0000ff" fill-opacity="0.8" stroke="#0000ff" stroke-opacity="0.8" stroke-width="1.39"/><text x="922.1" y="248.6" font-family="Liberation Serif, serif" font-size="27.4" fill="#000" opacity="0.999">LCO-i</text>
</svg>
</body></html>
